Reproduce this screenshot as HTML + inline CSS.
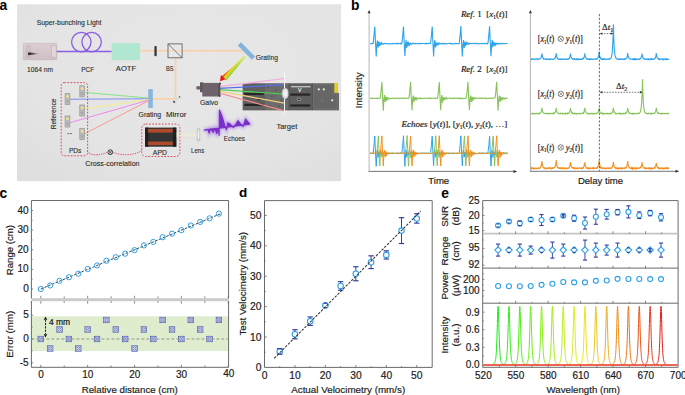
<!DOCTYPE html>
<html><head><meta charset="utf-8"><style>
html,body{margin:0;padding:0;background:#fff;width:685px;height:395px;overflow:hidden}
svg{display:block}
</style></head><body>
<svg width="685" height="395" viewBox="0 0 685 395">
<defs>
<radialGradient id="bgA" cx="0.55" cy="0.35" r="0.75">
<stop offset="0" stop-color="#e7e7e7"/><stop offset="0.7" stop-color="#e4e4e4"/><stop offset="1" stop-color="#dfdfdf"/>
</radialGradient>
<linearGradient id="rainbow" gradientUnits="userSpaceOnUse" x1="236" y1="64" x2="243" y2="71">
<stop offset="0" stop-color="#e81818"/><stop offset="0.3" stop-color="#f57a10"/><stop offset="0.55" stop-color="#f2e020"/><stop offset="0.8" stop-color="#8ed830"/><stop offset="1" stop-color="#d9e68a"/>
</linearGradient>
<linearGradient id="rbfade" gradientUnits="userSpaceOnUse" x1="222" y1="82" x2="246" y2="56">
<stop offset="0" stop-color="#fff" stop-opacity="1"/><stop offset="0.75" stop-color="#fff" stop-opacity="1"/><stop offset="1" stop-color="#fff" stop-opacity="0.2"/>
</linearGradient>
<mask id="rbmask"><rect x="200" y="40" width="60" height="60" fill="url(#rbfade)"/></mask>
<filter id="glow" x="-20%" y="-20%" width="140%" height="140%"><feGaussianBlur stdDeviation="1.4"/></filter>
<filter id="soft" x="-20%" y="-20%" width="140%" height="140%"><feGaussianBlur stdDeviation="0.6"/></filter>
<filter id="shadow" x="-20%" y="-20%" width="140%" height="160%"><feGaussianBlur stdDeviation="1.5"/></filter>
<linearGradient id="laserG" x1="0" y1="0" x2="0" y2="1">
<stop offset="0" stop-color="#dccdd3"/><stop offset="1" stop-color="#cfbfc6"/></linearGradient>
<linearGradient id="streak" x1="0" y1="0" x2="1" y2="0">
<stop offset="0" stop-color="#231a1e"/><stop offset="0.4" stop-color="#3a2e33" stop-opacity="0.8"/><stop offset="1" stop-color="#5a4a52" stop-opacity="0"/></linearGradient>
</defs>
<rect x="17" y="4.3" width="324.1" height="176.8" fill="url(#bgA)"/>
<rect x="23.2" y="43.3" width="33.6" height="16.4" rx="1" fill="url(#laserG)" stroke="#bfaeb6" stroke-width="0.5"/>
<rect x="27" y="46" width="3" height="11.2" fill="none" stroke="#b4a3ab" stroke-width="0.6"/>
<rect x="51.7" y="45.8" width="4.4" height="11.4" fill="#e3d6dc" stroke="#b9a8b0" stroke-width="0.5"/>
<path d="M28.2,52.2 C32,52.6 36,53.2 40.5,53.8 C36,54.2 32,54.8 28.2,55.2 Z" fill="url(#streak)"/>
<text x="27.00" y="71.80" font-size="7.4" text-anchor="start" font-weight="normal" fill="#2c2c2c" font-family='"Liberation Sans", sans-serif' font-style="normal" stroke="#2c2c2c" stroke-width="0.12" textLength="26" lengthAdjust="spacingAndGlyphs">1064 nm</text>
<text x="36.70" y="24.90" font-size="7.4" text-anchor="start" font-weight="normal" fill="#2c2c2c" font-family='"Liberation Sans", sans-serif' font-style="normal" stroke="#2c2c2c" stroke-width="0.12" textLength="64.7" lengthAdjust="spacingAndGlyphs">Super-bunching Light</text>
<line x1="56.80" y1="51.50" x2="111.80" y2="51.50" stroke="#8a5ce6" stroke-width="1.3" />
<circle cx="81.3" cy="42.1" r="9.7" fill="none" stroke="#8a5ce6" stroke-width="1.3"/>
<circle cx="91.6" cy="42.1" r="9.7" fill="none" stroke="#8a5ce6" stroke-width="1.3"/>
<text x="81.30" y="71.90" font-size="7.4" text-anchor="start" font-weight="normal" fill="#2c2c2c" font-family='"Liberation Sans", sans-serif' font-style="normal" stroke="#2c2c2c" stroke-width="0.12" textLength="12.9" lengthAdjust="spacingAndGlyphs">PCF</text>
<rect x="111.6" y="43.1" width="28.5" height="17.1" fill="#b1e6d1"/>
<text x="115.80" y="71.10" font-size="7.4" text-anchor="start" font-weight="normal" fill="#2c2c2c" font-family='"Liberation Sans", sans-serif' font-style="normal" stroke="#2c2c2c" stroke-width="0.12" textLength="20.4" lengthAdjust="spacingAndGlyphs">AOTF</text>
<line x1="140.00" y1="50.70" x2="243.00" y2="50.70" stroke="#fccfa6" stroke-width="1.6" />
<line x1="175.50" y1="57.50" x2="175.50" y2="98.80" stroke="#fccfa6" stroke-width="1.6" />
<line x1="175.50" y1="98.80" x2="152.80" y2="98.80" stroke="#fccfa6" stroke-width="1.6" />
<rect x="154.4" y="46.1" width="2.3" height="10.2" rx="0.8" fill="#3a3a3a"/>
<rect x="168" y="43.9" width="14.1" height="13.9" fill="#e8e8e8" fill-opacity="0.4" stroke="#555" stroke-width="0.8"/>
<line x1="168.00" y1="43.90" x2="182.10" y2="57.80" stroke="#555" stroke-width="0.7" />
<text x="165.90" y="70.50" font-size="7.4" text-anchor="start" font-weight="normal" fill="#2c2c2c" font-family='"Liberation Sans", sans-serif' font-style="normal" stroke="#2c2c2c" stroke-width="0.12" textLength="7.6" lengthAdjust="spacingAndGlyphs">BS</text>
<g transform="translate(246.4 51) rotate(45)"><rect x="-10" y="-2.3" width="20" height="4.6" fill="#86b3dc"/></g>
<text x="255.80" y="60.10" font-size="7.4" text-anchor="start" font-weight="normal" fill="#2c2c2c" font-family='"Liberation Sans", sans-serif' font-style="normal" stroke="#2c2c2c" stroke-width="0.12" textLength="22.2" lengthAdjust="spacingAndGlyphs">Grating</text>
<g transform="translate(244.2 55.8) rotate(130.99)">
<defs><linearGradient id="rbw" gradientUnits="userSpaceOnUse" x1="0" y1="3.6" x2="0" y2="-3.0"><stop offset="0" stop-color="#ee1010"/><stop offset="0.22" stop-color="#f56a10"/><stop offset="0.42" stop-color="#f7d818"/><stop offset="0.62" stop-color="#b4dc2c"/><stop offset="1" stop-color="#8ccf3e"/></linearGradient><linearGradient id="rbw2" gradientUnits="userSpaceOnUse" x1="0" y1="0" x2="14" y2="0"><stop offset="0" stop-color="#e4eaa0" stop-opacity="0.9"/><stop offset="1" stop-color="#e4eaa0" stop-opacity="0"/></linearGradient></defs>
<path d="M0,-2.0 L0,0.2 L16.69,1.4 L30.39,3.6 L30.39,-2.8 Z" fill="url(#rbw)"/>
<path d="M0,-2.3 L0,1.1 L12,2.0 L12,-2.6 Z" fill="url(#rbw2)"/>
<path d="M34.99,1.6 L29.79,5.0 L29.99,-1.4 Z" fill="#ee1212"/>
</g>
<rect x="242.8" y="83.5" width="96.1" height="26.7" fill="#626262"/>
<rect x="242.8" y="83.5" width="22.5" height="26.7" fill="#606060"/>
<rect x="265.3" y="83.5" width="23.7" height="26.7" fill="#6c6c6c"/>
<rect x="289" y="83.5" width="23" height="26.7" fill="#5e5e5e"/>
<rect x="312" y="83.5" width="26.9" height="26.7" fill="#666666"/>
<path d="M313.5,85 L332.8,85 L332.8,93.5 L337.3,93.5 L337.3,108.8 L313.5,108.8 Z" fill="none" stroke="#7a7a7a" stroke-width="0.5"/>
<rect x="334.3" y="82.8" width="3.2" height="10" fill="#e6cf2a"/>
<rect x="337.5" y="83" width="1.6" height="10" fill="#e2e2e2"/>
<rect x="244.3" y="92.9" width="19.5" height="2.2" fill="#262626"/>
<rect x="290.3" y="93.5" width="20" height="2.2" fill="#262626"/>
<rect x="244.3" y="103.8" width="19.5" height="2.2" fill="#262626"/>
<rect x="290.3" y="104.39999999999999" width="20" height="2.2" fill="#262626"/>
<rect x="291" y="86.2" width="19.5" height="1.1" fill="#d8d8d8"/>
<rect x="297.3" y="98.3" width="3.4" height="2.2" rx="0.8" fill="#2a2a2a" stroke="#ddd" stroke-width="0.5"/>
<text x="299.60" y="92.30" font-size="5" text-anchor="middle" font-weight="normal" fill="#eee" font-family='"Liberation Sans", sans-serif' font-style="normal" stroke="#eee" stroke-width="0.18" >V</text>
<circle cx="318.8" cy="89.4" r="1.1" fill="#e8e8e8"/>
<circle cx="323.8" cy="89.4" r="1.1" fill="#e8e8e8"/>
<circle cx="332.2" cy="100.3" r="1.1" fill="#e8e8e8"/>
<rect x="321" y="99.8" width="2.5" height="1.4" fill="#777"/>
<circle cx="268" cy="87" r="0.5" fill="#222"/>
<circle cx="272" cy="96" r="0.5" fill="#222"/>
<circle cx="276" cy="90" r="0.5" fill="#222"/>
<circle cx="281" cy="101" r="0.5" fill="#222"/>
<circle cx="270" cy="106" r="0.5" fill="#222"/>
<circle cx="279" cy="106" r="0.5" fill="#222"/>
<circle cx="287" cy="88" r="0.5" fill="#222"/>
<circle cx="287" cy="99" r="0.5" fill="#222"/>
<rect x="257.5" y="98.6" width="3.2" height="1.6" fill="#222"/>
<line x1="219.00" y1="86.70" x2="284.50" y2="78.50" stroke="#f5a8dc" stroke-width="1.2" />
<line x1="219.00" y1="88.30" x2="284.50" y2="84.80" stroke="#5a6ee6" stroke-width="1.2" />
<line x1="219.00" y1="89.60" x2="284.50" y2="94.10" stroke="#4fcf4f" stroke-width="1.2" />
<line x1="219.00" y1="91.20" x2="284.50" y2="103.20" stroke="#f2d077" stroke-width="1.2" />
<line x1="219.00" y1="93.00" x2="284.50" y2="110.80" stroke="#f58a8a" stroke-width="1.2" />
<line x1="284.50" y1="72.30" x2="284.50" y2="115.20" stroke="#f5f5f5" stroke-width="1.0" />
<ellipse cx="285.3" cy="93.4" rx="3.3" ry="5.4" fill="#dcdcdc" stroke="#b0b0b0" stroke-width="0.6"/>
<ellipse cx="285.3" cy="93.4" rx="1.8" ry="3.2" fill="#f2f2f2"/>
<line x1="289" y1="83.5" x2="289" y2="110.2" stroke="#444" stroke-width="0.6"/>
<line x1="312.5" y1="83.5" x2="312.5" y2="110.2" stroke="#4a4a4a" stroke-width="0.6"/>
<text x="276.40" y="129.40" font-size="7.4" text-anchor="start" font-weight="normal" fill="#2c2c2c" font-family='"Liberation Sans", sans-serif' font-style="normal" stroke="#2c2c2c" stroke-width="0.12" textLength="20.9" lengthAdjust="spacingAndGlyphs">Target</text>
<rect x="200" y="82.3" width="3.4" height="10" rx="0.8" fill="#5f555b"/>
<ellipse cx="198.3" cy="87.8" rx="2.2" ry="1.9" fill="#65595f"/>
<ellipse cx="197.6" cy="87.8" rx="0.9" ry="0.9" fill="#8a7d84"/>
<rect x="202.3" y="82.9" width="15.5" height="13.6" fill="#6f636b"/>
<rect x="217.5" y="83.2" width="2.8" height="13.2" fill="#5c5158"/>
<circle cx="219.9" cy="83.7" r="1.15" fill="#4f454b"/>
<circle cx="219.6" cy="95.8" r="1.15" fill="#4f454b"/>
<text x="200.00" y="105.30" font-size="7.4" text-anchor="start" font-weight="normal" fill="#2c2c2c" font-family='"Liberation Sans", sans-serif' font-style="normal" stroke="#2c2c2c" stroke-width="0.12" textLength="18" lengthAdjust="spacingAndGlyphs">Galvo</text>
<rect x="148.2" y="89.1" width="4.6" height="18.8" fill="#89b4dc"/>
<g transform="translate(177 99.3) rotate(-42)"><rect x="-4.2" y="-0.9" width="8.4" height="1.8" fill="#d8d8d8"/><rect x="-4.6" y="-1" width="1.4" height="2" fill="#222"/><rect x="3.2" y="-0.9" width="1" height="1.8" fill="#555"/></g>
<text x="138.60" y="117.00" font-size="7.4" text-anchor="start" font-weight="normal" fill="#2c2c2c" font-family='"Liberation Sans", sans-serif' font-style="normal" stroke="#2c2c2c" stroke-width="0.12" textLength="22.4" lengthAdjust="spacingAndGlyphs">Grating</text>
<text x="165.90" y="117.00" font-size="7.4" text-anchor="start" font-weight="normal" fill="#2c2c2c" font-family='"Liberation Sans", sans-serif' font-style="normal" stroke="#2c2c2c" stroke-width="0.12" textLength="20.5" lengthAdjust="spacingAndGlyphs">Mirror</text>
<line x1="84.90" y1="92.50" x2="148.30" y2="98.00" stroke="#86e486" stroke-width="1.0" />
<line x1="70.30" y1="99.20" x2="148.30" y2="98.80" stroke="#7d8df0" stroke-width="1.0" />
<line x1="84.90" y1="108.70" x2="148.30" y2="99.50" stroke="#f5ee88" stroke-width="1.0" />
<line x1="70.30" y1="122.60" x2="148.30" y2="100.20" stroke="#ee88ee" stroke-width="1.0" />
<line x1="84.90" y1="133.60" x2="148.30" y2="100.90" stroke="#f69a8e" stroke-width="1.0" />
<rect x="79.3" y="85.2" width="5.6" height="12" rx="0.8" fill="#a2a2a2"/>
<rect x="80.1" y="86.0" width="4" height="10.4" rx="0.5" fill="#bababa"/>
<circle cx="82.1" cy="88.4" r="1.5" fill="#f2e08c"/>
<path d="M80.89999999999999,92.2 L83.3,94.8 M83.3,92.2 L80.89999999999999,94.8" stroke="#8a8a8a" stroke-width="0.5"/>
<rect x="64.7" y="93.0" width="5.6" height="12" rx="0.8" fill="#a2a2a2"/>
<rect x="65.5" y="93.8" width="4" height="10.4" rx="0.5" fill="#bababa"/>
<circle cx="67.5" cy="96.2" r="1.5" fill="#f2e08c"/>
<path d="M66.3,100.0 L68.7,102.6 M68.7,100.0 L66.3,102.6" stroke="#8a8a8a" stroke-width="0.5"/>
<rect x="79.3" y="104.5" width="5.6" height="12" rx="0.8" fill="#a2a2a2"/>
<rect x="80.1" y="105.3" width="4" height="10.4" rx="0.5" fill="#bababa"/>
<circle cx="82.1" cy="107.7" r="1.5" fill="#f2e08c"/>
<path d="M80.89999999999999,111.5 L83.3,114.1 M83.3,111.5 L80.89999999999999,114.1" stroke="#8a8a8a" stroke-width="0.5"/>
<rect x="64.7" y="115.5" width="5.6" height="12" rx="0.8" fill="#a2a2a2"/>
<rect x="65.5" y="116.3" width="4" height="10.4" rx="0.5" fill="#bababa"/>
<circle cx="67.5" cy="118.7" r="1.5" fill="#f2e08c"/>
<path d="M66.3,122.5 L68.7,125.1 M68.7,122.5 L66.3,125.1" stroke="#8a8a8a" stroke-width="0.5"/>
<rect x="79.3" y="127.9" width="5.6" height="12" rx="0.8" fill="#a2a2a2"/>
<rect x="80.1" y="128.70000000000002" width="4" height="10.4" rx="0.5" fill="#bababa"/>
<circle cx="82.1" cy="131.1" r="1.5" fill="#f2e08c"/>
<path d="M80.89999999999999,134.9 L83.3,137.5 M83.3,134.9 L80.89999999999999,137.5" stroke="#8a8a8a" stroke-width="0.5"/>
<line x1="67.40" y1="133.60" x2="69.20" y2="133.60" stroke="#444" stroke-width="0.8" />
<line x1="70.00" y1="133.60" x2="71.80" y2="133.60" stroke="#444" stroke-width="0.8" />
<rect x="61.2" y="82.6" width="26.4" height="73.2" rx="3" fill="none" stroke="#d2425a" stroke-width="0.95" stroke-dasharray="1.7,1.5"/>
<text x="68.90" y="152.60" font-size="7.4" text-anchor="start" font-weight="normal" fill="#2c2c2c" font-family='"Liberation Sans", sans-serif' font-style="normal" stroke="#2c2c2c" stroke-width="0.12" textLength="12.4" lengthAdjust="spacingAndGlyphs">PDs</text>
<text x="56.30" y="113.80" font-size="7.4" text-anchor="middle" font-weight="normal" fill="#2c2c2c" font-family='"Liberation Sans", sans-serif' font-style="normal" stroke="#2c2c2c" stroke-width="0.12" transform="rotate(-90 56.30 113.80)" textLength="30.8" lengthAdjust="spacingAndGlyphs">Reference</text>
<rect x="141.8" y="124" width="38.1" height="32.5" rx="4" fill="none" stroke="#d2425a" stroke-width="0.95" stroke-dasharray="1.7,1.5"/>
<rect x="145.1" y="127.6" width="31.2" height="19.1" fill="#343434"/>
<rect x="145.1" y="127.6" width="3.4" height="19.1" fill="#1f1f1f"/>
<rect x="172.9" y="127.6" width="3.4" height="19.1" fill="#1f1f1f"/>
<rect x="147.9" y="128.9" width="24.9" height="3.7" fill="#b04a2c"/>
<rect x="147.9" y="141.6" width="24.9" height="3.5" fill="#b04a2c"/>
<text x="152.80" y="154.70" font-size="7.4" text-anchor="start" font-weight="normal" fill="#2c2c2c" font-family='"Liberation Sans", sans-serif' font-style="normal" stroke="#2c2c2c" stroke-width="0.12" textLength="14.2" lengthAdjust="spacingAndGlyphs">APD</text>
<path d="M87.6,151.5 C90,156 100,155.5 107.2,152.4 M113.4,152.4 C120,155.5 134,156 141.8,150.5" fill="none" stroke="#d2425a" stroke-width="0.9" stroke-dasharray="1.3,1.1"/>
<circle cx="110.3" cy="152.2" r="2.4" fill="none" stroke="#222" stroke-width="0.8"/>
<line x1="108.60" y1="150.50" x2="112.00" y2="153.90" stroke="#222" stroke-width="0.7" />
<line x1="112.00" y1="150.50" x2="108.60" y2="153.90" stroke="#222" stroke-width="0.7" />
<text x="85.30" y="165.60" font-size="7.4" text-anchor="start" font-weight="normal" fill="#2c2c2c" font-family='"Liberation Sans", sans-serif' font-style="normal" stroke="#2c2c2c" stroke-width="0.12" textLength="54.3" lengthAdjust="spacingAndGlyphs">Cross-correlation</text>
<line x1="176.30" y1="133.50" x2="197.30" y2="130.50" stroke="#d8f0c0" stroke-width="0.6" />
<line x1="176.30" y1="135.00" x2="197.30" y2="135.00" stroke="#f5f0c0" stroke-width="0.6" />
<line x1="176.30" y1="136.50" x2="197.30" y2="139.00" stroke="#f5d0c8" stroke-width="0.6" />
<rect x="197.1" y="128.4" width="2.8" height="12.6" rx="1" fill="#d0d0d0" stroke="#aaa" stroke-width="0.4"/>
<rect x="197.8" y="130.5" width="1.4" height="8" fill="#f4f4f4"/>
<text x="191.10" y="153.20" font-size="7.4" text-anchor="start" font-weight="normal" fill="#2c2c2c" font-family='"Liberation Sans", sans-serif' font-style="normal" stroke="#2c2c2c" stroke-width="0.12" textLength="13.1" lengthAdjust="spacingAndGlyphs">Lens</text>
<path d="M204.1,130.1 L208.1,129.3 L209.1,133.2 L210.7,128.8 L213.2,132.4 L214.7,128.3 L216.7,133.6 L218.3,129.3 L219.1,135.4 L219.5,110.1 L222.3,117.2 L225.2,126.8 L226.4,129.8 L227.9,122.7 L230.9,124.8 L233.5,127.5 L238,120.7 L241.6,125.3 L243.1,126.5 L245.6,119 L249.7,124.1 Z" fill="#a070ee" stroke="#a070ee" stroke-width="3.2" opacity="0.6" filter="url(#glow)"/>
<path d="M204.1,130.1 L208.1,129.3 L209.1,133.2 L210.7,128.8 L213.2,132.4 L214.7,128.3 L216.7,133.6 L218.3,129.3 L219.1,135.4 L219.5,110.1 L222.3,117.2 L225.2,126.8 L226.4,129.8 L227.9,122.7 L230.9,124.8 L233.5,127.5 L238,120.7 L241.6,125.3 L243.1,126.5 L245.6,119 L249.7,124.1 Z" fill="#7a2fc8" stroke="#7a2fc8" stroke-width="1.1" stroke-linejoin="round"/>
<text x="223.80" y="141.00" font-size="7.4" text-anchor="start" font-weight="normal" fill="#2c2c2c" font-family='"Liberation Sans", sans-serif' font-style="normal" stroke="#2c2c2c" stroke-width="0.12" textLength="21" lengthAdjust="spacingAndGlyphs">Echoes</text>
<text x="-0.50" y="9.80" font-size="13.8" text-anchor="start" font-weight="bold" fill="#000" font-family='"Liberation Sans", sans-serif' font-style="normal" >a</text>
<text x="351.10" y="9.70" font-size="13.8" text-anchor="start" font-weight="bold" fill="#000" font-family='"Liberation Sans", sans-serif' font-style="normal" >b</text>
<text x="-0.40" y="197.70" font-size="13.8" text-anchor="start" font-weight="bold" fill="#000" font-family='"Liberation Sans", sans-serif' font-style="normal" >c</text>
<text x="239.10" y="197.30" font-size="13.5" text-anchor="start" font-weight="bold" fill="#000" font-family='"Liberation Sans", sans-serif' font-style="normal" >d</text>
<text x="441.30" y="197.90" font-size="13.8" text-anchor="start" font-weight="bold" fill="#000" font-family='"Liberation Sans", sans-serif' font-style="normal" >e</text>
<line x1="369.10" y1="12.50" x2="369.10" y2="171.40" stroke="#b6b6b6" stroke-width="1.0" />
<line x1="368.60" y1="171.40" x2="514.00" y2="171.40" stroke="#7a7478" stroke-width="1.0" />
<path d="M367.6,13.3 L369.1,9.9 L370.6,13.3 Z" stroke="none" stroke-width="0" fill="#3a3030" />
<path d="M513.5,169.9 L517.2,171.4 L513.5,172.9 Z" stroke="none" stroke-width="0" fill="#3a3030" />
<line x1="530.40" y1="12.50" x2="530.40" y2="171.30" stroke="#b6b6b6" stroke-width="1.0" />
<line x1="529.90" y1="171.30" x2="676.00" y2="171.30" stroke="#7a7478" stroke-width="1.0" />
<path d="M528.9,13.3 L530.4,9.9 L531.9,13.3 Z" stroke="none" stroke-width="0" fill="#3a3030" />
<path d="M675.5,169.8 L679.2,171.3 L675.5,172.8 Z" stroke="none" stroke-width="0" fill="#3a3030" />
<path d="M370.20,43.42 L370.70,43.63 L371.20,43.51 L371.70,43.67 L372.20,43.69 L372.60,43.30 L372.70,43.18 L373.20,43.34 L373.70,38.24 L374.00,35.41 L374.20,33.60 L374.70,27.35 L374.80,26.44 L375.20,36.10 L375.30,38.70 L375.70,46.22 L376.20,56.39 L376.70,47.22 L376.80,45.12 L377.20,42.14 L377.40,40.52 L377.70,43.18 L378.10,47.78 L378.20,46.86 L378.70,42.66 L378.80,41.67 L379.20,44.79 L379.40,45.78 L379.70,44.62 L380.10,42.97 L380.20,43.14 L380.70,44.71 L380.80,44.63 L381.20,44.06 L381.60,42.96 L381.70,43.44 L382.20,44.09 L382.40,43.82 L382.70,43.70 L383.20,43.50 L383.40,43.93 L383.70,43.56 L384.20,43.69 L384.70,43.46 L385.20,43.61 L385.70,43.52 L386.20,43.50 L386.70,43.66 L387.20,43.66 L387.70,43.88 L388.20,43.73 L388.70,43.90 L389.20,43.85 L389.70,43.94 L390.20,43.72 L390.70,43.36 L391.20,43.85 L391.70,43.93 L392.20,43.88 L392.70,43.65 L393.20,43.75 L393.70,43.40 L394.20,43.83 L394.70,43.65 L395.20,43.45 L395.70,43.29 L396.20,43.85 L396.70,43.94 L397.20,43.31 L397.70,43.81 L398.20,43.54 L398.70,43.36 L399.20,43.46 L399.70,43.79 L400.20,43.86 L400.70,43.28 L401.20,43.68 L401.30,43.28 L401.70,43.42 L401.90,42.98 L402.20,40.55 L402.70,35.94 L403.20,29.73 L403.50,26.55 L403.70,31.03 L404.00,38.30 L404.20,42.60 L404.70,52.04 L404.90,56.09 L405.20,50.64 L405.50,45.18 L405.70,43.29 L406.10,40.08 L406.20,41.69 L406.70,46.44 L406.80,47.92 L407.20,44.68 L407.50,41.91 L407.70,43.24 L408.10,45.81 L408.20,45.46 L408.70,43.21 L408.80,42.74 L409.20,43.93 L409.50,45.01 L409.70,44.28 L410.20,43.16 L410.30,43.15 L410.70,43.37 L411.10,43.96 L411.20,44.38 L411.70,43.81 L412.10,43.63 L412.20,43.26 L412.70,43.54 L413.20,43.66 L413.70,43.26 L414.20,43.68 L414.70,43.69 L415.20,43.29 L415.70,43.69 L416.20,43.58 L416.70,43.73 L417.20,43.50 L417.70,43.74 L418.20,43.77 L418.70,43.27 L419.20,43.29 L419.70,43.72 L420.20,43.92 L420.70,43.43 L421.20,43.57 L421.70,43.66 L422.20,43.47 L422.70,43.50 L423.20,43.47 L423.70,43.51 L424.20,43.67 L424.70,43.46 L425.20,43.51 L425.70,43.79 L426.20,43.27 L426.70,43.65 L427.20,43.76 L427.70,43.47 L428.20,43.41 L428.70,43.81 L429.20,43.42 L429.70,43.38 L430.00,43.55 L430.20,43.57 L430.60,42.82 L430.70,42.04 L431.20,37.36 L431.40,35.83 L431.70,32.03 L432.20,26.45 L432.70,38.37 L433.20,48.32 L433.60,56.41 L433.70,54.70 L434.20,45.07 L434.70,40.99 L434.80,40.13 L435.20,44.54 L435.50,47.38 L435.70,46.21 L436.20,42.24 L436.70,44.95 L436.80,45.65 L437.20,44.24 L437.50,42.80 L437.70,43.49 L438.20,44.59 L438.70,43.38 L439.00,42.85 L439.20,43.48 L439.70,43.80 L439.80,43.99 L440.20,43.84 L440.70,43.59 L440.80,43.54 L441.20,43.89 L441.70,43.36 L442.20,43.25 L442.70,43.91 L443.20,43.87 L443.70,43.94 L444.20,43.55 L444.70,43.92 L445.20,43.90 L445.70,43.41 L446.20,43.77 L446.70,43.84 L447.20,43.71 L447.70,43.61 L448.20,43.45 L448.70,43.49 L449.20,43.41 L449.70,43.30 L450.20,43.66 L450.70,43.45 L451.20,43.82 L451.70,43.28 L452.20,43.88 L452.70,43.74 L453.20,43.90 L453.70,43.88 L454.20,43.88 L454.70,43.65 L455.20,43.26 L455.70,43.77 L456.20,43.37 L456.70,43.46 L457.20,43.71 L457.70,43.62 L458.20,43.54 L458.70,43.91 L459.20,43.26 L459.30,42.99 L459.70,39.18 L460.10,35.85 L460.20,34.41 L460.70,28.75 L460.90,26.10 L461.20,33.43 L461.40,38.62 L461.70,44.72 L462.20,54.10 L462.30,56.50 L462.70,49.13 L462.90,45.31 L463.20,42.98 L463.50,40.06 L463.70,42.55 L464.20,47.85 L464.70,43.28 L464.90,41.84 L465.20,43.74 L465.50,45.82 L465.70,44.86 L466.20,42.68 L466.70,44.32 L466.90,44.35 L467.20,43.75 L467.70,42.74 L468.20,43.42 L468.50,43.80 L468.70,44.33 L469.20,44.00 L469.50,43.31 L469.70,43.60 L470.20,43.47 L470.70,43.47 L471.20,43.50 L471.70,43.70 L472.20,43.66 L472.70,43.50 L473.20,43.38 L473.70,43.48 L474.20,43.34 L474.70,43.64 L475.20,43.75 L475.70,43.52 L476.20,43.31 L476.70,43.37 L477.20,43.51 L477.70,43.67 L478.20,43.80 L478.70,43.52 L479.20,43.81 L479.70,43.69 L480.20,43.55 L480.70,43.51 L481.20,43.60 L481.70,43.74 L482.20,43.54 L482.70,43.74 L483.20,43.57 L483.70,43.42 L484.20,43.63 L484.70,43.74 L485.20,43.30 L485.70,43.55 L486.20,43.55 L486.70,43.87 L487.20,43.91 L487.40,43.51 L487.70,43.63 L488.00,43.30 L488.20,41.06 L488.70,36.51 L488.80,35.34 L489.20,31.12 L489.60,26.31 L489.70,28.95 L490.10,38.80 L490.20,40.68 L490.70,50.56 L491.00,56.34 L491.20,52.29 L491.60,45.16 L491.70,43.97 L492.20,40.15 L492.70,45.73 L492.90,47.28 L493.20,44.91 L493.60,41.72 L493.70,42.90 L494.20,45.58 L494.70,43.25 L494.90,42.94 L495.20,43.29 L495.60,44.94 L495.70,44.61 L496.20,43.66 L496.40,43.32 L496.70,43.47 L497.20,44.31 L497.70,43.53 L498.20,43.79 L498.70,43.61 L499.20,43.75 L499.70,43.32 L500.20,43.77 L500.70,43.90 L501.20,43.29 L501.70,43.48 L502.20,43.64 L502.70,43.83 L503.20,43.42 L503.70,43.38 L504.20,43.42 L504.70,43.68 L505.20,43.78 L505.70,43.53 L506.20,43.51 L506.70,43.53 L507.20,43.50 L507.70,43.54" stroke="#2ca3ea" stroke-width="1.1" fill="none" />
<path d="M370.20,98.01 L370.70,98.30 L371.20,98.63 L371.70,98.24 L372.20,98.47 L372.70,98.06 L373.20,98.43 L373.70,98.48 L374.20,98.42 L374.70,98.31 L375.20,98.29 L375.70,98.40 L376.20,98.58 L376.70,98.05 L377.20,98.02 L377.70,98.47 L378.20,98.59 L378.70,98.31 L379.20,98.26 L379.70,98.45 L380.20,97.68 L380.30,97.66 L380.70,94.05 L381.10,90.76 L381.20,89.45 L381.70,83.82 L381.90,81.90 L382.20,89.16 L382.40,93.41 L382.70,99.30 L383.20,108.44 L383.30,110.61 L383.70,103.33 L383.90,99.56 L384.20,97.29 L384.50,94.93 L384.70,97.20 L385.20,102.02 L385.70,98.07 L385.90,96.68 L386.20,98.46 L386.50,100.58 L386.70,99.30 L387.20,97.79 L387.70,98.79 L387.90,99.41 L388.20,98.72 L388.70,97.96 L389.20,98.61 L389.50,98.81 L389.70,98.67 L390.20,98.60 L390.50,98.55 L390.70,98.23 L391.20,98.46 L391.70,98.62 L392.20,98.28 L392.70,98.11 L393.20,98.11 L393.70,98.45 L394.20,98.42 L394.70,98.62 L395.20,98.55 L395.70,98.12 L396.20,98.08 L396.70,98.13 L397.20,98.08 L397.70,98.44 L398.20,98.55 L398.70,98.58 L399.20,98.13 L399.70,98.56 L400.20,98.17 L400.70,98.25 L401.20,98.46 L401.70,98.01 L402.20,98.01 L402.70,98.53 L403.20,98.15 L403.70,98.20 L404.20,98.36 L404.70,98.42 L405.20,97.95 L405.70,98.18 L406.20,98.26 L406.70,98.29 L407.20,98.10 L407.70,98.36 L408.20,98.62 L408.40,98.22 L408.70,98.09 L409.00,97.56 L409.20,95.89 L409.70,91.71 L409.80,90.43 L410.20,86.51 L410.60,82.06 L410.70,83.84 L411.10,93.86 L411.20,95.33 L411.70,104.95 L412.00,110.55 L412.20,106.68 L412.60,99.85 L412.70,99.09 L413.20,95.47 L413.70,99.98 L413.90,102.28 L414.20,100.14 L414.60,96.90 L414.70,97.41 L415.20,100.12 L415.70,98.28 L415.90,97.34 L416.20,98.41 L416.60,99.47 L416.70,99.19 L417.20,97.91 L417.40,97.83 L417.70,98.21 L418.20,98.55 L418.70,98.81 L419.20,98.41 L419.70,98.04 L420.20,98.60 L420.70,98.05 L421.20,98.18 L421.70,98.45 L422.20,98.37 L422.70,98.34 L423.20,98.40 L423.70,98.27 L424.20,98.17 L424.70,98.07 L425.20,98.00 L425.70,98.45 L426.20,98.48 L426.70,98.33 L427.20,98.47 L427.70,98.20 L428.20,98.14 L428.70,98.22 L429.20,98.56 L429.70,97.98 L430.20,98.30 L430.70,98.12 L431.20,98.49 L431.70,98.20 L432.20,98.18 L432.70,98.23 L433.20,98.33 L433.70,98.49 L434.20,98.20 L434.70,98.54 L435.20,98.03 L435.70,98.14 L436.20,98.02 L436.70,98.03 L437.10,98.50 L437.20,98.38 L437.70,97.60 L438.20,93.15 L438.50,90.64 L438.70,88.64 L439.20,83.11 L439.30,81.94 L439.70,91.26 L439.80,93.30 L440.20,100.95 L440.70,110.15 L441.20,101.52 L441.30,99.77 L441.70,96.54 L441.90,95.09 L442.20,98.39 L442.60,101.77 L442.70,101.55 L443.20,97.81 L443.30,97.09 L443.70,99.10 L443.90,100.43 L444.20,99.19 L444.60,97.54 L444.70,98.05 L445.20,99.20 L445.30,99.20 L445.70,98.79 L446.10,97.72 L446.20,97.93 L446.70,98.67 L446.90,98.43 L447.20,98.82 L447.70,98.51 L447.90,98.29 L448.20,98.32 L448.70,98.27 L449.20,98.09 L449.70,98.32 L450.20,97.98 L450.70,98.30 L451.20,98.40 L451.70,98.26 L452.20,98.35 L452.70,98.62 L453.20,98.57 L453.70,98.04 L454.20,98.50 L454.70,98.39 L455.20,97.99 L455.70,98.20 L456.20,98.11 L456.70,98.00 L457.20,98.33 L457.70,98.60 L458.20,98.18 L458.70,98.56 L459.20,98.44 L459.70,98.04 L460.20,98.55 L460.70,98.37 L461.20,98.60 L461.70,98.45 L462.20,98.47 L462.70,98.19 L463.20,98.51 L463.70,98.60 L464.20,98.55 L464.70,98.26 L465.20,98.48 L465.70,98.29 L465.80,98.03 L466.20,97.66 L466.40,97.53 L466.70,94.94 L467.20,90.46 L467.70,85.12 L468.00,81.91 L468.20,86.51 L468.50,93.50 L468.70,97.39 L469.20,106.49 L469.40,110.34 L469.70,105.22 L470.00,99.66 L470.20,98.01 L470.60,95.54 L470.70,96.39 L471.20,101.03 L471.30,102.01 L471.70,99.08 L472.00,96.85 L472.20,97.79 L472.60,100.04 L472.70,99.77 L473.20,98.06 L473.30,97.20 L473.70,98.50 L474.00,99.13 L474.20,98.74 L474.70,97.70 L474.80,97.66 L475.20,98.02 L475.60,98.44 L475.70,98.45 L476.20,98.26 L476.60,98.29 L476.70,97.99 L477.20,97.97 L477.70,98.26 L478.20,98.24 L478.70,98.44 L479.20,97.99 L479.70,98.23 L480.20,98.23 L480.70,97.97 L481.20,98.63 L481.70,98.10 L482.20,98.02 L482.70,98.28 L483.20,98.07 L483.70,98.39 L484.20,98.19 L484.70,98.04 L485.20,97.99 L485.70,98.46 L486.20,98.14 L486.70,98.50 L487.20,98.28 L487.70,98.60 L488.20,98.16 L488.70,98.12 L489.20,98.14 L489.70,98.52 L490.20,98.39 L490.70,98.19 L491.20,98.02 L491.70,98.43 L492.20,98.63 L492.70,98.36 L493.20,97.95 L493.70,97.97 L494.20,98.01 L494.50,98.07 L494.70,97.82 L495.10,97.51 L495.20,97.04 L495.70,92.76 L495.90,90.49 L496.20,87.68 L496.70,81.75 L497.20,93.76 L497.70,103.18 L498.10,110.67 L498.20,108.27 L498.70,99.59 L499.20,96.08 L499.30,95.57 L499.70,98.88 L500.00,101.96 L500.20,100.82 L500.70,96.51 L501.20,99.71 L501.30,100.27 L501.70,98.83 L502.00,97.74 L502.20,97.76 L502.70,99.51 L503.20,98.50 L503.50,97.96 L503.70,98.03 L504.20,98.94 L504.30,98.68 L504.70,98.53 L505.20,98.16 L505.30,98.50 L505.70,98.29 L506.20,98.14 L506.70,98.07 L507.20,98.45 L507.70,98.37" stroke="#88c35a" stroke-width="1.1" fill="none" />
<path d="M370.20,153.45 L370.70,153.22 L371.20,153.29 L371.70,153.06 L372.20,153.45 L372.60,152.97 L372.70,153.19 L373.20,152.98 L373.70,148.24 L374.00,145.02 L374.20,142.77 L374.70,137.32 L374.80,136.00 L375.20,146.08 L375.30,148.56 L375.70,156.13 L376.20,166.28 L376.70,156.83 L376.80,154.68 L377.20,151.58 L377.40,149.80 L377.70,153.12 L378.10,157.62 L378.20,156.22 L378.70,152.55 L378.80,151.43 L379.20,153.94 L379.40,155.60 L379.70,153.99 L380.10,152.08 L380.20,152.44 L380.70,154.22 L380.80,154.46 L381.20,153.21 L381.60,152.51 L381.70,153.16 L382.20,153.33 L382.40,153.84 L382.70,153.59 L383.20,153.60 L383.40,153.37 L383.70,153.50 L384.20,153.32 L384.70,153.08 L385.20,153.07 L385.70,153.01 L386.20,153.53 L386.70,153.03 L387.20,152.97 L387.70,153.63 L388.20,153.09 L388.70,153.58 L389.20,153.01 L389.70,153.28 L390.20,153.11 L390.70,153.53 L391.20,153.38 L391.70,153.40 L392.20,153.48 L392.70,153.56 L393.20,153.19 L393.70,153.37 L394.20,153.26 L394.70,153.03 L395.20,153.53 L395.70,153.37 L396.20,153.52 L396.70,153.09 L397.20,153.33 L397.70,153.27 L398.20,153.46 L398.70,153.00 L399.20,153.19 L399.70,153.29 L400.20,153.00 L400.70,153.34 L401.20,153.46 L401.30,153.25 L401.70,153.07 L401.90,152.87 L402.20,149.79 L402.70,145.20 L403.20,139.77 L403.50,135.78 L403.70,140.81 L404.00,148.01 L404.20,152.04 L404.70,161.83 L404.90,166.30 L405.20,160.56 L405.50,155.06 L405.70,153.57 L406.10,150.18 L406.20,151.43 L406.70,156.30 L406.80,157.24 L407.20,154.41 L407.50,151.98 L407.70,153.28 L408.10,155.49 L408.20,155.25 L408.70,152.78 L408.80,152.75 L409.20,153.84 L409.50,154.25 L409.70,154.28 L410.20,152.69 L410.30,152.42 L410.70,153.41 L411.10,153.66 L411.20,153.76 L411.70,153.60 L412.10,152.98 L412.20,153.47 L412.70,153.14 L413.20,153.25 L413.70,153.19 L414.20,153.47 L414.70,153.47 L415.20,153.15 L415.70,153.02 L416.20,153.16 L416.70,153.24 L417.20,153.00 L417.70,153.06 L418.20,153.48 L418.70,153.44 L419.20,153.63 L419.70,153.64 L420.20,153.56 L420.70,153.21 L421.20,153.06 L421.70,153.17 L422.20,153.27 L422.70,153.32 L423.20,153.33 L423.70,153.20 L424.20,153.55 L424.70,153.15 L425.20,153.27 L425.70,153.57 L426.20,153.51 L426.70,153.16 L427.20,153.12 L427.70,153.51 L428.20,152.96 L428.70,153.04 L429.20,153.32 L429.70,153.33 L430.00,153.07 L430.20,152.82 L430.60,152.59 L430.70,152.05 L431.20,147.15 L431.40,145.64 L431.70,141.97 L432.20,136.24 L432.70,147.97 L433.20,157.91 L433.60,165.66 L433.70,164.09 L434.20,154.69 L434.70,150.57 L434.80,150.13 L435.20,153.93 L435.50,157.17 L435.70,155.52 L436.20,151.91 L436.70,154.81 L436.80,155.33 L437.20,153.41 L437.50,152.35 L437.70,153.06 L438.20,154.52 L438.70,153.63 L439.00,152.92 L439.20,152.80 L439.70,153.41 L439.80,153.98 L440.20,153.80 L440.70,153.36 L440.80,153.53 L441.20,153.34 L441.70,153.15 L442.20,153.07 L442.70,152.96 L443.20,153.40 L443.70,153.58 L444.20,153.58 L444.70,153.28 L445.20,153.42 L445.70,153.60 L446.20,153.52 L446.70,153.37 L447.20,153.24 L447.70,153.31 L448.20,153.07 L448.70,153.08 L449.20,153.43 L449.70,153.64 L450.20,153.33 L450.70,153.24 L451.20,153.20 L451.70,153.27 L452.20,153.51 L452.70,153.27 L453.20,153.62 L453.70,153.06 L454.20,153.17 L454.70,153.32 L455.20,153.24 L455.70,153.55 L456.20,153.53 L456.70,153.60 L457.20,153.38 L457.70,152.97 L458.20,153.35 L458.70,153.33 L459.20,152.87 L459.30,152.65 L459.70,149.20 L460.10,145.59 L460.20,143.85 L460.70,138.37 L460.90,135.81 L461.20,143.35 L461.40,148.58 L461.70,154.52 L462.20,164.13 L462.30,165.79 L462.70,158.83 L462.90,154.58 L463.20,152.37 L463.50,150.33 L463.70,152.03 L464.20,157.14 L464.70,153.61 L464.90,152.01 L465.20,153.47 L465.50,155.42 L465.70,154.46 L466.20,152.14 L466.70,153.65 L466.90,154.74 L467.20,153.47 L467.70,152.51 L468.20,153.18 L468.50,153.51 L468.70,153.72 L469.20,153.62 L469.50,153.54 L469.70,153.39 L470.20,153.52 L470.70,152.95 L471.20,153.15 L471.70,153.62 L472.20,153.00 L472.70,153.14 L473.20,153.29 L473.70,153.14 L474.20,153.33 L474.70,152.98 L475.20,153.12 L475.70,153.62 L476.20,153.05 L476.70,153.58 L477.20,153.07 L477.70,153.64 L478.20,153.42 L478.70,153.40 L479.20,153.05 L479.70,152.99 L480.20,153.48 L480.70,153.07 L481.20,153.08 L481.70,153.53 L482.20,153.56 L482.70,152.98 L483.20,153.62 L483.70,153.32 L484.20,153.22 L484.70,153.02 L485.20,153.22 L485.70,153.64 L486.20,153.15 L486.70,153.04 L487.20,153.05 L487.40,153.04 L487.70,152.95 L488.00,153.09 L488.20,150.63 L488.70,146.02 L488.80,145.61 L489.20,140.95 L489.60,136.24 L489.70,138.20 L490.10,148.20 L490.20,150.58 L490.70,160.09 L491.00,166.14 L491.20,162.14 L491.60,154.46 L491.70,153.91 L492.20,150.27 L492.70,155.44 L492.90,157.35 L493.20,154.87 L493.60,151.73 L493.70,152.29 L494.20,155.52 L494.70,153.52 L494.90,152.19 L495.20,153.32 L495.60,154.70 L495.70,154.43 L496.20,152.90 L496.40,153.02 L496.70,153.35 L497.20,153.57 L497.70,153.39 L498.20,153.09 L498.70,152.99 L499.20,153.63 L499.70,153.24 L500.20,153.56 L500.70,153.03 L501.20,152.96 L501.70,153.56 L502.20,153.51 L502.70,153.64 L503.20,153.43 L503.70,153.32 L504.20,153.49 L504.70,153.01 L505.20,153.33 L505.70,153.26 L506.20,153.05 L506.70,153.37 L507.20,153.18 L507.70,153.30" stroke="#2ca3ea" stroke-width="1.0" fill="none" />
<path d="M370.20,153.21 L370.70,153.17 L371.20,153.20 L371.70,153.37 L372.20,153.64 L372.70,153.61 L373.20,153.55 L373.70,153.53 L374.20,153.15 L374.70,153.63 L375.20,153.14 L375.70,153.04 L376.20,153.30 L376.70,153.05 L376.80,152.69 L377.20,149.15 L377.60,145.15 L377.70,144.45 L378.20,138.22 L378.40,135.88 L378.70,143.36 L378.90,148.56 L379.20,154.54 L379.70,164.05 L379.80,165.96 L380.20,158.62 L380.40,154.50 L380.70,152.40 L381.00,150.34 L381.20,152.35 L381.70,156.99 L382.20,153.55 L382.40,151.62 L382.70,153.94 L383.00,155.41 L383.20,154.41 L383.70,152.43 L384.20,154.10 L384.40,154.35 L384.70,154.02 L385.20,152.85 L385.70,153.29 L386.00,153.66 L386.20,153.70 L386.70,153.38 L387.00,153.21 L387.20,153.41 L387.70,153.56 L388.20,153.36 L388.70,153.05 L389.20,153.10 L389.70,153.21 L390.20,153.38 L390.70,153.05 L391.20,153.01 L391.70,153.17 L392.20,153.15 L392.70,152.97 L393.20,153.33 L393.70,153.59 L394.20,153.32 L394.70,153.47 L395.20,153.53 L395.70,153.54 L396.20,153.59 L396.70,153.26 L397.20,153.43 L397.70,153.03 L398.20,153.57 L398.70,153.21 L399.20,153.28 L399.70,153.57 L400.20,153.15 L400.70,153.08 L401.20,153.53 L401.70,153.37 L402.20,153.01 L402.70,152.97 L403.20,153.20 L403.70,152.96 L404.20,153.53 L404.70,153.08 L404.90,153.14 L405.20,152.97 L405.50,152.81 L405.70,150.88 L406.20,146.33 L406.30,145.41 L406.70,140.56 L407.10,135.62 L407.20,138.72 L407.60,148.43 L407.70,149.98 L408.20,160.06 L408.50,166.18 L408.70,162.61 L409.10,154.50 L409.20,153.67 L409.70,150.09 L410.20,155.19 L410.40,157.58 L410.70,155.13 L411.10,151.58 L411.20,152.28 L411.70,155.56 L412.20,153.55 L412.40,152.19 L412.70,153.18 L413.10,154.11 L413.20,154.29 L413.70,152.79 L413.90,153.00 L414.20,153.13 L414.70,153.85 L415.20,153.26 L415.70,153.11 L416.20,153.28 L416.70,153.55 L417.20,153.33 L417.70,153.15 L418.20,153.64 L418.70,153.41 L419.20,153.32 L419.70,153.09 L420.20,153.16 L420.70,153.58 L421.20,153.04 L421.70,153.32 L422.20,153.38 L422.70,153.20 L423.20,153.49 L423.70,153.59 L424.20,153.55 L424.70,153.47 L425.20,153.09 L425.70,152.99 L426.20,153.25 L426.70,153.17 L427.20,153.09 L427.70,153.56 L428.20,153.10 L428.70,153.53 L429.20,153.61 L429.70,153.03 L430.20,153.59 L430.70,153.23 L431.20,153.10 L431.70,153.08 L432.20,152.98 L432.70,153.30 L433.20,153.22 L433.60,153.55 L433.70,153.45 L434.20,152.49 L434.70,148.04 L435.00,145.22 L435.20,142.72 L435.70,136.90 L435.80,135.73 L436.20,145.96 L436.30,148.19 L436.70,155.89 L437.20,165.80 L437.70,156.63 L437.80,154.85 L438.20,151.49 L438.40,150.24 L438.70,152.99 L439.10,157.42 L439.20,156.58 L439.70,152.27 L439.80,151.88 L440.20,154.16 L440.40,155.53 L440.70,154.24 L441.10,152.49 L441.20,152.65 L441.70,153.80 L441.80,154.60 L442.20,153.80 L442.60,152.69 L442.70,152.89 L443.20,153.36 L443.40,154.08 L443.70,153.78 L444.20,153.21 L444.40,153.52 L444.70,153.64 L445.20,153.19 L445.70,153.65 L446.20,153.29 L446.70,153.08 L447.20,153.45 L447.70,153.19 L448.20,153.46 L448.70,153.36 L449.20,153.03 L449.70,153.32 L450.20,153.55 L450.70,153.28 L451.20,153.33 L451.70,153.55 L452.20,153.26 L452.70,153.29 L453.20,153.36 L453.70,153.53 L454.20,153.09 L454.70,153.02 L455.20,153.48 L455.70,153.34 L456.20,153.16 L456.70,153.57 L457.20,153.57 L457.70,153.33 L458.20,153.64 L458.70,153.54 L459.20,153.47 L459.70,153.15 L460.20,152.96 L460.70,153.43 L461.20,153.46 L461.70,153.20 L462.20,153.29 L462.30,153.35 L462.70,152.79 L462.90,152.94 L463.20,150.03 L463.70,145.22 L464.20,139.15 L464.50,135.94 L464.70,140.73 L465.00,148.46 L465.20,152.00 L465.70,161.99 L465.90,165.79 L466.20,160.34 L466.50,154.85 L466.70,152.96 L467.10,149.79 L467.20,151.12 L467.70,156.06 L467.80,157.30 L468.20,153.87 L468.50,151.42 L468.70,152.99 L469.10,155.80 L469.20,155.32 L469.70,152.85 L469.80,152.33 L470.20,153.24 L470.50,154.24 L470.70,153.84 L471.20,153.22 L471.30,152.43 L471.70,153.56 L472.10,153.78 L472.20,153.70 L472.70,153.33 L473.10,153.62 L473.20,153.08 L473.70,153.35 L474.20,153.31 L474.70,153.09 L475.20,153.11 L475.70,153.64 L476.20,153.50 L476.70,153.46 L477.20,153.58 L477.70,153.02 L478.20,153.44 L478.70,153.48 L479.20,153.11 L479.70,153.27 L480.20,153.63 L480.70,153.18 L481.20,153.48 L481.70,153.07 L482.20,153.42 L482.70,153.14 L483.20,153.31 L483.70,153.21 L484.20,153.56 L484.70,153.47 L485.20,153.30 L485.70,153.43 L486.20,153.25 L486.70,153.51 L487.20,153.13 L487.70,153.33 L488.20,153.36 L488.70,153.22 L489.20,152.98 L489.70,153.07 L490.20,153.40 L490.70,153.10 L491.00,153.48 L491.20,153.14 L491.60,153.12 L491.70,152.11 L492.20,147.33 L492.40,145.21 L492.70,141.46 L493.20,135.94 L493.70,148.47 L494.20,158.43 L494.60,165.79 L494.70,163.89 L495.20,155.14 L495.70,151.05 L495.80,150.09 L496.20,154.38 L496.50,157.05 L496.70,155.73 L497.20,151.82 L497.70,154.94 L497.80,155.26 L498.20,153.47 L498.50,152.49 L498.70,153.24 L499.20,154.15 L499.70,152.99 L500.00,152.41 L500.20,153.17 L500.70,153.59 L500.80,153.77 L501.20,153.95 L501.70,153.43 L501.80,153.13 L502.20,153.44 L502.70,152.95 L503.20,153.15 L503.70,153.44 L504.20,153.07 L504.70,152.97 L505.20,153.31 L505.70,153.18 L506.20,153.63 L506.70,153.02 L507.20,153.51 L507.70,153.22" stroke="#88c35a" stroke-width="1.0" fill="none" />
<path d="M370.20,153.51 L370.70,153.26 L371.20,153.42 L371.70,153.18 L372.20,153.11 L372.70,153.27 L373.20,153.51 L373.70,153.19 L374.20,153.11 L374.70,153.24 L375.20,153.02 L375.70,153.17 L376.20,153.35 L376.70,153.33 L377.20,153.37 L377.70,153.15 L378.20,152.97 L378.70,152.97 L379.20,153.19 L379.70,153.09 L380.20,152.93 L380.30,152.64 L380.70,149.23 L381.10,145.37 L381.20,144.24 L381.70,138.41 L381.90,135.92 L382.20,143.29 L382.40,148.17 L382.70,153.89 L383.20,164.24 L383.30,166.00 L383.70,158.25 L383.90,155.10 L384.20,152.51 L384.50,150.19 L384.70,152.11 L385.20,157.04 L385.70,153.65 L385.90,151.47 L386.20,153.51 L386.50,155.85 L386.70,154.35 L387.20,152.40 L387.70,153.81 L387.90,154.22 L388.20,154.06 L388.70,152.64 L389.20,153.05 L389.50,153.78 L389.70,153.35 L390.20,153.60 L390.50,153.56 L390.70,153.58 L391.20,152.98 L391.70,153.42 L392.20,153.16 L392.70,153.28 L393.20,153.16 L393.70,153.16 L394.20,153.04 L394.70,153.39 L395.20,153.01 L395.70,153.62 L396.20,152.98 L396.70,153.62 L397.20,153.08 L397.70,153.01 L398.20,153.47 L398.70,153.32 L399.20,153.49 L399.70,153.31 L400.20,153.39 L400.70,153.01 L401.20,153.42 L401.70,153.31 L402.20,153.62 L402.70,152.95 L403.20,153.00 L403.70,153.42 L404.20,153.60 L404.70,153.25 L405.20,153.45 L405.70,153.34 L406.20,153.22 L406.70,153.28 L407.20,153.37 L407.70,152.97 L408.20,153.16 L408.40,153.47 L408.70,152.88 L409.00,152.78 L409.20,150.75 L409.70,146.14 L409.80,145.41 L410.20,140.77 L410.60,136.22 L410.70,138.36 L411.10,148.09 L411.20,150.15 L411.70,159.79 L412.00,165.82 L412.20,162.33 L412.60,154.88 L412.70,153.84 L413.20,149.88 L413.70,154.96 L413.90,157.08 L414.20,154.90 L414.60,151.53 L414.70,152.60 L415.20,155.55 L415.70,153.17 L415.90,152.35 L416.20,152.94 L416.60,154.56 L416.70,154.36 L417.20,153.03 L417.40,152.86 L417.70,152.95 L418.20,153.60 L418.70,153.36 L419.20,153.09 L419.70,153.37 L420.20,153.40 L420.70,153.46 L421.20,153.02 L421.70,153.49 L422.20,153.28 L422.70,153.21 L423.20,153.30 L423.70,153.25 L424.20,153.09 L424.70,153.23 L425.20,153.40 L425.70,153.45 L426.20,153.59 L426.70,153.09 L427.20,153.57 L427.70,153.51 L428.20,153.45 L428.70,153.64 L429.20,153.05 L429.70,153.49 L430.20,153.58 L430.70,153.04 L431.20,153.37 L431.70,153.61 L432.20,153.16 L432.70,153.55 L433.20,153.58 L433.70,153.25 L434.20,153.05 L434.70,153.10 L435.20,153.53 L435.70,153.25 L436.20,153.17 L436.70,153.26 L437.10,153.60 L437.20,153.04 L437.70,152.46 L438.20,148.43 L438.50,145.17 L438.70,142.87 L439.20,137.41 L439.30,135.75 L439.70,145.53 L439.80,148.57 L440.20,155.99 L440.70,165.81 L441.20,156.97 L441.30,154.61 L441.70,151.95 L441.90,149.98 L442.20,153.05 L442.60,157.10 L442.70,156.53 L443.20,152.54 L443.30,151.63 L443.70,154.24 L443.90,155.36 L444.20,154.41 L444.60,152.70 L444.70,152.86 L445.20,154.34 L445.30,154.10 L445.70,153.38 L446.10,152.49 L446.20,152.60 L446.70,153.85 L446.90,154.08 L447.20,153.94 L447.70,153.44 L447.90,153.03 L448.20,153.25 L448.70,152.99 L449.20,153.58 L449.70,153.14 L450.20,153.15 L450.70,153.61 L451.20,153.09 L451.70,153.60 L452.20,153.17 L452.70,153.42 L453.20,153.02 L453.70,153.58 L454.20,153.23 L454.70,153.19 L455.20,153.41 L455.70,153.37 L456.20,153.13 L456.70,153.04 L457.20,153.35 L457.70,152.97 L458.20,153.56 L458.70,153.19 L459.20,153.07 L459.70,153.18 L460.20,153.03 L460.70,153.17 L461.20,153.33 L461.70,153.23 L462.20,153.18 L462.70,153.15 L463.20,153.29 L463.70,153.50 L464.20,153.26 L464.70,153.49 L465.20,153.29 L465.70,153.03 L465.80,153.07 L466.20,153.21 L466.40,152.79 L466.70,149.91 L467.20,145.31 L467.70,139.67 L468.00,135.81 L468.20,140.76 L468.50,148.21 L468.70,151.89 L469.20,162.10 L469.40,165.99 L469.70,160.40 L470.00,154.77 L470.20,153.21 L470.60,150.25 L470.70,150.91 L471.20,156.61 L471.30,157.03 L471.70,154.36 L472.00,151.47 L472.20,153.17 L472.60,155.33 L472.70,154.76 L473.20,152.87 L473.30,152.64 L473.70,153.78 L474.00,154.66 L474.20,154.31 L474.70,152.60 L474.80,152.62 L475.20,152.97 L475.60,153.98 L475.70,153.72 L476.20,153.67 L476.60,153.51 L476.70,153.65 L477.20,153.42 L477.70,153.56 L478.20,153.33 L478.70,153.01 L479.20,153.57 L479.70,153.01 L480.20,153.01 L480.70,153.53 L481.20,153.15 L481.70,153.41 L482.20,152.97 L482.70,153.10 L483.20,153.45 L483.70,152.98 L484.20,153.31 L484.70,153.61 L485.20,153.10 L485.70,153.44 L486.20,153.47 L486.70,153.38 L487.20,153.49 L487.70,153.44 L488.20,152.96 L488.70,153.08 L489.20,153.33 L489.70,153.63 L490.20,153.10 L490.70,153.36 L491.20,153.04 L491.70,153.54 L492.20,153.26 L492.70,153.32 L493.20,153.42 L493.70,153.05 L494.20,153.46 L494.50,153.51 L494.70,153.39 L495.10,152.65 L495.20,151.68 L495.70,146.94 L495.90,145.58 L496.20,141.73 L496.70,135.82 L497.20,148.31 L497.70,158.27 L498.10,165.87 L498.20,164.02 L498.70,154.99 L499.20,151.08 L499.30,149.96 L499.70,153.92 L500.00,157.60 L500.20,155.86 L500.70,151.77 L501.20,154.80 L501.30,155.82 L501.70,153.68 L502.00,152.20 L502.20,152.69 L502.70,154.30 L503.20,153.41 L503.50,152.61 L503.70,153.29 L504.20,153.77 L504.30,153.77 L504.70,153.71 L505.20,153.42 L505.30,153.38 L505.70,153.30 L506.20,153.32 L506.70,153.29 L507.20,153.53 L507.70,153.08" stroke="#f68e1e" stroke-width="1.0" fill="none" />
<path d="M531.00,59.37 L531.25,59.08 L531.50,59.41 L531.75,58.94 L532.00,59.19 L532.25,59.17 L532.50,59.33 L532.75,59.02 L533.00,59.06 L533.25,58.98 L533.50,59.24 L533.75,59.25 L534.00,58.90 L534.25,59.01 L534.50,59.02 L534.75,59.47 L535.00,59.17 L535.25,59.24 L535.50,59.07 L535.75,59.29 L536.00,59.39 L536.25,59.30 L536.50,58.90 L536.75,59.16 L537.00,59.19 L537.25,58.92 L537.50,59.36 L537.75,59.08 L538.00,59.05 L538.25,59.24 L538.50,59.21 L538.75,59.13 L539.00,59.32 L539.25,59.08 L539.50,58.92 L539.75,58.67 L540.00,58.85 L540.25,58.57 L540.50,58.44 L540.75,57.99 L541.00,57.30 L541.25,56.63 L541.50,55.72 L541.75,54.28 L541.90,53.61 L542.00,54.22 L542.25,55.53 L542.50,56.87 L542.75,57.56 L543.00,57.73 L543.25,58.51 L543.50,58.45 L543.75,59.09 L544.00,58.70 L544.25,58.87 L544.50,58.91 L544.75,59.32 L545.00,59.32 L545.25,59.20 L545.50,58.96 L545.75,59.13 L546.00,59.30 L546.25,58.92 L546.50,59.44 L546.75,59.40 L547.00,59.46 L547.25,59.32 L547.50,59.27 L547.75,59.48 L548.00,59.06 L548.25,59.08 L548.50,58.97 L548.75,59.01 L549.00,59.38 L549.25,58.96 L549.50,59.35 L549.75,59.14 L550.00,59.43 L550.25,59.35 L550.50,59.31 L550.75,59.40 L551.00,58.92 L551.25,59.05 L551.50,59.11 L551.75,59.15 L552.00,59.29 L552.25,59.41 L552.50,59.31 L552.75,59.42 L553.00,59.26 L553.25,59.03 L553.50,59.08 L553.75,59.17 L554.00,59.14 L554.25,58.76 L554.50,58.60 L554.75,58.54 L555.00,57.99 L555.25,57.94 L555.50,56.77 L555.75,56.24 L556.00,54.83 L556.20,53.22 L556.25,53.84 L556.50,55.41 L556.75,56.83 L557.00,57.58 L557.25,57.96 L557.50,58.52 L557.75,58.80 L558.00,58.56 L558.25,59.09 L558.50,59.18 L558.75,59.34 L559.00,59.25 L559.25,59.06 L559.50,58.97 L559.75,59.26 L560.00,59.00 L560.25,59.34 L560.50,59.23 L560.75,59.39 L561.00,59.11 L561.25,59.08 L561.50,59.44 L561.75,59.30 L562.00,59.13 L562.25,59.24 L562.50,59.16 L562.75,59.29 L563.00,59.21 L563.25,59.07 L563.50,59.49 L563.75,59.43 L564.00,59.35 L564.25,59.07 L564.50,59.02 L564.75,59.34 L565.00,59.39 L565.25,59.29 L565.50,59.02 L565.75,59.33 L566.00,59.20 L566.25,59.11 L566.50,59.23 L566.75,59.14 L567.00,59.25 L567.25,59.30 L567.50,59.41 L567.75,58.85 L568.00,59.08 L568.25,59.23 L568.50,58.96 L568.75,58.77 L569.00,58.73 L569.25,57.95 L569.50,57.99 L569.75,57.29 L570.00,56.41 L570.25,55.03 L570.50,53.47 L570.75,54.92 L571.00,56.38 L571.25,57.07 L571.50,58.07 L571.75,58.41 L572.00,58.50 L572.25,58.88 L572.50,58.80 L572.75,58.98 L573.00,58.83 L573.25,59.30 L573.50,59.28 L573.75,59.30 L574.00,58.91 L574.25,59.36 L574.50,58.89 L574.75,59.23 L575.00,59.18 L575.25,58.93 L575.50,59.15 L575.75,59.43 L576.00,59.27 L576.25,59.09 L576.50,59.39 L576.75,59.11 L577.00,59.44 L577.25,59.14 L577.50,58.95 L577.75,59.48 L578.00,58.94 L578.25,59.05 L578.50,59.36 L578.75,58.97 L579.00,59.22 L579.25,59.41 L579.50,59.25 L579.75,59.10 L580.00,59.35 L580.25,59.39 L580.50,59.24 L580.75,59.26 L581.00,59.07 L581.25,59.11 L581.50,59.44 L581.75,59.41 L582.00,58.79 L582.25,58.87 L582.50,58.82 L582.75,59.07 L583.00,58.58 L583.25,58.37 L583.50,58.45 L583.75,57.71 L584.00,57.64 L584.25,56.53 L584.50,55.66 L584.75,53.99 L584.80,53.22 L585.00,55.01 L585.25,56.10 L585.50,56.90 L585.75,57.43 L586.00,58.28 L586.25,58.51 L586.50,58.57 L586.75,59.04 L587.00,58.77 L587.25,58.99 L587.50,58.83 L587.75,59.02 L588.00,59.37 L588.25,59.16 L588.50,58.96 L588.75,59.02 L589.00,59.27 L589.25,59.06 L589.50,59.43 L589.75,58.93 L590.00,59.42 L590.25,59.27 L590.50,59.39 L590.75,59.11 L591.00,58.94 L591.25,59.00 L591.50,59.28 L591.75,58.92 L592.00,58.97 L592.25,59.37 L592.50,59.43 L592.75,59.41 L593.00,59.40 L593.25,59.23 L593.50,59.42 L593.75,59.31 L594.00,59.23 L594.25,59.15 L594.50,58.90 L594.75,58.94 L595.00,59.03 L595.25,59.15 L595.50,58.93 L595.75,59.42 L596.00,59.16 L596.25,59.22 L596.50,59.25 L596.75,58.77 L597.00,59.06 L597.25,58.94 L597.50,58.30 L597.75,57.89 L598.00,57.82 L598.25,57.21 L598.50,56.20 L598.75,54.60 L599.00,52.76 L599.10,51.47 L599.25,52.99 L599.50,54.92 L599.75,56.38 L600.00,56.88 L600.25,58.01 L600.50,57.90 L600.75,58.77 L601.00,58.55 L601.25,59.04 L601.50,59.15 L601.75,59.30 L602.00,59.06 L602.25,59.24 L602.50,59.02 L602.75,59.36 L603.00,58.94 L603.25,59.41 L603.50,59.24 L603.75,58.93 L604.00,59.46 L604.25,59.08 L604.50,58.94 L604.75,59.05 L605.00,58.91 L605.25,59.07 L605.50,59.32 L605.75,59.49 L606.00,59.28 L606.25,59.41 L606.50,59.39 L606.75,59.32 L607.00,59.12 L607.25,59.04 L607.50,58.98 L607.75,59.21 L608.00,59.00 L608.25,59.31 L608.50,59.04 L608.75,59.18 L609.00,59.13 L609.25,59.14 L609.50,58.80 L609.75,58.78 L610.00,58.94 L610.25,58.50 L610.50,58.57 L610.75,58.46 L611.00,57.71 L611.25,57.49 L611.50,56.49 L611.75,55.59 L612.00,53.80 L612.25,51.80 L612.50,48.77 L612.75,44.30 L613.00,38.68 L613.25,30.59 L613.40,24.18 L613.50,28.66 L613.75,37.50 L614.00,43.65 L614.25,48.12 L614.50,50.91 L614.75,53.54 L615.00,55.13 L615.25,56.49 L615.50,56.77 L615.75,57.48 L616.00,58.39 L616.25,58.34 L616.50,58.76 L616.75,58.85 L617.00,58.85 L617.25,58.96 L617.50,59.09 L617.75,59.39 L618.00,59.14 L618.25,59.32 L618.50,59.04 L618.75,59.30 L619.00,59.24 L619.25,59.33 L619.50,59.42 L619.75,58.94 L620.00,59.47 L620.25,59.26 L620.50,59.05 L620.75,59.18 L621.00,58.96 L621.25,59.04 L621.50,59.40 L621.75,59.32 L622.00,59.42 L622.25,58.99 L622.50,58.96 L622.75,59.12 L623.00,59.19 L623.25,59.32 L623.50,59.06 L623.75,59.32 L624.00,59.22 L624.25,59.03 L624.50,59.31 L624.75,58.86 L625.00,59.13 L625.25,58.84 L625.50,58.68 L625.75,58.83 L626.00,58.70 L626.25,58.54 L626.50,58.08 L626.75,57.96 L627.00,57.24 L627.25,55.94 L627.50,54.54 L627.70,53.68 L627.75,53.75 L628.00,55.18 L628.25,56.36 L628.50,57.47 L628.75,57.71 L629.00,58.22 L629.25,58.67 L629.50,58.67 L629.75,58.98 L630.00,59.25 L630.25,59.22 L630.50,59.17 L630.75,59.20 L631.00,59.03 L631.25,59.25 L631.50,59.26 L631.75,59.23 L632.00,59.18 L632.25,59.34 L632.50,59.02 L632.75,59.32 L633.00,59.48 L633.25,58.92 L633.50,59.05 L633.75,59.49 L634.00,58.95 L634.25,59.39 L634.50,59.25 L634.75,58.94 L635.00,59.28 L635.25,58.90 L635.50,59.41 L635.75,59.08 L636.00,59.45 L636.25,59.44 L636.50,58.98 L636.75,59.14 L637.00,58.99 L637.25,59.35 L637.50,58.95 L637.75,58.93 L638.00,58.95 L638.25,59.39 L638.50,59.01 L638.75,59.04 L639.00,59.09 L639.25,59.12 L639.50,58.98 L639.75,59.24 L640.00,58.77 L640.25,58.71 L640.50,58.74 L640.75,58.07 L641.00,57.61 L641.25,57.42 L641.50,56.25 L641.75,55.38 L642.00,53.59 L642.25,55.07 L642.50,56.26 L642.75,56.97 L643.00,58.03 L643.25,58.19 L643.50,58.42 L643.75,58.53 L644.00,58.70 L644.25,59.19 L644.50,58.82 L644.75,59.12 L645.00,59.19 L645.25,59.16 L645.50,59.16 L645.75,59.11 L646.00,59.00 L646.25,59.38 L646.50,59.43 L646.75,59.23 L647.00,59.05 L647.25,59.44 L647.50,59.02 L647.75,59.00 L648.00,59.27 L648.25,59.40 L648.50,59.24 L648.75,58.97 L649.00,59.49 L649.25,58.99 L649.50,59.11 L649.75,59.49 L650.00,59.37 L650.25,59.35 L650.50,58.94 L650.75,59.41 L651.00,59.14 L651.25,58.90 L651.50,59.37 L651.75,59.45 L652.00,58.92 L652.25,59.15 L652.50,59.42 L652.75,59.06 L653.00,59.03 L653.25,59.29 L653.50,59.06 L653.75,59.35 L654.00,59.20 L654.25,59.10 L654.50,58.88 L654.75,58.38 L655.00,58.41 L655.25,57.95 L655.50,57.34 L655.75,56.60 L656.00,55.30 L656.25,53.62 L656.30,53.65 L656.50,54.76 L656.75,55.91 L657.00,57.35 L657.25,57.71 L657.50,58.26 L657.75,58.37 L658.00,58.48 L658.25,58.74 L658.50,59.15 L658.75,58.89 L659.00,59.32 L659.25,59.00 L659.50,59.38 L659.75,58.97 L660.00,59.14 L660.25,58.96 L660.50,58.97 L660.75,59.20 L661.00,59.11 L661.25,59.22 L661.50,59.03 L661.75,59.08 L662.00,59.09 L662.25,59.44 L662.50,58.95 L662.75,59.15 L663.00,59.41 L663.25,59.24 L663.50,59.05 L663.75,59.50 L664.00,58.96 L664.25,58.98 L664.50,58.91 L664.75,59.16 L665.00,59.42 L665.25,59.07 L665.50,59.07 L665.75,59.38 L666.00,58.95 L666.25,58.91 L666.50,59.30 L666.75,58.95 L667.00,59.22 L667.25,58.99 L667.50,59.26 L667.75,59.41 L668.00,59.17 L668.25,59.06 L668.50,59.27 L668.75,59.32 L669.00,58.93" stroke="#2ca3ea" stroke-width="1.1" fill="none" />
<path d="M531.00,113.44 L531.25,113.53 L531.50,113.60 L531.75,113.46 L532.00,113.69 L532.25,113.45 L532.50,113.84 L532.75,113.51 L533.00,113.43 L533.25,113.35 L533.50,113.38 L533.75,113.43 L534.00,113.83 L534.25,113.55 L534.50,113.57 L534.75,113.88 L535.00,113.88 L535.25,113.76 L535.50,113.44 L535.75,113.50 L536.00,113.60 L536.25,113.45 L536.50,113.51 L536.75,113.42 L537.00,113.44 L537.25,113.74 L537.50,113.65 L537.75,113.55 L538.00,113.56 L538.25,113.64 L538.50,113.67 L538.75,113.25 L539.00,113.71 L539.25,113.45 L539.50,113.32 L539.75,113.61 L540.00,113.37 L540.25,112.96 L540.50,112.53 L540.75,112.44 L541.00,111.96 L541.25,111.23 L541.50,110.08 L541.75,108.96 L541.90,107.65 L542.00,108.73 L542.25,110.10 L542.50,111.01 L542.75,112.07 L543.00,112.36 L543.25,112.51 L543.50,112.88 L543.75,112.92 L544.00,113.27 L544.25,113.64 L544.50,113.72 L544.75,113.59 L545.00,113.32 L545.25,113.40 L545.50,113.39 L545.75,113.50 L546.00,113.67 L546.25,113.30 L546.50,113.59 L546.75,113.55 L547.00,113.69 L547.25,113.79 L547.50,113.54 L547.75,113.66 L548.00,113.46 L548.25,113.57 L548.50,113.68 L548.75,113.33 L549.00,113.61 L549.25,113.60 L549.50,113.41 L549.75,113.45 L550.00,113.79 L550.25,113.51 L550.50,113.41 L550.75,113.47 L551.00,113.61 L551.25,113.53 L551.50,113.50 L551.75,113.48 L552.00,113.42 L552.25,113.58 L552.50,113.63 L552.75,113.31 L553.00,113.59 L553.25,113.40 L553.50,113.76 L553.75,113.69 L554.00,113.13 L554.25,113.36 L554.50,113.00 L554.75,112.64 L555.00,112.78 L555.25,112.35 L555.50,111.64 L555.75,110.63 L556.00,109.53 L556.20,107.83 L556.25,108.31 L556.50,109.91 L556.75,111.17 L557.00,111.96 L557.25,112.19 L557.50,112.52 L557.75,112.99 L558.00,113.21 L558.25,113.20 L558.50,113.60 L558.75,113.66 L559.00,113.61 L559.25,113.55 L559.50,113.67 L559.75,113.38 L560.00,113.76 L560.25,113.36 L560.50,113.83 L560.75,113.67 L561.00,113.46 L561.25,113.41 L561.50,113.66 L561.75,113.58 L562.00,113.72 L562.25,113.36 L562.50,113.82 L562.75,113.56 L563.00,113.56 L563.25,113.74 L563.50,113.66 L563.75,113.57 L564.00,113.48 L564.25,113.58 L564.50,113.32 L564.75,113.45 L565.00,113.79 L565.25,113.37 L565.50,113.35 L565.75,113.80 L566.00,113.51 L566.25,113.60 L566.50,113.63 L566.75,113.70 L567.00,113.45 L567.25,113.71 L567.50,113.22 L567.75,113.69 L568.00,113.32 L568.25,113.44 L568.50,113.15 L568.75,113.27 L569.00,112.85 L569.25,112.69 L569.50,112.10 L569.75,111.81 L570.00,110.93 L570.25,109.36 L570.50,107.95 L570.75,109.81 L571.00,110.60 L571.25,111.43 L571.50,112.47 L571.75,112.91 L572.00,112.70 L572.25,113.29 L572.50,113.52 L572.75,113.22 L573.00,113.61 L573.25,113.36 L573.50,113.69 L573.75,113.55 L574.00,113.54 L574.25,113.35 L574.50,113.67 L574.75,113.71 L575.00,113.47 L575.25,113.32 L575.50,113.35 L575.75,113.45 L576.00,113.90 L576.25,113.74 L576.50,113.84 L576.75,113.75 L577.00,113.38 L577.25,113.53 L577.50,113.87 L577.75,113.81 L578.00,113.89 L578.25,113.79 L578.50,113.73 L578.75,113.76 L579.00,113.85 L579.25,113.56 L579.50,113.32 L579.75,113.48 L580.00,113.30 L580.25,113.45 L580.50,113.64 L580.75,113.45 L581.00,113.42 L581.25,113.32 L581.50,113.46 L581.75,113.54 L582.00,113.55 L582.25,113.71 L582.50,113.13 L582.75,113.14 L583.00,112.90 L583.25,113.22 L583.50,112.77 L583.75,112.40 L584.00,111.94 L584.25,110.66 L584.50,110.06 L584.75,108.10 L584.80,107.88 L585.00,109.18 L585.25,110.70 L585.50,111.35 L585.75,111.97 L586.00,112.41 L586.25,113.00 L586.50,113.06 L586.75,113.04 L587.00,113.26 L587.25,113.47 L587.50,113.40 L587.75,113.57 L588.00,113.75 L588.25,113.64 L588.50,113.75 L588.75,113.46 L589.00,113.81 L589.25,113.85 L589.50,113.61 L589.75,113.31 L590.00,113.35 L590.25,113.75 L590.50,113.82 L590.75,113.73 L591.00,113.60 L591.25,113.62 L591.50,113.37 L591.75,113.66 L592.00,113.90 L592.25,113.42 L592.50,113.67 L592.75,113.81 L593.00,113.69 L593.25,113.51 L593.50,113.44 L593.75,113.74 L594.00,113.85 L594.25,113.82 L594.50,113.53 L594.75,113.74 L595.00,113.77 L595.25,113.50 L595.50,113.72 L595.75,113.48 L596.00,113.35 L596.25,113.20 L596.50,113.59 L596.75,113.55 L597.00,113.04 L597.25,112.92 L597.50,112.90 L597.75,112.58 L598.00,112.53 L598.25,111.69 L598.50,111.19 L598.75,110.11 L599.00,108.48 L599.10,108.01 L599.25,108.88 L599.50,110.33 L599.75,111.41 L600.00,111.94 L600.25,112.29 L600.50,113.09 L600.75,113.20 L601.00,113.24 L601.25,113.33 L601.50,113.48 L601.75,113.35 L602.00,113.25 L602.25,113.56 L602.50,113.79 L602.75,113.33 L603.00,113.87 L603.25,113.51 L603.50,113.89 L603.75,113.75 L604.00,113.46 L604.25,113.42 L604.50,113.83 L604.75,113.89 L605.00,113.78 L605.25,113.65 L605.50,113.63 L605.75,113.77 L606.00,113.79 L606.25,113.80 L606.50,113.47 L606.75,113.80 L607.00,113.87 L607.25,113.64 L607.50,113.30 L607.75,113.41 L608.00,113.69 L608.25,113.55 L608.50,113.85 L608.75,113.68 L609.00,113.71 L609.25,113.38 L609.50,113.59 L609.75,113.69 L610.00,113.80 L610.25,113.78 L610.50,113.37 L610.75,113.47 L611.00,113.70 L611.25,113.09 L611.50,112.96 L611.75,112.86 L612.00,112.95 L612.25,112.37 L612.50,112.12 L612.75,111.50 L613.00,110.51 L613.25,108.64 L613.40,107.91 L613.50,108.75 L613.75,110.20 L614.00,111.36 L614.25,112.07 L614.50,112.46 L614.75,112.98 L615.00,113.04 L615.25,112.95 L615.50,113.18 L615.75,113.66 L616.00,113.36 L616.25,113.48 L616.50,113.75 L616.75,113.66 L617.00,113.74 L617.25,113.56 L617.50,113.59 L617.75,113.33 L618.00,113.41 L618.25,113.39 L618.50,113.62 L618.75,113.61 L619.00,113.34 L619.25,113.68 L619.50,113.36 L619.75,113.53 L620.00,113.32 L620.25,113.58 L620.50,113.39 L620.75,113.86 L621.00,113.52 L621.25,113.80 L621.50,113.56 L621.75,113.50 L622.00,113.80 L622.25,113.46 L622.50,113.61 L622.75,113.68 L623.00,113.89 L623.25,113.71 L623.50,113.32 L623.75,113.55 L624.00,113.84 L624.25,113.77 L624.50,113.46 L624.75,113.29 L625.00,113.34 L625.25,113.58 L625.50,113.16 L625.75,113.48 L626.00,112.95 L626.25,112.98 L626.50,112.67 L626.75,111.95 L627.00,111.48 L627.25,110.63 L627.50,109.10 L627.70,107.82 L627.75,108.28 L628.00,110.10 L628.25,110.83 L628.50,111.55 L628.75,112.31 L629.00,112.75 L629.25,112.96 L629.50,113.40 L629.75,113.11 L630.00,113.39 L630.25,113.43 L630.50,113.31 L630.75,113.50 L631.00,113.52 L631.25,113.49 L631.50,113.74 L631.75,113.87 L632.00,113.87 L632.25,113.42 L632.50,113.52 L632.75,113.87 L633.00,113.35 L633.25,113.35 L633.50,113.34 L633.75,113.87 L634.00,113.60 L634.25,113.56 L634.50,113.36 L634.75,113.83 L635.00,113.89 L635.25,113.71 L635.50,113.84 L635.75,113.64 L636.00,113.48 L636.25,113.40 L636.50,113.47 L636.75,113.37 L637.00,113.50 L637.25,113.30 L637.50,113.28 L637.75,113.78 L638.00,113.72 L638.25,113.67 L638.50,113.34 L638.75,113.34 L639.00,113.30 L639.25,113.32 L639.50,112.85 L639.75,112.73 L640.00,112.40 L640.25,112.09 L640.50,111.11 L640.75,109.96 L641.00,108.87 L641.25,107.31 L641.50,104.31 L641.75,100.98 L642.00,95.67 L642.25,88.74 L642.50,79.17 L642.75,88.64 L643.00,95.86 L643.25,100.96 L643.50,104.44 L643.75,107.24 L644.00,109.14 L644.25,110.12 L644.50,111.36 L644.75,112.04 L645.00,112.43 L645.25,112.77 L645.50,113.01 L645.75,113.29 L646.00,113.39 L646.25,113.23 L646.50,113.52 L646.75,113.61 L647.00,113.49 L647.25,113.78 L647.50,113.44 L647.75,113.60 L648.00,113.62 L648.25,113.65 L648.50,113.40 L648.75,113.69 L649.00,113.36 L649.25,113.62 L649.50,113.57 L649.75,113.71 L650.00,113.81 L650.25,113.89 L650.50,113.44 L650.75,113.84 L651.00,113.58 L651.25,113.60 L651.50,113.32 L651.75,113.81 L652.00,113.42 L652.25,113.45 L652.50,113.46 L652.75,113.40 L653.00,113.42 L653.25,113.40 L653.50,113.51 L653.75,113.36 L654.00,113.54 L654.25,113.55 L654.50,113.42 L654.75,112.89 L655.00,112.80 L655.25,112.45 L655.50,111.89 L655.75,110.90 L656.00,109.64 L656.25,108.35 L656.30,107.89 L656.50,109.15 L656.75,110.65 L657.00,111.21 L657.25,112.28 L657.50,112.79 L657.75,113.15 L658.00,112.86 L658.25,113.36 L658.50,113.52 L658.75,113.21 L659.00,113.54 L659.25,113.33 L659.50,113.37 L659.75,113.27 L660.00,113.44 L660.25,113.79 L660.50,113.64 L660.75,113.77 L661.00,113.88 L661.25,113.39 L661.50,113.80 L661.75,113.84 L662.00,113.69 L662.25,113.50 L662.50,113.40 L662.75,113.56 L663.00,113.52 L663.25,113.46 L663.50,113.70 L663.75,113.68 L664.00,113.45 L664.25,113.40 L664.50,113.60 L664.75,113.73 L665.00,113.70 L665.25,113.68 L665.50,113.84 L665.75,113.75 L666.00,113.57 L666.25,113.75 L666.50,113.70 L666.75,113.50 L667.00,113.40 L667.25,113.53 L667.50,113.73 L667.75,113.75 L668.00,113.48 L668.25,113.62 L668.50,113.34 L668.75,113.66 L669.00,113.57" stroke="#88c35a" stroke-width="1.1" fill="none" />
<path d="M531.00,168.51 L531.25,168.59 L531.50,167.94 L531.75,168.67 L532.00,168.04 L532.25,168.67 L532.50,168.69 L532.75,168.08 L533.00,168.13 L533.25,168.02 L533.50,168.63 L533.75,168.51 L534.00,168.67 L534.25,168.55 L534.50,168.19 L534.75,168.52 L535.00,168.18 L535.25,168.16 L535.50,168.24 L535.75,168.46 L536.00,168.15 L536.25,168.35 L536.50,168.35 L536.75,168.53 L537.00,168.27 L537.25,168.23 L537.50,168.33 L537.75,168.25 L538.00,168.46 L538.25,167.95 L538.50,167.99 L538.75,167.85 L539.00,168.12 L539.25,168.42 L539.50,168.15 L539.75,168.08 L540.00,168.17 L540.25,167.88 L540.50,167.16 L540.75,166.69 L541.00,166.34 L541.25,165.24 L541.50,164.31 L541.75,162.15 L541.90,161.01 L542.00,162.24 L542.25,163.74 L542.50,164.96 L542.75,166.36 L543.00,166.56 L543.25,167.57 L543.50,167.66 L543.75,168.10 L544.00,167.97 L544.25,168.04 L544.50,167.93 L544.75,167.82 L545.00,168.58 L545.25,168.02 L545.50,167.92 L545.75,168.62 L546.00,168.31 L546.25,168.35 L546.50,168.63 L546.75,168.48 L547.00,168.10 L547.25,168.12 L547.50,168.42 L547.75,168.44 L548.00,168.08 L548.25,168.10 L548.50,168.31 L548.75,167.95 L549.00,168.54 L549.25,168.43 L549.50,168.02 L549.75,168.36 L550.00,168.37 L550.25,167.97 L550.50,168.24 L550.75,168.53 L551.00,168.26 L551.25,168.47 L551.50,168.08 L551.75,168.68 L552.00,168.41 L552.25,168.32 L552.50,167.87 L552.75,168.13 L553.00,167.82 L553.25,168.13 L553.50,167.87 L553.75,167.85 L554.00,167.80 L554.25,167.52 L554.50,167.42 L554.75,167.29 L555.00,166.57 L555.25,166.29 L555.50,165.72 L555.75,164.27 L556.00,162.65 L556.20,159.99 L556.25,160.98 L556.50,162.88 L556.75,165.00 L557.00,165.75 L557.25,166.69 L557.50,167.27 L557.75,167.13 L558.00,167.37 L558.25,168.12 L558.50,168.26 L558.75,168.04 L559.00,167.77 L559.25,167.82 L559.50,168.47 L559.75,168.41 L560.00,168.16 L560.25,168.42 L560.50,168.53 L560.75,167.89 L561.00,168.49 L561.25,168.68 L561.50,168.59 L561.75,168.60 L562.00,168.25 L562.25,168.38 L562.50,167.99 L562.75,168.53 L563.00,168.43 L563.25,168.22 L563.50,167.94 L563.75,168.04 L564.00,168.22 L564.25,168.64 L564.50,168.28 L564.75,168.59 L565.00,168.05 L565.25,168.10 L565.50,168.08 L565.75,168.12 L566.00,168.53 L566.25,168.18 L566.50,168.14 L566.75,168.42 L567.00,168.22 L567.25,168.54 L567.50,168.37 L567.75,168.44 L568.00,168.07 L568.25,167.97 L568.50,167.91 L568.75,168.18 L569.00,167.93 L569.25,167.31 L569.50,166.81 L569.75,165.83 L570.00,165.55 L570.25,164.05 L570.50,162.03 L570.75,163.70 L571.00,165.24 L571.25,166.34 L571.50,166.63 L571.75,167.07 L572.00,167.58 L572.25,167.79 L572.50,167.55 L572.75,167.70 L573.00,168.03 L573.25,168.35 L573.50,168.12 L573.75,167.85 L574.00,168.05 L574.25,168.03 L574.50,168.49 L574.75,168.07 L575.00,168.67 L575.25,168.12 L575.50,168.04 L575.75,167.91 L576.00,168.29 L576.25,168.31 L576.50,168.52 L576.75,168.43 L577.00,168.33 L577.25,167.94 L577.50,168.64 L577.75,168.10 L578.00,168.09 L578.25,168.04 L578.50,168.37 L578.75,168.42 L579.00,168.15 L579.25,168.10 L579.50,167.91 L579.75,168.37 L580.00,168.46 L580.25,167.99 L580.50,168.08 L580.75,168.48 L581.00,168.44 L581.25,167.97 L581.50,168.64 L581.75,168.40 L582.00,168.36 L582.25,168.00 L582.50,168.45 L582.75,167.93 L583.00,167.95 L583.25,168.03 L583.50,167.63 L583.75,166.70 L584.00,166.09 L584.25,165.33 L584.50,164.09 L584.75,163.02 L584.80,162.33 L585.00,163.77 L585.25,165.04 L585.50,166.09 L585.75,166.71 L586.00,167.40 L586.25,167.48 L586.50,168.06 L586.75,168.21 L587.00,168.34 L587.25,168.32 L587.50,167.91 L587.75,168.15 L588.00,168.51 L588.25,168.14 L588.50,168.33 L588.75,168.05 L589.00,168.54 L589.25,168.16 L589.50,168.18 L589.75,168.55 L590.00,167.97 L590.25,167.90 L590.50,168.24 L590.75,168.25 L591.00,167.99 L591.25,168.21 L591.50,168.51 L591.75,168.61 L592.00,168.64 L592.25,168.54 L592.50,167.96 L592.75,168.19 L593.00,168.26 L593.25,167.92 L593.50,168.52 L593.75,168.12 L594.00,168.52 L594.25,168.43 L594.50,168.10 L594.75,168.16 L595.00,168.24 L595.25,168.02 L595.50,167.86 L595.75,168.17 L596.00,167.99 L596.25,167.97 L596.50,168.33 L596.75,168.22 L597.00,167.83 L597.25,167.35 L597.50,167.70 L597.75,166.95 L598.00,166.32 L598.25,166.13 L598.50,165.23 L598.75,163.25 L599.00,161.40 L599.10,160.61 L599.25,161.86 L599.50,163.66 L599.75,164.86 L600.00,165.71 L600.25,167.07 L600.50,167.47 L600.75,167.29 L601.00,167.89 L601.25,167.68 L601.50,168.24 L601.75,168.02 L602.00,168.33 L602.25,168.24 L602.50,167.90 L602.75,168.31 L603.00,168.39 L603.25,167.92 L603.50,167.91 L603.75,168.11 L604.00,168.47 L604.25,168.68 L604.50,168.25 L604.75,168.58 L605.00,168.47 L605.25,168.12 L605.50,168.26 L605.75,168.58 L606.00,168.29 L606.25,168.30 L606.50,168.48 L606.75,168.02 L607.00,168.27 L607.25,168.32 L607.50,168.35 L607.75,168.45 L608.00,168.11 L608.25,168.28 L608.50,168.26 L608.75,167.97 L609.00,168.52 L609.25,168.65 L609.50,168.32 L609.75,168.19 L610.00,168.15 L610.25,168.19 L610.50,168.10 L610.75,167.98 L611.00,168.46 L611.25,167.91 L611.50,167.66 L611.75,167.84 L612.00,167.07 L612.25,166.98 L612.50,166.63 L612.75,166.11 L613.00,164.64 L613.25,162.94 L613.40,162.47 L613.50,162.53 L613.75,164.47 L614.00,165.68 L614.25,166.85 L614.50,166.90 L614.75,167.19 L615.00,167.50 L615.25,167.76 L615.50,167.71 L615.75,168.40 L616.00,168.16 L616.25,168.38 L616.50,168.05 L616.75,168.38 L617.00,168.59 L617.25,168.06 L617.50,168.65 L617.75,168.12 L618.00,168.47 L618.25,168.65 L618.50,168.27 L618.75,168.64 L619.00,168.21 L619.25,168.25 L619.50,168.64 L619.75,168.38 L620.00,167.94 L620.25,168.02 L620.50,168.33 L620.75,168.17 L621.00,167.95 L621.25,168.55 L621.50,168.16 L621.75,168.62 L622.00,168.19 L622.25,168.04 L622.50,168.23 L622.75,168.56 L623.00,168.62 L623.25,168.34 L623.50,168.08 L623.75,168.30 L624.00,168.07 L624.25,168.14 L624.50,167.83 L624.75,167.81 L625.00,168.50 L625.25,168.30 L625.50,167.79 L625.75,167.96 L626.00,167.32 L626.25,167.68 L626.50,167.13 L626.75,166.67 L627.00,165.67 L627.25,164.57 L627.50,163.29 L627.70,161.15 L627.75,161.44 L628.00,163.43 L628.25,165.44 L628.50,165.89 L628.75,166.39 L629.00,167.26 L629.25,167.24 L629.50,167.71 L629.75,168.14 L630.00,167.82 L630.25,168.05 L630.50,168.52 L630.75,168.51 L631.00,168.53 L631.25,167.89 L631.50,168.65 L631.75,168.33 L632.00,168.00 L632.25,168.68 L632.50,167.99 L632.75,168.68 L633.00,167.92 L633.25,167.96 L633.50,168.28 L633.75,168.39 L634.00,168.37 L634.25,168.55 L634.50,167.99 L634.75,168.48 L635.00,168.16 L635.25,168.66 L635.50,168.40 L635.75,168.45 L636.00,168.00 L636.25,168.63 L636.50,168.13 L636.75,168.06 L637.00,168.23 L637.25,168.52 L637.50,168.15 L637.75,168.26 L638.00,168.36 L638.25,168.07 L638.50,167.95 L638.75,168.16 L639.00,168.38 L639.25,168.32 L639.50,167.89 L639.75,168.17 L640.00,168.20 L640.25,167.94 L640.50,167.30 L640.75,166.86 L641.00,167.15 L641.25,166.28 L641.50,164.99 L641.75,164.02 L642.00,161.96 L642.25,163.93 L642.50,165.05 L642.75,166.24 L643.00,166.67 L643.25,167.13 L643.50,167.41 L643.75,167.96 L644.00,168.22 L644.25,167.88 L644.50,167.78 L644.75,167.98 L645.00,168.42 L645.25,168.12 L645.50,167.87 L645.75,168.54 L646.00,168.23 L646.25,167.94 L646.50,168.49 L646.75,168.30 L647.00,168.57 L647.25,168.56 L647.50,168.56 L647.75,168.60 L648.00,168.21 L648.25,168.55 L648.50,168.30 L648.75,168.42 L649.00,168.07 L649.25,168.40 L649.50,167.96 L649.75,168.59 L650.00,168.04 L650.25,168.35 L650.50,168.57 L650.75,168.56 L651.00,168.58 L651.25,168.24 L651.50,167.95 L651.75,168.68 L652.00,168.13 L652.25,168.58 L652.50,168.21 L652.75,168.22 L653.00,168.29 L653.25,168.27 L653.50,168.43 L653.75,168.23 L654.00,167.84 L654.25,168.05 L654.50,167.58 L654.75,168.02 L655.00,167.23 L655.25,167.03 L655.50,166.71 L655.75,165.80 L656.00,165.23 L656.25,163.69 L656.30,162.97 L656.50,164.34 L656.75,165.76 L657.00,166.40 L657.25,167.07 L657.50,167.23 L657.75,167.70 L658.00,167.92 L658.25,168.30 L658.50,167.96 L658.75,168.38 L659.00,167.96 L659.25,168.06 L659.50,168.03 L659.75,168.61 L660.00,167.95 L660.25,168.11 L660.50,168.26 L660.75,168.46 L661.00,168.42 L661.25,167.99 L661.50,168.21 L661.75,168.47 L662.00,168.01 L662.25,168.00 L662.50,168.56 L662.75,167.90 L663.00,167.96 L663.25,168.05 L663.50,168.57 L663.75,168.18 L664.00,168.24 L664.25,168.33 L664.50,168.61 L664.75,167.93 L665.00,168.05 L665.25,168.22 L665.50,168.41 L665.75,168.01 L666.00,168.25 L666.25,168.36 L666.50,167.95 L666.75,168.17 L667.00,167.95 L667.25,168.63 L667.50,167.91 L667.75,168.03 L668.00,168.39 L668.25,168.08 L668.50,168.36 L668.75,168.17 L669.00,168.69" stroke="#f68e1e" stroke-width="1.1" fill="none" />
<line x1="599.40" y1="14.00" x2="599.40" y2="171.00" stroke="#444" stroke-width="0.8" stroke-dasharray="2.2,1.6"/>
<line x1="601.00" y1="33.60" x2="612.50" y2="33.60" stroke="#444" stroke-width="0.7" stroke-dasharray="1.6,1.2"/>
<path d="M599.6,33.6 L602.4,32.4 L602.4,34.8 Z" stroke="none" stroke-width="0" fill="#333" />
<path d="M613.4,33.6 L610.6,32.4 L610.6,34.8 Z" stroke="none" stroke-width="0" fill="#333" />
<line x1="601.00" y1="92.30" x2="641.50" y2="92.30" stroke="#444" stroke-width="0.7" stroke-dasharray="1.6,1.2"/>
<path d="M599.6,92.3 L602.4,91.1 L602.4,93.5 Z" stroke="none" stroke-width="0" fill="#333" />
<path d="M642.6,92.3 L639.8,91.1 L639.8,93.5 Z" stroke="none" stroke-width="0" fill="#333" />
<text x="602.00" y="30.00" font-size="8.8" text-anchor="start" font-weight="normal" fill="#1e1e1e" font-family='"Liberation Serif", serif' font-style="normal" stroke="#1e1e1e" stroke-width="0.18" >&#916;<tspan font-style="italic">t</tspan><tspan font-size="6" dy="2">1</tspan></text>
<text x="616.00" y="88.50" font-size="8.8" text-anchor="start" font-weight="normal" fill="#1e1e1e" font-family='"Liberation Serif", serif' font-style="normal" stroke="#1e1e1e" stroke-width="0.18" >&#916;<tspan font-style="italic">t</tspan><tspan font-size="6" dy="2">2</tspan></text>
<text x="537.70" y="41.90" font-size="9.4" text-anchor="start" font-weight="normal" fill="#1e1e1e" font-family='"Liberation Serif", serif' font-style="normal" stroke="#1e1e1e" stroke-width="0.2" textLength="16.6" lengthAdjust="spacingAndGlyphs">[<tspan font-style="italic">x</tspan><tspan font-size="5.8" dy="1.8">1</tspan><tspan dy="-1.8">(</tspan><tspan font-style="italic">t</tspan>)</text>
<circle cx="560.80" cy="38.80" r="2.7" fill="none" stroke="#555" stroke-width="0.7"/>
<path d="M559.00,37.00 L562.60,40.60 M562.60,37.00 L559.00,40.60" stroke="#555" stroke-width="0.6" fill="none" />
<text x="565.70" y="41.90" font-size="9.4" text-anchor="start" font-weight="normal" fill="#1e1e1e" font-family='"Liberation Serif", serif' font-style="normal" stroke="#1e1e1e" stroke-width="0.2" textLength="17.2" lengthAdjust="spacingAndGlyphs"><tspan font-style="italic">y</tspan><tspan font-size="5.8" dy="1.8">1</tspan><tspan dy="-1.8">(</tspan><tspan font-style="italic">t</tspan>)]</text>
<text x="537.70" y="97.00" font-size="9.4" text-anchor="start" font-weight="normal" fill="#1e1e1e" font-family='"Liberation Serif", serif' font-style="normal" stroke="#1e1e1e" stroke-width="0.2" textLength="16.6" lengthAdjust="spacingAndGlyphs">[<tspan font-style="italic">x</tspan><tspan font-size="5.8" dy="1.8">2</tspan><tspan dy="-1.8">(</tspan><tspan font-style="italic">t</tspan>)</text>
<circle cx="560.80" cy="93.90" r="2.7" fill="none" stroke="#555" stroke-width="0.7"/>
<path d="M559.00,92.10 L562.60,95.70 M562.60,92.10 L559.00,95.70" stroke="#555" stroke-width="0.6" fill="none" />
<text x="565.70" y="97.00" font-size="9.4" text-anchor="start" font-weight="normal" fill="#1e1e1e" font-family='"Liberation Serif", serif' font-style="normal" stroke="#1e1e1e" stroke-width="0.2" textLength="17.2" lengthAdjust="spacingAndGlyphs"><tspan font-style="italic">y</tspan><tspan font-size="5.8" dy="1.8">2</tspan><tspan dy="-1.8">(</tspan><tspan font-style="italic">t</tspan>)]</text>
<text x="537.70" y="150.50" font-size="9.4" text-anchor="start" font-weight="normal" fill="#1e1e1e" font-family='"Liberation Serif", serif' font-style="normal" stroke="#1e1e1e" stroke-width="0.2" textLength="16.6" lengthAdjust="spacingAndGlyphs">[<tspan font-style="italic">x</tspan><tspan font-size="5.8" dy="1.8">1</tspan><tspan dy="-1.8">(</tspan><tspan font-style="italic">t</tspan>)</text>
<circle cx="560.80" cy="147.40" r="2.7" fill="none" stroke="#555" stroke-width="0.7"/>
<path d="M559.00,145.60 L562.60,149.20 M562.60,145.60 L559.00,149.20" stroke="#555" stroke-width="0.6" fill="none" />
<text x="565.70" y="150.50" font-size="9.4" text-anchor="start" font-weight="normal" fill="#1e1e1e" font-family='"Liberation Serif", serif' font-style="normal" stroke="#1e1e1e" stroke-width="0.2" textLength="17.2" lengthAdjust="spacingAndGlyphs"><tspan font-style="italic">y</tspan><tspan font-size="5.8" dy="1.8">2</tspan><tspan dy="-1.8">(</tspan><tspan font-style="italic">t</tspan>)]</text>
<text x="460.90" y="17.10" font-size="9.2" text-anchor="start" font-weight="normal" fill="#1e1e1e" font-family='"Liberation Serif", serif' font-style="normal" stroke="#1e1e1e" stroke-width="0.2" textLength="46.5" lengthAdjust="spacingAndGlyphs"><tspan font-style="italic">Ref.</tspan> 1&#160; [<tspan font-style="italic">x</tspan><tspan font-size="5.5" dy="1.8">1</tspan><tspan dy="-1.8">(</tspan><tspan font-style="italic">t</tspan>)]</text>
<text x="460.90" y="72.30" font-size="9.2" text-anchor="start" font-weight="normal" fill="#1e1e1e" font-family='"Liberation Serif", serif' font-style="normal" stroke="#1e1e1e" stroke-width="0.2" textLength="46.5" lengthAdjust="spacingAndGlyphs"><tspan font-style="italic">Ref.</tspan> 2&#160; [<tspan font-style="italic">x</tspan><tspan font-size="5.5" dy="1.8">2</tspan><tspan dy="-1.8">(</tspan><tspan font-style="italic">t</tspan>)]</text>
<text x="401.60" y="126.80" font-size="9.2" text-anchor="start" font-weight="normal" fill="#1e1e1e" font-family='"Liberation Serif", serif' font-style="normal" stroke="#1e1e1e" stroke-width="0.2" textLength="105.6" lengthAdjust="spacingAndGlyphs"><tspan font-style="italic">Echoes</tspan> [<tspan font-style="italic">y</tspan>(<tspan font-style="italic">t</tspan>)], [<tspan font-style="italic">y</tspan><tspan font-size="5.5" dy="1.8">1</tspan><tspan dy="-1.8">(</tspan><tspan font-style="italic">t</tspan>), <tspan font-style="italic">y</tspan><tspan font-size="5.5" dy="1.8">2</tspan><tspan dy="-1.8">(</tspan><tspan font-style="italic">t</tspan>), &#8230;]</text>
<text x="428.30" y="183.90" font-size="9.8" text-anchor="start" font-weight="normal" fill="#1a1a1a" font-family='"Liberation Sans", sans-serif' font-style="normal" stroke="#1a1a1a" stroke-width="0.18" textLength="20.9" lengthAdjust="spacingAndGlyphs">Time</text>
<text x="577.90" y="183.70" font-size="9.7" text-anchor="start" font-weight="normal" fill="#1a1a1a" font-family='"Liberation Sans", sans-serif' font-style="normal" stroke="#1a1a1a" stroke-width="0.18" textLength="45.2" lengthAdjust="spacingAndGlyphs">Delay time</text>
<text x="362.50" y="90.40" font-size="9.6" text-anchor="middle" font-weight="normal" fill="#222" font-family='"Liberation Sans", sans-serif' font-style="normal" stroke="#222" stroke-width="0.18" transform="rotate(-90 362.50 90.40)" >Intensity</text>
<rect x="31.4" y="316.3" width="197.2" height="34.69999999999999" fill="#dfecce"/>
<rect x="31.4" y="298.2" width="197.2" height="3.0" fill="#cbcbcb"/>
<path d="M31.4,298.4 L31.4,200.5 L228.6,200.5 L228.6,298.4" stroke="#6a6a6a" stroke-width="1.0" fill="none" />
<path d="M31.4,301.0 L31.4,367.3 L228.6,367.3 L228.6,301.0" stroke="#6a6a6a" stroke-width="1.0" fill="none" />
<line x1="31.40" y1="289.00" x2="33.20" y2="289.00" stroke="#6a6a6a" stroke-width="0.8" />
<line x1="31.40" y1="279.19" x2="32.60" y2="279.19" stroke="#6a6a6a" stroke-width="0.8" />
<line x1="31.40" y1="269.38" x2="33.20" y2="269.38" stroke="#6a6a6a" stroke-width="0.8" />
<line x1="31.40" y1="259.57" x2="32.60" y2="259.57" stroke="#6a6a6a" stroke-width="0.8" />
<line x1="31.40" y1="249.76" x2="33.20" y2="249.76" stroke="#6a6a6a" stroke-width="0.8" />
<line x1="31.40" y1="239.95" x2="32.60" y2="239.95" stroke="#6a6a6a" stroke-width="0.8" />
<line x1="31.40" y1="230.14" x2="33.20" y2="230.14" stroke="#6a6a6a" stroke-width="0.8" />
<line x1="31.40" y1="220.33" x2="32.60" y2="220.33" stroke="#6a6a6a" stroke-width="0.8" />
<line x1="31.40" y1="210.52" x2="33.20" y2="210.52" stroke="#6a6a6a" stroke-width="0.8" />
<line x1="40.80" y1="298.20" x2="40.80" y2="295.80" stroke="#6a6a6a" stroke-width="0.8" />
<line x1="40.80" y1="301.20" x2="40.80" y2="303.60" stroke="#6a6a6a" stroke-width="0.8" />
<line x1="40.80" y1="367.30" x2="40.80" y2="364.90" stroke="#6a6a6a" stroke-width="0.8" />
<line x1="64.23" y1="298.20" x2="64.23" y2="296.40" stroke="#6a6a6a" stroke-width="0.8" />
<line x1="64.23" y1="301.20" x2="64.23" y2="303.00" stroke="#6a6a6a" stroke-width="0.8" />
<line x1="64.23" y1="367.30" x2="64.23" y2="365.50" stroke="#6a6a6a" stroke-width="0.8" />
<line x1="87.67" y1="298.20" x2="87.67" y2="295.80" stroke="#6a6a6a" stroke-width="0.8" />
<line x1="87.67" y1="301.20" x2="87.67" y2="303.60" stroke="#6a6a6a" stroke-width="0.8" />
<line x1="87.67" y1="367.30" x2="87.67" y2="364.90" stroke="#6a6a6a" stroke-width="0.8" />
<line x1="111.11" y1="298.20" x2="111.11" y2="296.40" stroke="#6a6a6a" stroke-width="0.8" />
<line x1="111.11" y1="301.20" x2="111.11" y2="303.00" stroke="#6a6a6a" stroke-width="0.8" />
<line x1="111.11" y1="367.30" x2="111.11" y2="365.50" stroke="#6a6a6a" stroke-width="0.8" />
<line x1="134.54" y1="298.20" x2="134.54" y2="295.80" stroke="#6a6a6a" stroke-width="0.8" />
<line x1="134.54" y1="301.20" x2="134.54" y2="303.60" stroke="#6a6a6a" stroke-width="0.8" />
<line x1="134.54" y1="367.30" x2="134.54" y2="364.90" stroke="#6a6a6a" stroke-width="0.8" />
<line x1="157.98" y1="298.20" x2="157.98" y2="296.40" stroke="#6a6a6a" stroke-width="0.8" />
<line x1="157.98" y1="301.20" x2="157.98" y2="303.00" stroke="#6a6a6a" stroke-width="0.8" />
<line x1="157.98" y1="367.30" x2="157.98" y2="365.50" stroke="#6a6a6a" stroke-width="0.8" />
<line x1="181.41" y1="298.20" x2="181.41" y2="295.80" stroke="#6a6a6a" stroke-width="0.8" />
<line x1="181.41" y1="301.20" x2="181.41" y2="303.60" stroke="#6a6a6a" stroke-width="0.8" />
<line x1="181.41" y1="367.30" x2="181.41" y2="364.90" stroke="#6a6a6a" stroke-width="0.8" />
<line x1="204.85" y1="298.20" x2="204.85" y2="296.40" stroke="#6a6a6a" stroke-width="0.8" />
<line x1="204.85" y1="301.20" x2="204.85" y2="303.00" stroke="#6a6a6a" stroke-width="0.8" />
<line x1="204.85" y1="367.30" x2="204.85" y2="365.50" stroke="#6a6a6a" stroke-width="0.8" />
<line x1="228.28" y1="298.20" x2="228.28" y2="295.80" stroke="#6a6a6a" stroke-width="0.8" />
<line x1="228.28" y1="301.20" x2="228.28" y2="303.60" stroke="#6a6a6a" stroke-width="0.8" />
<line x1="228.28" y1="367.30" x2="228.28" y2="364.90" stroke="#6a6a6a" stroke-width="0.8" />
<line x1="31.40" y1="362.80" x2="33.20" y2="362.80" stroke="#6a6a6a" stroke-width="0.8" />
<line x1="31.40" y1="350.90" x2="32.60" y2="350.90" stroke="#6a6a6a" stroke-width="0.8" />
<line x1="31.40" y1="339.00" x2="33.20" y2="339.00" stroke="#6a6a6a" stroke-width="0.8" />
<line x1="31.40" y1="327.10" x2="32.60" y2="327.10" stroke="#6a6a6a" stroke-width="0.8" />
<line x1="31.40" y1="315.20" x2="33.20" y2="315.20" stroke="#6a6a6a" stroke-width="0.8" />
<line x1="40.80" y1="289.00" x2="221.25" y2="213.46" stroke="#2a2a2a" stroke-width="0.9" stroke-dasharray="2.6,1.4"/>
<circle cx="40.80" cy="289.00" r="2.6" fill="none" stroke="#2aa0e8" stroke-width="1.0"/>
<circle cx="50.17" cy="285.47" r="2.6" fill="none" stroke="#2aa0e8" stroke-width="1.0"/>
<circle cx="59.55" cy="280.76" r="2.6" fill="none" stroke="#2aa0e8" stroke-width="1.0"/>
<circle cx="68.92" cy="277.23" r="2.6" fill="none" stroke="#2aa0e8" stroke-width="1.0"/>
<circle cx="78.30" cy="273.70" r="2.6" fill="none" stroke="#2aa0e8" stroke-width="1.0"/>
<circle cx="87.67" cy="268.99" r="2.6" fill="none" stroke="#2aa0e8" stroke-width="1.0"/>
<circle cx="97.04" cy="265.46" r="2.6" fill="none" stroke="#2aa0e8" stroke-width="1.0"/>
<circle cx="106.42" cy="260.75" r="2.6" fill="none" stroke="#2aa0e8" stroke-width="1.0"/>
<circle cx="115.79" cy="257.22" r="2.6" fill="none" stroke="#2aa0e8" stroke-width="1.0"/>
<circle cx="125.17" cy="253.68" r="2.6" fill="none" stroke="#2aa0e8" stroke-width="1.0"/>
<circle cx="134.54" cy="250.15" r="2.6" fill="none" stroke="#2aa0e8" stroke-width="1.0"/>
<circle cx="143.91" cy="245.44" r="2.6" fill="none" stroke="#2aa0e8" stroke-width="1.0"/>
<circle cx="153.29" cy="241.91" r="2.6" fill="none" stroke="#2aa0e8" stroke-width="1.0"/>
<circle cx="162.66" cy="237.20" r="2.6" fill="none" stroke="#2aa0e8" stroke-width="1.0"/>
<circle cx="172.04" cy="233.67" r="2.6" fill="none" stroke="#2aa0e8" stroke-width="1.0"/>
<circle cx="181.41" cy="230.14" r="2.6" fill="none" stroke="#2aa0e8" stroke-width="1.0"/>
<circle cx="190.78" cy="225.43" r="2.6" fill="none" stroke="#2aa0e8" stroke-width="1.0"/>
<circle cx="200.16" cy="221.90" r="2.6" fill="none" stroke="#2aa0e8" stroke-width="1.0"/>
<circle cx="209.53" cy="218.37" r="2.6" fill="none" stroke="#2aa0e8" stroke-width="1.0"/>
<circle cx="218.91" cy="213.66" r="2.6" fill="none" stroke="#2aa0e8" stroke-width="1.0"/>
<line x1="31.40" y1="339.00" x2="228.60" y2="339.00" stroke="#8d9c84" stroke-width="1.0" stroke-dasharray="3,2"/>
<rect x="38.05" y="336.25" width="5.5" height="5.5" fill="#f4f5fb" fill-opacity="0.7" stroke="#4654b0" stroke-width="0.65"/>
<circle cx="40.80" cy="339.00" r="1.9" fill="none" stroke="#4654b0" stroke-width="0.5"/>
<path d="M38.05,336.25 L43.55,341.75 M43.55,336.25 L38.05,341.75" stroke="#4654b0" stroke-width="0.55" fill="none" />
<rect x="47.42" y="345.77" width="5.5" height="5.5" fill="#f4f5fb" fill-opacity="0.7" stroke="#4654b0" stroke-width="0.65"/>
<circle cx="50.17" cy="348.52" r="1.9" fill="none" stroke="#4654b0" stroke-width="0.5"/>
<path d="M47.42,345.77 L52.92,351.27 M52.92,345.77 L47.42,351.27" stroke="#4654b0" stroke-width="0.55" fill="none" />
<rect x="56.80" y="326.73" width="5.5" height="5.5" fill="#f4f5fb" fill-opacity="0.7" stroke="#4654b0" stroke-width="0.65"/>
<circle cx="59.55" cy="329.48" r="1.9" fill="none" stroke="#4654b0" stroke-width="0.5"/>
<path d="M56.80,326.73 L62.30,332.23 M62.30,326.73 L56.80,332.23" stroke="#4654b0" stroke-width="0.55" fill="none" />
<rect x="66.17" y="336.25" width="5.5" height="5.5" fill="#f4f5fb" fill-opacity="0.7" stroke="#4654b0" stroke-width="0.65"/>
<circle cx="68.92" cy="339.00" r="1.9" fill="none" stroke="#4654b0" stroke-width="0.5"/>
<path d="M66.17,336.25 L71.67,341.75 M71.67,336.25 L66.17,341.75" stroke="#4654b0" stroke-width="0.55" fill="none" />
<rect x="75.55" y="345.77" width="5.5" height="5.5" fill="#f4f5fb" fill-opacity="0.7" stroke="#4654b0" stroke-width="0.65"/>
<circle cx="78.30" cy="348.52" r="1.9" fill="none" stroke="#4654b0" stroke-width="0.5"/>
<path d="M75.55,345.77 L81.05,351.27 M81.05,345.77 L75.55,351.27" stroke="#4654b0" stroke-width="0.55" fill="none" />
<rect x="84.92" y="326.73" width="5.5" height="5.5" fill="#f4f5fb" fill-opacity="0.7" stroke="#4654b0" stroke-width="0.65"/>
<circle cx="87.67" cy="329.48" r="1.9" fill="none" stroke="#4654b0" stroke-width="0.5"/>
<path d="M84.92,326.73 L90.42,332.23 M90.42,326.73 L84.92,332.23" stroke="#4654b0" stroke-width="0.55" fill="none" />
<rect x="94.29" y="336.25" width="5.5" height="5.5" fill="#f4f5fb" fill-opacity="0.7" stroke="#4654b0" stroke-width="0.65"/>
<circle cx="97.04" cy="339.00" r="1.9" fill="none" stroke="#4654b0" stroke-width="0.5"/>
<path d="M94.29,336.25 L99.79,341.75 M99.79,336.25 L94.29,341.75" stroke="#4654b0" stroke-width="0.55" fill="none" />
<rect x="103.67" y="317.21" width="5.5" height="5.5" fill="#f4f5fb" fill-opacity="0.7" stroke="#4654b0" stroke-width="0.65"/>
<circle cx="106.42" cy="319.96" r="1.9" fill="none" stroke="#4654b0" stroke-width="0.5"/>
<path d="M103.67,317.21 L109.17,322.71 M109.17,317.21 L103.67,322.71" stroke="#4654b0" stroke-width="0.55" fill="none" />
<rect x="113.04" y="326.73" width="5.5" height="5.5" fill="#f4f5fb" fill-opacity="0.7" stroke="#4654b0" stroke-width="0.65"/>
<circle cx="115.79" cy="329.48" r="1.9" fill="none" stroke="#4654b0" stroke-width="0.5"/>
<path d="M113.04,326.73 L118.54,332.23 M118.54,326.73 L113.04,332.23" stroke="#4654b0" stroke-width="0.55" fill="none" />
<rect x="122.42" y="336.25" width="5.5" height="5.5" fill="#f4f5fb" fill-opacity="0.7" stroke="#4654b0" stroke-width="0.65"/>
<circle cx="125.17" cy="339.00" r="1.9" fill="none" stroke="#4654b0" stroke-width="0.5"/>
<path d="M122.42,336.25 L127.92,341.75 M127.92,336.25 L122.42,341.75" stroke="#4654b0" stroke-width="0.55" fill="none" />
<rect x="131.79" y="345.77" width="5.5" height="5.5" fill="#f4f5fb" fill-opacity="0.7" stroke="#4654b0" stroke-width="0.65"/>
<circle cx="134.54" cy="348.52" r="1.9" fill="none" stroke="#4654b0" stroke-width="0.5"/>
<path d="M131.79,345.77 L137.29,351.27 M137.29,345.77 L131.79,351.27" stroke="#4654b0" stroke-width="0.55" fill="none" />
<rect x="141.16" y="326.73" width="5.5" height="5.5" fill="#f4f5fb" fill-opacity="0.7" stroke="#4654b0" stroke-width="0.65"/>
<circle cx="143.91" cy="329.48" r="1.9" fill="none" stroke="#4654b0" stroke-width="0.5"/>
<path d="M141.16,326.73 L146.66,332.23 M146.66,326.73 L141.16,332.23" stroke="#4654b0" stroke-width="0.55" fill="none" />
<rect x="150.54" y="336.25" width="5.5" height="5.5" fill="#f4f5fb" fill-opacity="0.7" stroke="#4654b0" stroke-width="0.65"/>
<circle cx="153.29" cy="339.00" r="1.9" fill="none" stroke="#4654b0" stroke-width="0.5"/>
<path d="M150.54,336.25 L156.04,341.75 M156.04,336.25 L150.54,341.75" stroke="#4654b0" stroke-width="0.55" fill="none" />
<rect x="159.91" y="317.21" width="5.5" height="5.5" fill="#f4f5fb" fill-opacity="0.7" stroke="#4654b0" stroke-width="0.65"/>
<circle cx="162.66" cy="319.96" r="1.9" fill="none" stroke="#4654b0" stroke-width="0.5"/>
<path d="M159.91,317.21 L165.41,322.71 M165.41,317.21 L159.91,322.71" stroke="#4654b0" stroke-width="0.55" fill="none" />
<rect x="169.29" y="326.73" width="5.5" height="5.5" fill="#f4f5fb" fill-opacity="0.7" stroke="#4654b0" stroke-width="0.65"/>
<circle cx="172.04" cy="329.48" r="1.9" fill="none" stroke="#4654b0" stroke-width="0.5"/>
<path d="M169.29,326.73 L174.79,332.23 M174.79,326.73 L169.29,332.23" stroke="#4654b0" stroke-width="0.55" fill="none" />
<rect x="178.66" y="336.25" width="5.5" height="5.5" fill="#f4f5fb" fill-opacity="0.7" stroke="#4654b0" stroke-width="0.65"/>
<circle cx="181.41" cy="339.00" r="1.9" fill="none" stroke="#4654b0" stroke-width="0.5"/>
<path d="M178.66,336.25 L184.16,341.75 M184.16,336.25 L178.66,341.75" stroke="#4654b0" stroke-width="0.55" fill="none" />
<rect x="188.03" y="317.21" width="5.5" height="5.5" fill="#f4f5fb" fill-opacity="0.7" stroke="#4654b0" stroke-width="0.65"/>
<circle cx="190.78" cy="319.96" r="1.9" fill="none" stroke="#4654b0" stroke-width="0.5"/>
<path d="M188.03,317.21 L193.53,322.71 M193.53,317.21 L188.03,322.71" stroke="#4654b0" stroke-width="0.55" fill="none" />
<rect x="197.41" y="326.73" width="5.5" height="5.5" fill="#f4f5fb" fill-opacity="0.7" stroke="#4654b0" stroke-width="0.65"/>
<circle cx="200.16" cy="329.48" r="1.9" fill="none" stroke="#4654b0" stroke-width="0.5"/>
<path d="M197.41,326.73 L202.91,332.23 M202.91,326.73 L197.41,332.23" stroke="#4654b0" stroke-width="0.55" fill="none" />
<rect x="206.78" y="336.25" width="5.5" height="5.5" fill="#f4f5fb" fill-opacity="0.7" stroke="#4654b0" stroke-width="0.65"/>
<circle cx="209.53" cy="339.00" r="1.9" fill="none" stroke="#4654b0" stroke-width="0.5"/>
<path d="M206.78,336.25 L212.28,341.75 M212.28,336.25 L206.78,341.75" stroke="#4654b0" stroke-width="0.55" fill="none" />
<rect x="216.16" y="317.21" width="5.5" height="5.5" fill="#f4f5fb" fill-opacity="0.7" stroke="#4654b0" stroke-width="0.65"/>
<circle cx="218.91" cy="319.96" r="1.9" fill="none" stroke="#4654b0" stroke-width="0.5"/>
<path d="M216.16,317.21 L221.66,322.71 M221.66,317.21 L216.16,322.71" stroke="#4654b0" stroke-width="0.55" fill="none" />
<line x1="45.50" y1="319.50" x2="45.50" y2="334.50" stroke="#111" stroke-width="0.95" stroke-dasharray="2.2,1.2"/>
<path d="M43.6,320.2 L45.5,316.4 L47.4,320.2 L45.5,319.2 Z" stroke="none" stroke-width="0" fill="#111" />
<path d="M43.6,333.8 L45.5,337.6 L47.4,333.8 L45.5,334.8 Z" stroke="none" stroke-width="0" fill="#111" />
<text x="48.90" y="324.60" font-size="9.2" text-anchor="start" font-weight="normal" fill="#111" font-family='"Liberation Sans", sans-serif' font-style="normal" stroke="#111" stroke-width="0.18" textLength="21.2" lengthAdjust="spacingAndGlyphs">4 mm</text>
<text x="28.70" y="291.98" font-size="10.0" text-anchor="end" font-weight="normal" fill="#1a1a1a" font-family='"Liberation Sans", sans-serif' font-style="normal" stroke="#1a1a1a" stroke-width="0.18" >0</text>
<text x="28.70" y="272.36" font-size="10.0" text-anchor="end" font-weight="normal" fill="#1a1a1a" font-family='"Liberation Sans", sans-serif' font-style="normal" stroke="#1a1a1a" stroke-width="0.18" >10</text>
<text x="28.70" y="252.74" font-size="10.0" text-anchor="end" font-weight="normal" fill="#1a1a1a" font-family='"Liberation Sans", sans-serif' font-style="normal" stroke="#1a1a1a" stroke-width="0.18" >20</text>
<text x="28.70" y="233.12" font-size="10.0" text-anchor="end" font-weight="normal" fill="#1a1a1a" font-family='"Liberation Sans", sans-serif' font-style="normal" stroke="#1a1a1a" stroke-width="0.18" >30</text>
<text x="28.70" y="213.50" font-size="10.0" text-anchor="end" font-weight="normal" fill="#1a1a1a" font-family='"Liberation Sans", sans-serif' font-style="normal" stroke="#1a1a1a" stroke-width="0.18" >40</text>
<text x="28.70" y="318.18" font-size="10.0" text-anchor="end" font-weight="normal" fill="#1a1a1a" font-family='"Liberation Sans", sans-serif' font-style="normal" stroke="#1a1a1a" stroke-width="0.18" >5</text>
<text x="28.70" y="341.98" font-size="10.0" text-anchor="end" font-weight="normal" fill="#1a1a1a" font-family='"Liberation Sans", sans-serif' font-style="normal" stroke="#1a1a1a" stroke-width="0.18" >0</text>
<text x="28.70" y="365.78" font-size="10.0" text-anchor="end" font-weight="normal" fill="#1a1a1a" font-family='"Liberation Sans", sans-serif' font-style="normal" stroke="#1a1a1a" stroke-width="0.18" >-5</text>
<text x="41.00" y="378.00" font-size="10.0" text-anchor="middle" font-weight="normal" fill="#1a1a1a" font-family='"Liberation Sans", sans-serif' font-style="normal" stroke="#1a1a1a" stroke-width="0.18" >0</text>
<text x="87.87" y="378.00" font-size="10.0" text-anchor="middle" font-weight="normal" fill="#1a1a1a" font-family='"Liberation Sans", sans-serif' font-style="normal" stroke="#1a1a1a" stroke-width="0.18" >10</text>
<text x="134.74" y="378.00" font-size="10.0" text-anchor="middle" font-weight="normal" fill="#1a1a1a" font-family='"Liberation Sans", sans-serif' font-style="normal" stroke="#1a1a1a" stroke-width="0.18" >20</text>
<text x="181.61" y="378.00" font-size="10.0" text-anchor="middle" font-weight="normal" fill="#1a1a1a" font-family='"Liberation Sans", sans-serif' font-style="normal" stroke="#1a1a1a" stroke-width="0.18" >30</text>
<text x="228.70" y="376.80" font-size="10.0" text-anchor="middle" font-weight="normal" fill="#1a1a1a" font-family='"Liberation Sans", sans-serif' font-style="normal" stroke="#1a1a1a" stroke-width="0.18" >40</text>
<text x="81.70" y="392.60" font-size="9.9" text-anchor="start" font-weight="normal" fill="#1a1a1a" font-family='"Liberation Sans", sans-serif' font-style="normal" stroke="#1a1a1a" stroke-width="0.18" textLength="96.1" lengthAdjust="spacingAndGlyphs">Relative distance (cm)</text>
<text x="13.40" y="250.10" font-size="9.7" text-anchor="middle" font-weight="normal" fill="#1a1a1a" font-family='"Liberation Sans", sans-serif' font-style="normal" stroke="#1a1a1a" stroke-width="0.18" transform="rotate(-90 13.40 250.10)" textLength="50.2" lengthAdjust="spacingAndGlyphs">Range (cm)</text>
<text x="13.40" y="334.20" font-size="9.7" text-anchor="middle" font-weight="normal" fill="#1a1a1a" font-family='"Liberation Sans", sans-serif' font-style="normal" stroke="#1a1a1a" stroke-width="0.18" transform="rotate(-90 13.40 334.20)" textLength="47" lengthAdjust="spacingAndGlyphs">Error (mm)</text>
<path d="M264.5,200.6 L432.2,200.6 L432.2,367.4 L264.5,367.4 Z" stroke="#6a6a6a" stroke-width="1.0" fill="none" />
<line x1="279.73" y1="367.40" x2="279.73" y2="366.10" stroke="#6a6a6a" stroke-width="0.8" />
<line x1="264.50" y1="352.20" x2="265.80" y2="352.20" stroke="#6a6a6a" stroke-width="0.8" />
<line x1="294.95" y1="367.40" x2="294.95" y2="365.00" stroke="#6a6a6a" stroke-width="0.8" />
<line x1="264.50" y1="337.00" x2="266.90" y2="337.00" stroke="#6a6a6a" stroke-width="0.8" />
<line x1="310.18" y1="367.40" x2="310.18" y2="366.10" stroke="#6a6a6a" stroke-width="0.8" />
<line x1="264.50" y1="321.80" x2="265.80" y2="321.80" stroke="#6a6a6a" stroke-width="0.8" />
<line x1="325.40" y1="367.40" x2="325.40" y2="365.00" stroke="#6a6a6a" stroke-width="0.8" />
<line x1="264.50" y1="306.60" x2="266.90" y2="306.60" stroke="#6a6a6a" stroke-width="0.8" />
<line x1="340.62" y1="367.40" x2="340.62" y2="366.10" stroke="#6a6a6a" stroke-width="0.8" />
<line x1="264.50" y1="291.40" x2="265.80" y2="291.40" stroke="#6a6a6a" stroke-width="0.8" />
<line x1="355.85" y1="367.40" x2="355.85" y2="365.00" stroke="#6a6a6a" stroke-width="0.8" />
<line x1="264.50" y1="276.20" x2="266.90" y2="276.20" stroke="#6a6a6a" stroke-width="0.8" />
<line x1="371.07" y1="367.40" x2="371.07" y2="366.10" stroke="#6a6a6a" stroke-width="0.8" />
<line x1="264.50" y1="261.00" x2="265.80" y2="261.00" stroke="#6a6a6a" stroke-width="0.8" />
<line x1="386.30" y1="367.40" x2="386.30" y2="365.00" stroke="#6a6a6a" stroke-width="0.8" />
<line x1="264.50" y1="245.80" x2="266.90" y2="245.80" stroke="#6a6a6a" stroke-width="0.8" />
<line x1="401.52" y1="367.40" x2="401.52" y2="366.10" stroke="#6a6a6a" stroke-width="0.8" />
<line x1="264.50" y1="230.60" x2="265.80" y2="230.60" stroke="#6a6a6a" stroke-width="0.8" />
<line x1="416.75" y1="367.40" x2="416.75" y2="365.00" stroke="#6a6a6a" stroke-width="0.8" />
<line x1="264.50" y1="215.40" x2="266.90" y2="215.40" stroke="#6a6a6a" stroke-width="0.8" />
<circle cx="279.73" cy="351.41" r="2.75" fill="none" stroke="#2aa0e8" stroke-width="1.1"/>
<line x1="277.03" y1="348.67" x2="282.43" y2="348.67" stroke="#2f3c9e" stroke-width="1.15" />
<line x1="277.03" y1="354.15" x2="282.43" y2="354.15" stroke="#2f3c9e" stroke-width="1.15" />
<circle cx="294.95" cy="334.26" r="2.75" fill="none" stroke="#2aa0e8" stroke-width="1.1"/>
<line x1="294.95" y1="329.70" x2="294.95" y2="331.36" stroke="#2f3c9e" stroke-width="0.9774999999999999" />
<line x1="294.95" y1="337.16" x2="294.95" y2="338.82" stroke="#2f3c9e" stroke-width="0.9774999999999999" />
<line x1="292.25" y1="329.70" x2="297.65" y2="329.70" stroke="#2f3c9e" stroke-width="1.15" />
<line x1="292.25" y1="338.82" x2="297.65" y2="338.82" stroke="#2f3c9e" stroke-width="1.15" />
<circle cx="310.18" cy="321.19" r="2.75" fill="none" stroke="#2aa0e8" stroke-width="1.1"/>
<line x1="310.18" y1="316.94" x2="310.18" y2="318.29" stroke="#2f3c9e" stroke-width="0.9774999999999999" />
<line x1="310.18" y1="324.09" x2="310.18" y2="325.45" stroke="#2f3c9e" stroke-width="0.9774999999999999" />
<line x1="307.48" y1="316.94" x2="312.88" y2="316.94" stroke="#2f3c9e" stroke-width="1.15" />
<line x1="307.48" y1="325.45" x2="312.88" y2="325.45" stroke="#2f3c9e" stroke-width="1.15" />
<circle cx="325.40" cy="305.38" r="2.75" fill="none" stroke="#2aa0e8" stroke-width="1.1"/>
<line x1="324.00" y1="303.26" x2="326.80" y2="303.26" stroke="#2f3c9e" stroke-width="1.15" />
<line x1="324.00" y1="307.51" x2="326.80" y2="307.51" stroke="#2f3c9e" stroke-width="1.15" />
<circle cx="340.62" cy="285.93" r="2.75" fill="none" stroke="#2aa0e8" stroke-width="1.1"/>
<line x1="340.62" y1="281.67" x2="340.62" y2="283.03" stroke="#2f3c9e" stroke-width="0.9774999999999999" />
<line x1="340.62" y1="288.83" x2="340.62" y2="290.18" stroke="#2f3c9e" stroke-width="0.9774999999999999" />
<line x1="337.93" y1="281.67" x2="343.32" y2="281.67" stroke="#2f3c9e" stroke-width="1.15" />
<line x1="337.93" y1="290.18" x2="343.32" y2="290.18" stroke="#2f3c9e" stroke-width="1.15" />
<circle cx="355.85" cy="273.77" r="2.75" fill="none" stroke="#2aa0e8" stroke-width="1.1"/>
<line x1="355.85" y1="266.78" x2="355.85" y2="270.87" stroke="#2f3c9e" stroke-width="0.9774999999999999" />
<line x1="355.85" y1="276.67" x2="355.85" y2="280.76" stroke="#2f3c9e" stroke-width="0.9774999999999999" />
<line x1="353.15" y1="266.78" x2="358.55" y2="266.78" stroke="#2f3c9e" stroke-width="1.15" />
<line x1="353.15" y1="280.76" x2="358.55" y2="280.76" stroke="#2f3c9e" stroke-width="1.15" />
<circle cx="371.07" cy="262.22" r="2.75" fill="none" stroke="#2aa0e8" stroke-width="1.1"/>
<line x1="371.07" y1="255.83" x2="371.07" y2="259.32" stroke="#2f3c9e" stroke-width="0.9774999999999999" />
<line x1="371.07" y1="265.12" x2="371.07" y2="268.60" stroke="#2f3c9e" stroke-width="0.9774999999999999" />
<line x1="368.38" y1="255.83" x2="373.77" y2="255.83" stroke="#2f3c9e" stroke-width="1.15" />
<line x1="368.38" y1="268.60" x2="373.77" y2="268.60" stroke="#2f3c9e" stroke-width="1.15" />
<circle cx="386.30" cy="254.92" r="2.75" fill="none" stroke="#2aa0e8" stroke-width="1.1"/>
<line x1="386.30" y1="250.82" x2="386.30" y2="252.02" stroke="#2f3c9e" stroke-width="0.9774999999999999" />
<line x1="386.30" y1="257.82" x2="386.30" y2="259.02" stroke="#2f3c9e" stroke-width="0.9774999999999999" />
<line x1="383.60" y1="250.82" x2="389.00" y2="250.82" stroke="#2f3c9e" stroke-width="1.15" />
<line x1="383.60" y1="259.02" x2="389.00" y2="259.02" stroke="#2f3c9e" stroke-width="1.15" />
<circle cx="401.52" cy="230.60" r="2.75" fill="none" stroke="#2aa0e8" stroke-width="1.1"/>
<line x1="401.52" y1="217.68" x2="401.52" y2="227.70" stroke="#2f3c9e" stroke-width="0.9774999999999999" />
<line x1="401.52" y1="233.50" x2="401.52" y2="243.52" stroke="#2f3c9e" stroke-width="0.9774999999999999" />
<line x1="398.82" y1="217.68" x2="404.22" y2="217.68" stroke="#2f3c9e" stroke-width="1.15" />
<line x1="398.82" y1="243.52" x2="404.22" y2="243.52" stroke="#2f3c9e" stroke-width="1.15" />
<circle cx="416.75" cy="218.44" r="2.75" fill="none" stroke="#2aa0e8" stroke-width="1.1"/>
<line x1="416.75" y1="213.73" x2="416.75" y2="215.54" stroke="#2f3c9e" stroke-width="0.9774999999999999" />
<line x1="416.75" y1="221.34" x2="416.75" y2="223.15" stroke="#2f3c9e" stroke-width="0.9774999999999999" />
<line x1="414.05" y1="213.73" x2="419.45" y2="213.73" stroke="#2f3c9e" stroke-width="1.15" />
<line x1="414.05" y1="223.15" x2="419.45" y2="223.15" stroke="#2f3c9e" stroke-width="1.15" />
<line x1="274.24" y1="358.28" x2="420.71" y2="211.14" stroke="#363636" stroke-width="1.05" stroke-dasharray="2.6,1.3"/>
<text x="261.50" y="371.09" font-size="10.3" text-anchor="end" font-weight="normal" fill="#1a1a1a" font-family='"Liberation Sans", sans-serif' font-style="normal" stroke="#1a1a1a" stroke-width="0.18" >0</text>
<text x="264.60" y="379.00" font-size="10.3" text-anchor="middle" font-weight="normal" fill="#1a1a1a" font-family='"Liberation Sans", sans-serif' font-style="normal" stroke="#1a1a1a" stroke-width="0.18" >0</text>
<text x="261.50" y="340.69" font-size="10.3" text-anchor="end" font-weight="normal" fill="#1a1a1a" font-family='"Liberation Sans", sans-serif' font-style="normal" stroke="#1a1a1a" stroke-width="0.18" >10</text>
<text x="295.05" y="379.00" font-size="10.3" text-anchor="middle" font-weight="normal" fill="#1a1a1a" font-family='"Liberation Sans", sans-serif' font-style="normal" stroke="#1a1a1a" stroke-width="0.18" >10</text>
<text x="261.50" y="310.29" font-size="10.3" text-anchor="end" font-weight="normal" fill="#1a1a1a" font-family='"Liberation Sans", sans-serif' font-style="normal" stroke="#1a1a1a" stroke-width="0.18" >20</text>
<text x="325.50" y="379.00" font-size="10.3" text-anchor="middle" font-weight="normal" fill="#1a1a1a" font-family='"Liberation Sans", sans-serif' font-style="normal" stroke="#1a1a1a" stroke-width="0.18" >20</text>
<text x="261.50" y="279.89" font-size="10.3" text-anchor="end" font-weight="normal" fill="#1a1a1a" font-family='"Liberation Sans", sans-serif' font-style="normal" stroke="#1a1a1a" stroke-width="0.18" >30</text>
<text x="355.95" y="379.00" font-size="10.3" text-anchor="middle" font-weight="normal" fill="#1a1a1a" font-family='"Liberation Sans", sans-serif' font-style="normal" stroke="#1a1a1a" stroke-width="0.18" >30</text>
<text x="261.50" y="249.49" font-size="10.3" text-anchor="end" font-weight="normal" fill="#1a1a1a" font-family='"Liberation Sans", sans-serif' font-style="normal" stroke="#1a1a1a" stroke-width="0.18" >40</text>
<text x="386.40" y="379.00" font-size="10.3" text-anchor="middle" font-weight="normal" fill="#1a1a1a" font-family='"Liberation Sans", sans-serif' font-style="normal" stroke="#1a1a1a" stroke-width="0.18" >40</text>
<text x="261.50" y="219.09" font-size="10.3" text-anchor="end" font-weight="normal" fill="#1a1a1a" font-family='"Liberation Sans", sans-serif' font-style="normal" stroke="#1a1a1a" stroke-width="0.18" >50</text>
<text x="416.85" y="379.00" font-size="10.3" text-anchor="middle" font-weight="normal" fill="#1a1a1a" font-family='"Liberation Sans", sans-serif' font-style="normal" stroke="#1a1a1a" stroke-width="0.18" >50</text>
<text x="291.20" y="392.70" font-size="9.9" text-anchor="start" font-weight="normal" fill="#1a1a1a" font-family='"Liberation Sans", sans-serif' font-style="normal" stroke="#1a1a1a" stroke-width="0.18" textLength="114" lengthAdjust="spacingAndGlyphs">Actual Velocimetry (mm/s)</text>
<text x="246.30" y="335.60" font-size="9.9" text-anchor="start" font-weight="normal" fill="#1a1a1a" font-family='"Liberation Sans", sans-serif' font-style="normal" stroke="#1a1a1a" stroke-width="0.18" transform="rotate(-90 246.30 335.60)" textLength="103.6" lengthAdjust="spacingAndGlyphs">Test Velocimetry (mm/s)</text>
<path d="M482.7,200.6 L678.1,200.6 L678.1,367.3 L482.7,367.3 Z" stroke="#6a6a6a" stroke-width="1.0" fill="none" />
<line x1="483.20" y1="233.60" x2="677.60" y2="233.60" stroke="#c4c4c4" stroke-width="1.9" />
<line x1="482.70" y1="268.10" x2="678.10" y2="268.10" stroke="#6a6a6a" stroke-width="1.0" />
<line x1="482.70" y1="303.20" x2="678.10" y2="303.20" stroke="#6a6a6a" stroke-width="1.0" />
<line x1="499.43" y1="233.70" x2="499.43" y2="232.40" stroke="#6a6a6a" stroke-width="0.8" />
<line x1="499.43" y1="268.10" x2="499.43" y2="266.80" stroke="#6a6a6a" stroke-width="0.8" />
<line x1="499.43" y1="303.20" x2="499.43" y2="301.90" stroke="#6a6a6a" stroke-width="0.8" />
<line x1="499.43" y1="367.30" x2="499.43" y2="366.00" stroke="#6a6a6a" stroke-width="0.8" />
<line x1="515.67" y1="233.70" x2="515.67" y2="231.30" stroke="#6a6a6a" stroke-width="0.8" />
<line x1="515.67" y1="268.10" x2="515.67" y2="265.70" stroke="#6a6a6a" stroke-width="0.8" />
<line x1="515.67" y1="303.20" x2="515.67" y2="300.80" stroke="#6a6a6a" stroke-width="0.8" />
<line x1="515.67" y1="367.30" x2="515.67" y2="364.90" stroke="#6a6a6a" stroke-width="0.8" />
<line x1="531.90" y1="233.70" x2="531.90" y2="232.40" stroke="#6a6a6a" stroke-width="0.8" />
<line x1="531.90" y1="268.10" x2="531.90" y2="266.80" stroke="#6a6a6a" stroke-width="0.8" />
<line x1="531.90" y1="303.20" x2="531.90" y2="301.90" stroke="#6a6a6a" stroke-width="0.8" />
<line x1="531.90" y1="367.30" x2="531.90" y2="366.00" stroke="#6a6a6a" stroke-width="0.8" />
<line x1="548.13" y1="233.70" x2="548.13" y2="231.30" stroke="#6a6a6a" stroke-width="0.8" />
<line x1="548.13" y1="268.10" x2="548.13" y2="265.70" stroke="#6a6a6a" stroke-width="0.8" />
<line x1="548.13" y1="303.20" x2="548.13" y2="300.80" stroke="#6a6a6a" stroke-width="0.8" />
<line x1="548.13" y1="367.30" x2="548.13" y2="364.90" stroke="#6a6a6a" stroke-width="0.8" />
<line x1="564.37" y1="233.70" x2="564.37" y2="232.40" stroke="#6a6a6a" stroke-width="0.8" />
<line x1="564.37" y1="268.10" x2="564.37" y2="266.80" stroke="#6a6a6a" stroke-width="0.8" />
<line x1="564.37" y1="303.20" x2="564.37" y2="301.90" stroke="#6a6a6a" stroke-width="0.8" />
<line x1="564.37" y1="367.30" x2="564.37" y2="366.00" stroke="#6a6a6a" stroke-width="0.8" />
<line x1="580.60" y1="233.70" x2="580.60" y2="231.30" stroke="#6a6a6a" stroke-width="0.8" />
<line x1="580.60" y1="268.10" x2="580.60" y2="265.70" stroke="#6a6a6a" stroke-width="0.8" />
<line x1="580.60" y1="303.20" x2="580.60" y2="300.80" stroke="#6a6a6a" stroke-width="0.8" />
<line x1="580.60" y1="367.30" x2="580.60" y2="364.90" stroke="#6a6a6a" stroke-width="0.8" />
<line x1="596.83" y1="233.70" x2="596.83" y2="232.40" stroke="#6a6a6a" stroke-width="0.8" />
<line x1="596.83" y1="268.10" x2="596.83" y2="266.80" stroke="#6a6a6a" stroke-width="0.8" />
<line x1="596.83" y1="303.20" x2="596.83" y2="301.90" stroke="#6a6a6a" stroke-width="0.8" />
<line x1="596.83" y1="367.30" x2="596.83" y2="366.00" stroke="#6a6a6a" stroke-width="0.8" />
<line x1="613.06" y1="233.70" x2="613.06" y2="231.30" stroke="#6a6a6a" stroke-width="0.8" />
<line x1="613.06" y1="268.10" x2="613.06" y2="265.70" stroke="#6a6a6a" stroke-width="0.8" />
<line x1="613.06" y1="303.20" x2="613.06" y2="300.80" stroke="#6a6a6a" stroke-width="0.8" />
<line x1="613.06" y1="367.30" x2="613.06" y2="364.90" stroke="#6a6a6a" stroke-width="0.8" />
<line x1="629.30" y1="233.70" x2="629.30" y2="232.40" stroke="#6a6a6a" stroke-width="0.8" />
<line x1="629.30" y1="268.10" x2="629.30" y2="266.80" stroke="#6a6a6a" stroke-width="0.8" />
<line x1="629.30" y1="303.20" x2="629.30" y2="301.90" stroke="#6a6a6a" stroke-width="0.8" />
<line x1="629.30" y1="367.30" x2="629.30" y2="366.00" stroke="#6a6a6a" stroke-width="0.8" />
<line x1="645.53" y1="233.70" x2="645.53" y2="231.30" stroke="#6a6a6a" stroke-width="0.8" />
<line x1="645.53" y1="268.10" x2="645.53" y2="265.70" stroke="#6a6a6a" stroke-width="0.8" />
<line x1="645.53" y1="303.20" x2="645.53" y2="300.80" stroke="#6a6a6a" stroke-width="0.8" />
<line x1="645.53" y1="367.30" x2="645.53" y2="364.90" stroke="#6a6a6a" stroke-width="0.8" />
<line x1="661.76" y1="233.70" x2="661.76" y2="232.40" stroke="#6a6a6a" stroke-width="0.8" />
<line x1="661.76" y1="268.10" x2="661.76" y2="266.80" stroke="#6a6a6a" stroke-width="0.8" />
<line x1="661.76" y1="303.20" x2="661.76" y2="301.90" stroke="#6a6a6a" stroke-width="0.8" />
<line x1="661.76" y1="367.30" x2="661.76" y2="366.00" stroke="#6a6a6a" stroke-width="0.8" />
<line x1="482.70" y1="230.60" x2="484.50" y2="230.60" stroke="#6a6a6a" stroke-width="0.8" />
<line x1="482.70" y1="215.50" x2="484.50" y2="215.50" stroke="#6a6a6a" stroke-width="0.8" />
<line x1="482.70" y1="223.05" x2="483.90" y2="223.05" stroke="#6a6a6a" stroke-width="0.8" />
<line x1="482.70" y1="207.95" x2="483.90" y2="207.95" stroke="#6a6a6a" stroke-width="0.8" />
<circle cx="498.10" cy="225.47" r="2.5" fill="none" stroke="#2aa0e8" stroke-width="1.1"/>
<line x1="496.70" y1="223.96" x2="499.50" y2="223.96" stroke="#2f3c9e" stroke-width="1.1" />
<line x1="496.70" y1="226.98" x2="499.50" y2="226.98" stroke="#2f3c9e" stroke-width="1.1" />
<circle cx="508.96" cy="221.54" r="2.5" fill="none" stroke="#2aa0e8" stroke-width="1.1"/>
<line x1="507.56" y1="220.03" x2="510.36" y2="220.03" stroke="#2f3c9e" stroke-width="1.1" />
<line x1="507.56" y1="223.05" x2="510.36" y2="223.05" stroke="#2f3c9e" stroke-width="1.1" />
<circle cx="519.82" cy="223.35" r="2.5" fill="none" stroke="#2aa0e8" stroke-width="1.1"/>
<line x1="517.72" y1="220.94" x2="521.92" y2="220.94" stroke="#2f3c9e" stroke-width="1.1" />
<line x1="517.72" y1="225.77" x2="521.92" y2="225.77" stroke="#2f3c9e" stroke-width="1.1" />
<circle cx="530.68" cy="219.43" r="2.5" fill="none" stroke="#2aa0e8" stroke-width="1.1"/>
<line x1="529.28" y1="217.61" x2="532.08" y2="217.61" stroke="#2f3c9e" stroke-width="1.1" />
<line x1="529.28" y1="221.24" x2="532.08" y2="221.24" stroke="#2f3c9e" stroke-width="1.1" />
<circle cx="541.54" cy="220.03" r="2.5" fill="none" stroke="#2aa0e8" stroke-width="1.1"/>
<line x1="541.54" y1="214.59" x2="541.54" y2="217.13" stroke="#2f3c9e" stroke-width="0.935" />
<line x1="541.54" y1="222.93" x2="541.54" y2="225.47" stroke="#2f3c9e" stroke-width="0.935" />
<line x1="539.44" y1="214.59" x2="543.64" y2="214.59" stroke="#2f3c9e" stroke-width="1.1" />
<line x1="539.44" y1="225.47" x2="543.64" y2="225.47" stroke="#2f3c9e" stroke-width="1.1" />
<circle cx="552.40" cy="219.43" r="2.5" fill="none" stroke="#2aa0e8" stroke-width="1.1"/>
<line x1="551.00" y1="217.61" x2="553.80" y2="217.61" stroke="#2f3c9e" stroke-width="1.1" />
<line x1="551.00" y1="221.24" x2="553.80" y2="221.24" stroke="#2f3c9e" stroke-width="1.1" />
<circle cx="563.26" cy="215.80" r="2.5" fill="none" stroke="#2aa0e8" stroke-width="1.1"/>
<line x1="563.26" y1="214.44" x2="563.26" y2="217.16" stroke="#2f3c9e" stroke-width="0.9900000000000001" />
<line x1="561.90" y1="215.80" x2="564.62" y2="215.80" stroke="#2f3c9e" stroke-width="0.9900000000000001" />
<line x1="561.86" y1="214.44" x2="564.66" y2="214.44" stroke="#2f3c9e" stroke-width="1.1" />
<line x1="561.86" y1="217.16" x2="564.66" y2="217.16" stroke="#2f3c9e" stroke-width="1.1" />
<circle cx="574.12" cy="218.22" r="2.5" fill="none" stroke="#2aa0e8" stroke-width="1.1"/>
<line x1="574.12" y1="215.20" x2="574.12" y2="215.32" stroke="#2f3c9e" stroke-width="0.935" />
<line x1="574.12" y1="221.12" x2="574.12" y2="221.24" stroke="#2f3c9e" stroke-width="0.935" />
<line x1="572.02" y1="215.20" x2="576.22" y2="215.20" stroke="#2f3c9e" stroke-width="1.1" />
<line x1="572.02" y1="221.24" x2="576.22" y2="221.24" stroke="#2f3c9e" stroke-width="1.1" />
<circle cx="584.98" cy="223.05" r="2.5" fill="none" stroke="#2aa0e8" stroke-width="1.1"/>
<line x1="584.98" y1="217.01" x2="584.98" y2="220.15" stroke="#2f3c9e" stroke-width="0.935" />
<line x1="584.98" y1="225.95" x2="584.98" y2="229.09" stroke="#2f3c9e" stroke-width="0.935" />
<line x1="582.88" y1="217.01" x2="587.08" y2="217.01" stroke="#2f3c9e" stroke-width="1.1" />
<line x1="582.88" y1="229.09" x2="587.08" y2="229.09" stroke="#2f3c9e" stroke-width="1.1" />
<circle cx="595.84" cy="216.71" r="2.5" fill="none" stroke="#2aa0e8" stroke-width="1.1"/>
<line x1="595.84" y1="209.16" x2="595.84" y2="213.81" stroke="#2f3c9e" stroke-width="0.935" />
<line x1="595.84" y1="219.61" x2="595.84" y2="224.26" stroke="#2f3c9e" stroke-width="0.935" />
<line x1="593.74" y1="209.16" x2="597.94" y2="209.16" stroke="#2f3c9e" stroke-width="1.1" />
<line x1="593.74" y1="224.26" x2="597.94" y2="224.26" stroke="#2f3c9e" stroke-width="1.1" />
<circle cx="606.70" cy="214.29" r="2.5" fill="none" stroke="#2aa0e8" stroke-width="1.1"/>
<line x1="606.70" y1="209.46" x2="606.70" y2="211.39" stroke="#2f3c9e" stroke-width="0.935" />
<line x1="606.70" y1="217.19" x2="606.70" y2="219.12" stroke="#2f3c9e" stroke-width="0.935" />
<line x1="604.60" y1="209.46" x2="608.80" y2="209.46" stroke="#2f3c9e" stroke-width="1.1" />
<line x1="604.60" y1="219.12" x2="608.80" y2="219.12" stroke="#2f3c9e" stroke-width="1.1" />
<circle cx="617.56" cy="212.18" r="2.5" fill="none" stroke="#2aa0e8" stroke-width="1.1"/>
<line x1="615.46" y1="209.46" x2="619.66" y2="209.46" stroke="#2f3c9e" stroke-width="1.1" />
<line x1="615.46" y1="214.90" x2="619.66" y2="214.90" stroke="#2f3c9e" stroke-width="1.1" />
<circle cx="628.42" cy="211.88" r="2.5" fill="none" stroke="#2aa0e8" stroke-width="1.1"/>
<line x1="628.42" y1="205.84" x2="628.42" y2="208.98" stroke="#2f3c9e" stroke-width="0.935" />
<line x1="628.42" y1="214.78" x2="628.42" y2="217.92" stroke="#2f3c9e" stroke-width="0.935" />
<line x1="626.32" y1="205.84" x2="630.52" y2="205.84" stroke="#2f3c9e" stroke-width="1.1" />
<line x1="626.32" y1="217.92" x2="630.52" y2="217.92" stroke="#2f3c9e" stroke-width="1.1" />
<circle cx="639.28" cy="215.20" r="2.5" fill="none" stroke="#2aa0e8" stroke-width="1.1"/>
<line x1="639.28" y1="211.88" x2="639.28" y2="212.30" stroke="#2f3c9e" stroke-width="0.935" />
<line x1="639.28" y1="218.10" x2="639.28" y2="218.52" stroke="#2f3c9e" stroke-width="0.935" />
<line x1="637.18" y1="211.88" x2="641.38" y2="211.88" stroke="#2f3c9e" stroke-width="1.1" />
<line x1="637.18" y1="218.52" x2="641.38" y2="218.52" stroke="#2f3c9e" stroke-width="1.1" />
<circle cx="650.14" cy="213.08" r="2.5" fill="none" stroke="#2aa0e8" stroke-width="1.1"/>
<line x1="648.04" y1="210.37" x2="652.24" y2="210.37" stroke="#2f3c9e" stroke-width="1.1" />
<line x1="648.04" y1="215.80" x2="652.24" y2="215.80" stroke="#2f3c9e" stroke-width="1.1" />
<circle cx="661.00" cy="217.31" r="2.5" fill="none" stroke="#2aa0e8" stroke-width="1.1"/>
<line x1="661.00" y1="213.69" x2="661.00" y2="214.41" stroke="#2f3c9e" stroke-width="0.935" />
<line x1="661.00" y1="220.21" x2="661.00" y2="220.94" stroke="#2f3c9e" stroke-width="0.935" />
<line x1="658.90" y1="213.69" x2="663.10" y2="213.69" stroke="#2f3c9e" stroke-width="1.1" />
<line x1="658.90" y1="220.94" x2="663.10" y2="220.94" stroke="#2f3c9e" stroke-width="1.1" />
<line x1="482.70" y1="265.11" x2="484.50" y2="265.11" stroke="#6a6a6a" stroke-width="0.8" />
<line x1="482.70" y1="248.40" x2="484.50" y2="248.40" stroke="#6a6a6a" stroke-width="0.8" />
<line x1="482.70" y1="256.75" x2="483.90" y2="256.75" stroke="#6a6a6a" stroke-width="0.8" />
<line x1="482.70" y1="240.05" x2="483.90" y2="240.05" stroke="#6a6a6a" stroke-width="0.8" />
<path d="M498.10,246.90 L501.30,250.10 L498.10,253.30 L494.90,250.10 Z" fill="none" stroke="#2aa0e8" stroke-width="1.1"/>
<line x1="498.10" y1="244.10" x2="498.10" y2="246.90" stroke="#2f3c9e" stroke-width="0.935" />
<line x1="498.10" y1="253.30" x2="498.10" y2="256.10" stroke="#2f3c9e" stroke-width="0.935" />
<line x1="496.00" y1="244.10" x2="500.20" y2="244.10" stroke="#2f3c9e" stroke-width="1.1" />
<line x1="496.00" y1="256.10" x2="500.20" y2="256.10" stroke="#2f3c9e" stroke-width="1.1" />
<path d="M508.96,246.90 L512.16,250.10 L508.96,253.30 L505.76,250.10 Z" fill="none" stroke="#2aa0e8" stroke-width="1.1"/>
<line x1="507.56" y1="247.90" x2="510.36" y2="247.90" stroke="#2f3c9e" stroke-width="1.1" />
<line x1="507.56" y1="252.30" x2="510.36" y2="252.30" stroke="#2f3c9e" stroke-width="1.1" />
<path d="M519.82,246.90 L523.02,250.10 L519.82,253.30 L516.62,250.10 Z" fill="none" stroke="#2aa0e8" stroke-width="1.1"/>
<line x1="519.82" y1="244.10" x2="519.82" y2="246.90" stroke="#2f3c9e" stroke-width="0.935" />
<line x1="519.82" y1="253.30" x2="519.82" y2="256.10" stroke="#2f3c9e" stroke-width="0.935" />
<line x1="517.72" y1="244.10" x2="521.92" y2="244.10" stroke="#2f3c9e" stroke-width="1.1" />
<line x1="517.72" y1="256.10" x2="521.92" y2="256.10" stroke="#2f3c9e" stroke-width="1.1" />
<path d="M530.68,246.90 L533.88,250.10 L530.68,253.30 L527.48,250.10 Z" fill="none" stroke="#2aa0e8" stroke-width="1.1"/>
<line x1="530.68" y1="246.10" x2="530.68" y2="246.90" stroke="#2f3c9e" stroke-width="0.935" />
<line x1="530.68" y1="253.30" x2="530.68" y2="254.10" stroke="#2f3c9e" stroke-width="0.935" />
<line x1="528.58" y1="246.10" x2="532.78" y2="246.10" stroke="#2f3c9e" stroke-width="1.1" />
<line x1="528.58" y1="254.10" x2="532.78" y2="254.10" stroke="#2f3c9e" stroke-width="1.1" />
<path d="M541.54,246.90 L544.74,250.10 L541.54,253.30 L538.34,250.10 Z" fill="none" stroke="#2aa0e8" stroke-width="1.1"/>
<line x1="540.14" y1="247.90" x2="542.94" y2="247.90" stroke="#2f3c9e" stroke-width="1.1" />
<line x1="540.14" y1="252.30" x2="542.94" y2="252.30" stroke="#2f3c9e" stroke-width="1.1" />
<path d="M552.40,246.90 L555.60,250.10 L552.40,253.30 L549.20,250.10 Z" fill="none" stroke="#2aa0e8" stroke-width="1.1"/>
<line x1="552.40" y1="242.10" x2="552.40" y2="246.90" stroke="#2f3c9e" stroke-width="0.935" />
<line x1="552.40" y1="253.30" x2="552.40" y2="258.10" stroke="#2f3c9e" stroke-width="0.935" />
<line x1="550.30" y1="242.10" x2="554.50" y2="242.10" stroke="#2f3c9e" stroke-width="1.1" />
<line x1="550.30" y1="258.10" x2="554.50" y2="258.10" stroke="#2f3c9e" stroke-width="1.1" />
<path d="M563.26,246.90 L566.46,250.10 L563.26,253.30 L560.06,250.10 Z" fill="none" stroke="#2aa0e8" stroke-width="1.1"/>
<line x1="563.26" y1="244.10" x2="563.26" y2="246.90" stroke="#2f3c9e" stroke-width="0.935" />
<line x1="563.26" y1="253.30" x2="563.26" y2="256.10" stroke="#2f3c9e" stroke-width="0.935" />
<line x1="561.16" y1="244.10" x2="565.36" y2="244.10" stroke="#2f3c9e" stroke-width="1.1" />
<line x1="561.16" y1="256.10" x2="565.36" y2="256.10" stroke="#2f3c9e" stroke-width="1.1" />
<path d="M574.12,246.90 L577.32,250.10 L574.12,253.30 L570.92,250.10 Z" fill="none" stroke="#2aa0e8" stroke-width="1.1"/>
<line x1="572.72" y1="247.90" x2="575.52" y2="247.90" stroke="#2f3c9e" stroke-width="1.1" />
<line x1="572.72" y1="252.30" x2="575.52" y2="252.30" stroke="#2f3c9e" stroke-width="1.1" />
<path d="M584.98,246.90 L588.18,250.10 L584.98,253.30 L581.78,250.10 Z" fill="none" stroke="#2aa0e8" stroke-width="1.1"/>
<line x1="584.98" y1="240.10" x2="584.98" y2="246.90" stroke="#2f3c9e" stroke-width="0.935" />
<line x1="584.98" y1="253.30" x2="584.98" y2="260.10" stroke="#2f3c9e" stroke-width="0.935" />
<line x1="582.88" y1="240.10" x2="587.08" y2="240.10" stroke="#2f3c9e" stroke-width="1.1" />
<line x1="582.88" y1="260.10" x2="587.08" y2="260.10" stroke="#2f3c9e" stroke-width="1.1" />
<path d="M595.84,246.90 L599.04,250.10 L595.84,253.30 L592.64,250.10 Z" fill="none" stroke="#2aa0e8" stroke-width="1.1"/>
<line x1="595.84" y1="243.10" x2="595.84" y2="246.90" stroke="#2f3c9e" stroke-width="0.935" />
<line x1="595.84" y1="253.30" x2="595.84" y2="257.10" stroke="#2f3c9e" stroke-width="0.935" />
<line x1="593.74" y1="243.10" x2="597.94" y2="243.10" stroke="#2f3c9e" stroke-width="1.1" />
<line x1="593.74" y1="257.10" x2="597.94" y2="257.10" stroke="#2f3c9e" stroke-width="1.1" />
<path d="M606.70,246.90 L609.90,250.10 L606.70,253.30 L603.50,250.10 Z" fill="none" stroke="#2aa0e8" stroke-width="1.1"/>
<line x1="606.70" y1="245.10" x2="606.70" y2="246.90" stroke="#2f3c9e" stroke-width="0.935" />
<line x1="606.70" y1="253.30" x2="606.70" y2="255.10" stroke="#2f3c9e" stroke-width="0.935" />
<line x1="604.60" y1="245.10" x2="608.80" y2="245.10" stroke="#2f3c9e" stroke-width="1.1" />
<line x1="604.60" y1="255.10" x2="608.80" y2="255.10" stroke="#2f3c9e" stroke-width="1.1" />
<path d="M617.56,246.90 L620.76,250.10 L617.56,253.30 L614.36,250.10 Z" fill="none" stroke="#2aa0e8" stroke-width="1.1"/>
<line x1="617.56" y1="243.10" x2="617.56" y2="246.90" stroke="#2f3c9e" stroke-width="0.935" />
<line x1="617.56" y1="253.30" x2="617.56" y2="257.10" stroke="#2f3c9e" stroke-width="0.935" />
<line x1="615.46" y1="243.10" x2="619.66" y2="243.10" stroke="#2f3c9e" stroke-width="1.1" />
<line x1="615.46" y1="257.10" x2="619.66" y2="257.10" stroke="#2f3c9e" stroke-width="1.1" />
<path d="M628.42,246.90 L631.62,250.10 L628.42,253.30 L625.22,250.10 Z" fill="none" stroke="#2aa0e8" stroke-width="1.1"/>
<line x1="627.02" y1="247.90" x2="629.82" y2="247.90" stroke="#2f3c9e" stroke-width="1.1" />
<line x1="627.02" y1="252.30" x2="629.82" y2="252.30" stroke="#2f3c9e" stroke-width="1.1" />
<path d="M639.28,246.90 L642.48,250.10 L639.28,253.30 L636.08,250.10 Z" fill="none" stroke="#2aa0e8" stroke-width="1.1"/>
<line x1="637.88" y1="248.10" x2="640.68" y2="248.10" stroke="#2f3c9e" stroke-width="1.1" />
<line x1="637.88" y1="252.10" x2="640.68" y2="252.10" stroke="#2f3c9e" stroke-width="1.1" />
<path d="M650.14,246.90 L653.34,250.10 L650.14,253.30 L646.94,250.10 Z" fill="none" stroke="#2aa0e8" stroke-width="1.1"/>
<line x1="650.14" y1="248.60" x2="650.14" y2="251.60" stroke="#2f3c9e" stroke-width="0.9900000000000001" />
<line x1="648.64" y1="250.10" x2="651.64" y2="250.10" stroke="#2f3c9e" stroke-width="0.9900000000000001" />
<line x1="648.74" y1="248.60" x2="651.54" y2="248.60" stroke="#2f3c9e" stroke-width="1.1" />
<line x1="648.74" y1="251.60" x2="651.54" y2="251.60" stroke="#2f3c9e" stroke-width="1.1" />
<path d="M661.00,246.90 L664.20,250.10 L661.00,253.30 L657.80,250.10 Z" fill="none" stroke="#2aa0e8" stroke-width="1.1"/>
<line x1="661.00" y1="243.10" x2="661.00" y2="246.90" stroke="#2f3c9e" stroke-width="0.935" />
<line x1="661.00" y1="253.30" x2="661.00" y2="257.10" stroke="#2f3c9e" stroke-width="0.935" />
<line x1="658.90" y1="243.10" x2="663.10" y2="243.10" stroke="#2f3c9e" stroke-width="1.1" />
<line x1="658.90" y1="257.10" x2="663.10" y2="257.10" stroke="#2f3c9e" stroke-width="1.1" />
<line x1="482.70" y1="290.40" x2="484.50" y2="290.40" stroke="#6a6a6a" stroke-width="0.8" />
<line x1="482.70" y1="279.30" x2="484.50" y2="279.30" stroke="#6a6a6a" stroke-width="0.8" />
<line x1="482.70" y1="295.95" x2="483.90" y2="295.95" stroke="#6a6a6a" stroke-width="0.8" />
<line x1="482.70" y1="284.85" x2="483.90" y2="284.85" stroke="#6a6a6a" stroke-width="0.8" />
<line x1="482.70" y1="273.75" x2="483.90" y2="273.75" stroke="#6a6a6a" stroke-width="0.8" />
<circle cx="498.10" cy="285.96" r="2.5" fill="none" stroke="#2aa0e8" stroke-width="1.1"/>
<circle cx="508.96" cy="286.29" r="2.5" fill="none" stroke="#2aa0e8" stroke-width="1.1"/>
<circle cx="519.82" cy="286.29" r="2.5" fill="none" stroke="#2aa0e8" stroke-width="1.1"/>
<circle cx="530.68" cy="285.96" r="2.5" fill="none" stroke="#2aa0e8" stroke-width="1.1"/>
<circle cx="541.54" cy="284.85" r="2.5" fill="none" stroke="#2aa0e8" stroke-width="1.1"/>
<circle cx="552.40" cy="283.74" r="2.5" fill="none" stroke="#2aa0e8" stroke-width="1.1"/>
<circle cx="563.26" cy="282.07" r="2.5" fill="none" stroke="#2aa0e8" stroke-width="1.1"/>
<circle cx="574.12" cy="282.41" r="2.5" fill="none" stroke="#2aa0e8" stroke-width="1.1"/>
<circle cx="584.98" cy="282.41" r="2.5" fill="none" stroke="#2aa0e8" stroke-width="1.1"/>
<circle cx="595.84" cy="280.85" r="2.5" fill="none" stroke="#2aa0e8" stroke-width="1.1"/>
<circle cx="606.70" cy="280.52" r="2.5" fill="none" stroke="#2aa0e8" stroke-width="1.1"/>
<circle cx="617.56" cy="278.86" r="2.5" fill="none" stroke="#2aa0e8" stroke-width="1.1"/>
<circle cx="628.42" cy="278.97" r="2.5" fill="none" stroke="#2aa0e8" stroke-width="1.1"/>
<circle cx="639.28" cy="278.97" r="2.5" fill="none" stroke="#2aa0e8" stroke-width="1.1"/>
<circle cx="650.14" cy="279.08" r="2.5" fill="none" stroke="#2aa0e8" stroke-width="1.1"/>
<circle cx="661.00" cy="279.08" r="2.5" fill="none" stroke="#2aa0e8" stroke-width="1.1"/>
<line x1="482.70" y1="347.25" x2="484.50" y2="347.25" stroke="#6a6a6a" stroke-width="0.8" />
<line x1="482.70" y1="329.70" x2="484.50" y2="329.70" stroke="#6a6a6a" stroke-width="0.8" />
<line x1="482.70" y1="312.15" x2="484.50" y2="312.15" stroke="#6a6a6a" stroke-width="0.8" />
<line x1="482.70" y1="356.03" x2="483.90" y2="356.03" stroke="#6a6a6a" stroke-width="0.8" />
<line x1="482.70" y1="338.48" x2="483.90" y2="338.48" stroke="#6a6a6a" stroke-width="0.8" />
<line x1="482.70" y1="320.93" x2="483.90" y2="320.93" stroke="#6a6a6a" stroke-width="0.8" />
<path d="M493.30,364.15 L493.42,364.08 L493.54,364.02 L493.66,363.94 L493.78,363.85 L493.90,363.75 L494.02,363.64 L494.14,363.52 L494.26,363.38 L494.38,363.22 L494.50,363.04 L494.62,362.83 L494.74,362.59 L494.86,362.32 L494.98,362.01 L495.10,361.64 L495.22,361.23 L495.34,360.74 L495.46,360.18 L495.58,359.53 L495.70,358.77 L495.82,357.89 L495.94,356.86 L496.06,355.65 L496.18,354.24 L496.30,352.60 L496.42,350.70 L496.54,348.49 L496.66,345.95 L496.78,343.05 L496.90,339.77 L497.02,336.13 L497.14,332.15 L497.26,327.90 L497.38,323.52 L497.50,319.17 L497.62,315.07 L497.74,311.50 L497.86,308.70 L497.98,306.91 L498.10,306.30 L498.22,306.91 L498.34,308.70 L498.46,311.50 L498.58,315.07 L498.70,319.17 L498.82,323.52 L498.94,327.90 L499.06,332.15 L499.18,336.13 L499.30,339.77 L499.42,343.05 L499.54,345.95 L499.66,348.49 L499.78,350.70 L499.90,352.60 L500.02,354.24 L500.14,355.65 L500.26,356.86 L500.38,357.89 L500.50,358.77 L500.62,359.53 L500.74,360.18 L500.86,360.74 L500.98,361.23 L501.10,361.64 L501.22,362.01 L501.34,362.32 L501.46,362.59 L501.58,362.83 L501.70,363.04 L501.82,363.22 L501.94,363.38 L502.06,363.52 L502.18,363.64 L502.30,363.75 L502.42,363.85 L502.54,363.94 L502.66,364.02 L502.78,364.08 L502.90,364.15" stroke="hsl(120.0,85%,50%)" stroke-width="1.0" fill="none" />
<path d="M504.16,364.15 L504.28,364.08 L504.40,364.02 L504.52,363.94 L504.64,363.85 L504.76,363.75 L504.88,363.64 L505.00,363.52 L505.12,363.38 L505.24,363.22 L505.36,363.04 L505.48,362.83 L505.60,362.59 L505.72,362.32 L505.84,362.01 L505.96,361.64 L506.08,361.23 L506.20,360.74 L506.32,360.18 L506.44,359.53 L506.56,358.77 L506.68,357.89 L506.80,356.86 L506.92,355.65 L507.04,354.24 L507.16,352.60 L507.28,350.70 L507.40,348.49 L507.52,345.95 L507.64,343.05 L507.76,339.77 L507.88,336.13 L508.00,332.15 L508.12,327.90 L508.24,323.52 L508.36,319.17 L508.48,315.07 L508.60,311.50 L508.72,308.70 L508.84,306.91 L508.96,306.30 L509.08,306.91 L509.20,308.70 L509.32,311.50 L509.44,315.07 L509.56,319.17 L509.68,323.52 L509.80,327.90 L509.92,332.15 L510.04,336.13 L510.16,339.77 L510.28,343.05 L510.40,345.95 L510.52,348.49 L510.64,350.70 L510.76,352.60 L510.88,354.24 L511.00,355.65 L511.12,356.86 L511.24,357.89 L511.36,358.77 L511.48,359.53 L511.60,360.18 L511.72,360.74 L511.84,361.23 L511.96,361.64 L512.08,362.01 L512.20,362.32 L512.32,362.59 L512.44,362.83 L512.56,363.04 L512.68,363.22 L512.80,363.38 L512.92,363.52 L513.04,363.64 L513.16,363.75 L513.28,363.85 L513.40,363.94 L513.52,364.02 L513.64,364.08 L513.76,364.15" stroke="hsl(112.1,85%,50%)" stroke-width="1.0" fill="none" />
<path d="M515.02,364.15 L515.14,364.08 L515.26,364.02 L515.38,363.94 L515.50,363.85 L515.62,363.75 L515.74,363.64 L515.86,363.52 L515.98,363.38 L516.10,363.22 L516.22,363.04 L516.34,362.83 L516.46,362.59 L516.58,362.32 L516.70,362.01 L516.82,361.64 L516.94,361.23 L517.06,360.74 L517.18,360.18 L517.30,359.53 L517.42,358.77 L517.54,357.89 L517.66,356.86 L517.78,355.65 L517.90,354.24 L518.02,352.60 L518.14,350.70 L518.26,348.49 L518.38,345.95 L518.50,343.05 L518.62,339.77 L518.74,336.13 L518.86,332.15 L518.98,327.90 L519.10,323.52 L519.22,319.17 L519.34,315.07 L519.46,311.50 L519.58,308.70 L519.70,306.91 L519.82,306.30 L519.94,306.91 L520.06,308.70 L520.18,311.50 L520.30,315.07 L520.42,319.17 L520.54,323.52 L520.66,327.90 L520.78,332.15 L520.90,336.13 L521.02,339.77 L521.14,343.05 L521.26,345.95 L521.38,348.49 L521.50,350.70 L521.62,352.60 L521.74,354.24 L521.86,355.65 L521.98,356.86 L522.10,357.89 L522.22,358.77 L522.34,359.53 L522.46,360.18 L522.58,360.74 L522.70,361.23 L522.82,361.64 L522.94,362.01 L523.06,362.32 L523.18,362.59 L523.30,362.83 L523.42,363.04 L523.54,363.22 L523.66,363.38 L523.78,363.52 L523.90,363.64 L524.02,363.75 L524.14,363.85 L524.26,363.94 L524.38,364.02 L524.50,364.08 L524.62,364.15" stroke="hsl(104.3,85%,50%)" stroke-width="1.0" fill="none" />
<path d="M525.88,364.15 L526.00,364.08 L526.12,364.02 L526.24,363.94 L526.36,363.85 L526.48,363.75 L526.60,363.64 L526.72,363.52 L526.84,363.38 L526.96,363.22 L527.08,363.04 L527.20,362.83 L527.32,362.59 L527.44,362.32 L527.56,362.01 L527.68,361.64 L527.80,361.23 L527.92,360.74 L528.04,360.18 L528.16,359.53 L528.28,358.77 L528.40,357.89 L528.52,356.86 L528.64,355.65 L528.76,354.24 L528.88,352.60 L529.00,350.70 L529.12,348.49 L529.24,345.95 L529.36,343.05 L529.48,339.77 L529.60,336.13 L529.72,332.15 L529.84,327.90 L529.96,323.52 L530.08,319.17 L530.20,315.07 L530.32,311.50 L530.44,308.70 L530.56,306.91 L530.68,306.30 L530.80,306.91 L530.92,308.70 L531.04,311.50 L531.16,315.07 L531.28,319.17 L531.40,323.52 L531.52,327.90 L531.64,332.15 L531.76,336.13 L531.88,339.77 L532.00,343.05 L532.12,345.95 L532.24,348.49 L532.36,350.70 L532.48,352.60 L532.60,354.24 L532.72,355.65 L532.84,356.86 L532.96,357.89 L533.08,358.77 L533.20,359.53 L533.32,360.18 L533.44,360.74 L533.56,361.23 L533.68,361.64 L533.80,362.01 L533.92,362.32 L534.04,362.59 L534.16,362.83 L534.28,363.04 L534.40,363.22 L534.52,363.38 L534.64,363.52 L534.76,363.64 L534.88,363.75 L535.00,363.85 L535.12,363.94 L535.24,364.02 L535.36,364.08 L535.48,364.15" stroke="hsl(96.4,85%,50%)" stroke-width="1.0" fill="none" />
<path d="M536.74,364.15 L536.86,364.08 L536.98,364.02 L537.10,363.94 L537.22,363.85 L537.34,363.75 L537.46,363.64 L537.58,363.52 L537.70,363.38 L537.82,363.22 L537.94,363.04 L538.06,362.83 L538.18,362.59 L538.30,362.32 L538.42,362.01 L538.54,361.64 L538.66,361.23 L538.78,360.74 L538.90,360.18 L539.02,359.53 L539.14,358.77 L539.26,357.89 L539.38,356.86 L539.50,355.65 L539.62,354.24 L539.74,352.60 L539.86,350.70 L539.98,348.49 L540.10,345.95 L540.22,343.05 L540.34,339.77 L540.46,336.13 L540.58,332.15 L540.70,327.90 L540.82,323.52 L540.94,319.17 L541.06,315.07 L541.18,311.50 L541.30,308.70 L541.42,306.91 L541.54,306.30 L541.66,306.91 L541.78,308.70 L541.90,311.50 L542.02,315.07 L542.14,319.17 L542.26,323.52 L542.38,327.90 L542.50,332.15 L542.62,336.13 L542.74,339.77 L542.86,343.05 L542.98,345.95 L543.10,348.49 L543.22,350.70 L543.34,352.60 L543.46,354.24 L543.58,355.65 L543.70,356.86 L543.82,357.89 L543.94,358.77 L544.06,359.53 L544.18,360.18 L544.30,360.74 L544.42,361.23 L544.54,361.64 L544.66,362.01 L544.78,362.32 L544.90,362.59 L545.02,362.83 L545.14,363.04 L545.26,363.22 L545.38,363.38 L545.50,363.52 L545.62,363.64 L545.74,363.75 L545.86,363.85 L545.98,363.94 L546.10,364.02 L546.22,364.08 L546.34,364.15" stroke="hsl(88.5,85%,50%)" stroke-width="1.0" fill="none" />
<path d="M547.60,364.15 L547.72,364.08 L547.84,364.02 L547.96,363.94 L548.08,363.85 L548.20,363.75 L548.32,363.64 L548.44,363.52 L548.56,363.38 L548.68,363.22 L548.80,363.04 L548.92,362.83 L549.04,362.59 L549.16,362.32 L549.28,362.01 L549.40,361.64 L549.52,361.23 L549.64,360.74 L549.76,360.18 L549.88,359.53 L550.00,358.77 L550.12,357.89 L550.24,356.86 L550.36,355.65 L550.48,354.24 L550.60,352.60 L550.72,350.70 L550.84,348.49 L550.96,345.95 L551.08,343.05 L551.20,339.77 L551.32,336.13 L551.44,332.15 L551.56,327.90 L551.68,323.52 L551.80,319.17 L551.92,315.07 L552.04,311.50 L552.16,308.70 L552.28,306.91 L552.40,306.30 L552.52,306.91 L552.64,308.70 L552.76,311.50 L552.88,315.07 L553.00,319.17 L553.12,323.52 L553.24,327.90 L553.36,332.15 L553.48,336.13 L553.60,339.77 L553.72,343.05 L553.84,345.95 L553.96,348.49 L554.08,350.70 L554.20,352.60 L554.32,354.24 L554.44,355.65 L554.56,356.86 L554.68,357.89 L554.80,358.77 L554.92,359.53 L555.04,360.18 L555.16,360.74 L555.28,361.23 L555.40,361.64 L555.52,362.01 L555.64,362.32 L555.76,362.59 L555.88,362.83 L556.00,363.04 L556.12,363.22 L556.24,363.38 L556.36,363.52 L556.48,363.64 L556.60,363.75 L556.72,363.85 L556.84,363.94 L556.96,364.02 L557.08,364.08 L557.20,364.15" stroke="hsl(80.7,85%,50%)" stroke-width="1.0" fill="none" />
<path d="M558.46,364.15 L558.58,364.08 L558.70,364.02 L558.82,363.94 L558.94,363.85 L559.06,363.75 L559.18,363.64 L559.30,363.52 L559.42,363.38 L559.54,363.22 L559.66,363.04 L559.78,362.83 L559.90,362.59 L560.02,362.32 L560.14,362.01 L560.26,361.64 L560.38,361.23 L560.50,360.74 L560.62,360.18 L560.74,359.53 L560.86,358.77 L560.98,357.89 L561.10,356.86 L561.22,355.65 L561.34,354.24 L561.46,352.60 L561.58,350.70 L561.70,348.49 L561.82,345.95 L561.94,343.05 L562.06,339.77 L562.18,336.13 L562.30,332.15 L562.42,327.90 L562.54,323.52 L562.66,319.17 L562.78,315.07 L562.90,311.50 L563.02,308.70 L563.14,306.91 L563.26,306.30 L563.38,306.91 L563.50,308.70 L563.62,311.50 L563.74,315.07 L563.86,319.17 L563.98,323.52 L564.10,327.90 L564.22,332.15 L564.34,336.13 L564.46,339.77 L564.58,343.05 L564.70,345.95 L564.82,348.49 L564.94,350.70 L565.06,352.60 L565.18,354.24 L565.30,355.65 L565.42,356.86 L565.54,357.89 L565.66,358.77 L565.78,359.53 L565.90,360.18 L566.02,360.74 L566.14,361.23 L566.26,361.64 L566.38,362.01 L566.50,362.32 L566.62,362.59 L566.74,362.83 L566.86,363.04 L566.98,363.22 L567.10,363.38 L567.22,363.52 L567.34,363.64 L567.46,363.75 L567.58,363.85 L567.70,363.94 L567.82,364.02 L567.94,364.08 L568.06,364.15" stroke="hsl(72.8,85%,52%)" stroke-width="1.0" fill="none" />
<path d="M569.32,364.15 L569.44,364.08 L569.56,364.02 L569.68,363.94 L569.80,363.85 L569.92,363.75 L570.04,363.64 L570.16,363.52 L570.28,363.38 L570.40,363.22 L570.52,363.04 L570.64,362.83 L570.76,362.59 L570.88,362.32 L571.00,362.01 L571.12,361.64 L571.24,361.23 L571.36,360.74 L571.48,360.18 L571.60,359.53 L571.72,358.77 L571.84,357.89 L571.96,356.86 L572.08,355.65 L572.20,354.24 L572.32,352.60 L572.44,350.70 L572.56,348.49 L572.68,345.95 L572.80,343.05 L572.92,339.77 L573.04,336.13 L573.16,332.15 L573.28,327.90 L573.40,323.52 L573.52,319.17 L573.64,315.07 L573.76,311.50 L573.88,308.70 L574.00,306.91 L574.12,306.30 L574.24,306.91 L574.36,308.70 L574.48,311.50 L574.60,315.07 L574.72,319.17 L574.84,323.52 L574.96,327.90 L575.08,332.15 L575.20,336.13 L575.32,339.77 L575.44,343.05 L575.56,345.95 L575.68,348.49 L575.80,350.70 L575.92,352.60 L576.04,354.24 L576.16,355.65 L576.28,356.86 L576.40,357.89 L576.52,358.77 L576.64,359.53 L576.76,360.18 L576.88,360.74 L577.00,361.23 L577.12,361.64 L577.24,362.01 L577.36,362.32 L577.48,362.59 L577.60,362.83 L577.72,363.04 L577.84,363.22 L577.96,363.38 L578.08,363.52 L578.20,363.64 L578.32,363.75 L578.44,363.85 L578.56,363.94 L578.68,364.02 L578.80,364.08 L578.92,364.15" stroke="hsl(64.9,85%,52%)" stroke-width="1.0" fill="none" />
<path d="M580.18,364.15 L580.30,364.08 L580.42,364.02 L580.54,363.94 L580.66,363.85 L580.78,363.75 L580.90,363.64 L581.02,363.52 L581.14,363.38 L581.26,363.22 L581.38,363.04 L581.50,362.83 L581.62,362.59 L581.74,362.32 L581.86,362.01 L581.98,361.64 L582.10,361.23 L582.22,360.74 L582.34,360.18 L582.46,359.53 L582.58,358.77 L582.70,357.89 L582.82,356.86 L582.94,355.65 L583.06,354.24 L583.18,352.60 L583.30,350.70 L583.42,348.49 L583.54,345.95 L583.66,343.05 L583.78,339.77 L583.90,336.13 L584.02,332.15 L584.14,327.90 L584.26,323.52 L584.38,319.17 L584.50,315.07 L584.62,311.50 L584.74,308.70 L584.86,306.91 L584.98,306.30 L585.10,306.91 L585.22,308.70 L585.34,311.50 L585.46,315.07 L585.58,319.17 L585.70,323.52 L585.82,327.90 L585.94,332.15 L586.06,336.13 L586.18,339.77 L586.30,343.05 L586.42,345.95 L586.54,348.49 L586.66,350.70 L586.78,352.60 L586.90,354.24 L587.02,355.65 L587.14,356.86 L587.26,357.89 L587.38,358.77 L587.50,359.53 L587.62,360.18 L587.74,360.74 L587.86,361.23 L587.98,361.64 L588.10,362.01 L588.22,362.32 L588.34,362.59 L588.46,362.83 L588.58,363.04 L588.70,363.22 L588.82,363.38 L588.94,363.52 L589.06,363.64 L589.18,363.75 L589.30,363.85 L589.42,363.94 L589.54,364.02 L589.66,364.08 L589.78,364.15" stroke="hsl(57.1,85%,52%)" stroke-width="1.0" fill="none" />
<path d="M591.04,364.15 L591.16,364.08 L591.28,364.02 L591.40,363.94 L591.52,363.85 L591.64,363.75 L591.76,363.64 L591.88,363.52 L592.00,363.38 L592.12,363.22 L592.24,363.04 L592.36,362.83 L592.48,362.59 L592.60,362.32 L592.72,362.01 L592.84,361.64 L592.96,361.23 L593.08,360.74 L593.20,360.18 L593.32,359.53 L593.44,358.77 L593.56,357.89 L593.68,356.86 L593.80,355.65 L593.92,354.24 L594.04,352.60 L594.16,350.70 L594.28,348.49 L594.40,345.95 L594.52,343.05 L594.64,339.77 L594.76,336.13 L594.88,332.15 L595.00,327.90 L595.12,323.52 L595.24,319.17 L595.36,315.07 L595.48,311.50 L595.60,308.70 L595.72,306.91 L595.84,306.30 L595.96,306.91 L596.08,308.70 L596.20,311.50 L596.32,315.07 L596.44,319.17 L596.56,323.52 L596.68,327.90 L596.80,332.15 L596.92,336.13 L597.04,339.77 L597.16,343.05 L597.28,345.95 L597.40,348.49 L597.52,350.70 L597.64,352.60 L597.76,354.24 L597.88,355.65 L598.00,356.86 L598.12,357.89 L598.24,358.77 L598.36,359.53 L598.48,360.18 L598.60,360.74 L598.72,361.23 L598.84,361.64 L598.96,362.01 L599.08,362.32 L599.20,362.59 L599.32,362.83 L599.44,363.04 L599.56,363.22 L599.68,363.38 L599.80,363.52 L599.92,363.64 L600.04,363.75 L600.16,363.85 L600.28,363.94 L600.40,364.02 L600.52,364.08 L600.64,364.15" stroke="hsl(49.2,85%,52%)" stroke-width="1.0" fill="none" />
<path d="M601.90,364.15 L602.02,364.08 L602.14,364.02 L602.26,363.94 L602.38,363.85 L602.50,363.75 L602.62,363.64 L602.74,363.52 L602.86,363.38 L602.98,363.22 L603.10,363.04 L603.22,362.83 L603.34,362.59 L603.46,362.32 L603.58,362.01 L603.70,361.64 L603.82,361.23 L603.94,360.74 L604.06,360.18 L604.18,359.53 L604.30,358.77 L604.42,357.89 L604.54,356.86 L604.66,355.65 L604.78,354.24 L604.90,352.60 L605.02,350.70 L605.14,348.49 L605.26,345.95 L605.38,343.05 L605.50,339.77 L605.62,336.13 L605.74,332.15 L605.86,327.90 L605.98,323.52 L606.10,319.17 L606.22,315.07 L606.34,311.50 L606.46,308.70 L606.58,306.91 L606.70,306.30 L606.82,306.91 L606.94,308.70 L607.06,311.50 L607.18,315.07 L607.30,319.17 L607.42,323.52 L607.54,327.90 L607.66,332.15 L607.78,336.13 L607.90,339.77 L608.02,343.05 L608.14,345.95 L608.26,348.49 L608.38,350.70 L608.50,352.60 L608.62,354.24 L608.74,355.65 L608.86,356.86 L608.98,357.89 L609.10,358.77 L609.22,359.53 L609.34,360.18 L609.46,360.74 L609.58,361.23 L609.70,361.64 L609.82,362.01 L609.94,362.32 L610.06,362.59 L610.18,362.83 L610.30,363.04 L610.42,363.22 L610.54,363.38 L610.66,363.52 L610.78,363.64 L610.90,363.75 L611.02,363.85 L611.14,363.94 L611.26,364.02 L611.38,364.08 L611.50,364.15" stroke="hsl(41.3,85%,52%)" stroke-width="1.0" fill="none" />
<path d="M612.76,364.15 L612.88,364.08 L613.00,364.02 L613.12,363.94 L613.24,363.85 L613.36,363.75 L613.48,363.64 L613.60,363.52 L613.72,363.38 L613.84,363.22 L613.96,363.04 L614.08,362.83 L614.20,362.59 L614.32,362.32 L614.44,362.01 L614.56,361.64 L614.68,361.23 L614.80,360.74 L614.92,360.18 L615.04,359.53 L615.16,358.77 L615.28,357.89 L615.40,356.86 L615.52,355.65 L615.64,354.24 L615.76,352.60 L615.88,350.70 L616.00,348.49 L616.12,345.95 L616.24,343.05 L616.36,339.77 L616.48,336.13 L616.60,332.15 L616.72,327.90 L616.84,323.52 L616.96,319.17 L617.08,315.07 L617.20,311.50 L617.32,308.70 L617.44,306.91 L617.56,306.30 L617.68,306.91 L617.80,308.70 L617.92,311.50 L618.04,315.07 L618.16,319.17 L618.28,323.52 L618.40,327.90 L618.52,332.15 L618.64,336.13 L618.76,339.77 L618.88,343.05 L619.00,345.95 L619.12,348.49 L619.24,350.70 L619.36,352.60 L619.48,354.24 L619.60,355.65 L619.72,356.86 L619.84,357.89 L619.96,358.77 L620.08,359.53 L620.20,360.18 L620.32,360.74 L620.44,361.23 L620.56,361.64 L620.68,362.01 L620.80,362.32 L620.92,362.59 L621.04,362.83 L621.16,363.04 L621.28,363.22 L621.40,363.38 L621.52,363.52 L621.64,363.64 L621.76,363.75 L621.88,363.85 L622.00,363.94 L622.12,364.02 L622.24,364.08 L622.36,364.15" stroke="hsl(33.5,85%,50%)" stroke-width="1.0" fill="none" />
<path d="M623.62,364.15 L623.74,364.08 L623.86,364.02 L623.98,363.94 L624.10,363.85 L624.22,363.75 L624.34,363.64 L624.46,363.52 L624.58,363.38 L624.70,363.22 L624.82,363.04 L624.94,362.83 L625.06,362.59 L625.18,362.32 L625.30,362.01 L625.42,361.64 L625.54,361.23 L625.66,360.74 L625.78,360.18 L625.90,359.53 L626.02,358.77 L626.14,357.89 L626.26,356.86 L626.38,355.65 L626.50,354.24 L626.62,352.60 L626.74,350.70 L626.86,348.49 L626.98,345.95 L627.10,343.05 L627.22,339.77 L627.34,336.13 L627.46,332.15 L627.58,327.90 L627.70,323.52 L627.82,319.17 L627.94,315.07 L628.06,311.50 L628.18,308.70 L628.30,306.91 L628.42,306.30 L628.54,306.91 L628.66,308.70 L628.78,311.50 L628.90,315.07 L629.02,319.17 L629.14,323.52 L629.26,327.90 L629.38,332.15 L629.50,336.13 L629.62,339.77 L629.74,343.05 L629.86,345.95 L629.98,348.49 L630.10,350.70 L630.22,352.60 L630.34,354.24 L630.46,355.65 L630.58,356.86 L630.70,357.89 L630.82,358.77 L630.94,359.53 L631.06,360.18 L631.18,360.74 L631.30,361.23 L631.42,361.64 L631.54,362.01 L631.66,362.32 L631.78,362.59 L631.90,362.83 L632.02,363.04 L632.14,363.22 L632.26,363.38 L632.38,363.52 L632.50,363.64 L632.62,363.75 L632.74,363.85 L632.86,363.94 L632.98,364.02 L633.10,364.08 L633.22,364.15" stroke="hsl(25.6,85%,50%)" stroke-width="1.0" fill="none" />
<path d="M634.48,364.15 L634.60,364.08 L634.72,364.02 L634.84,363.94 L634.96,363.85 L635.08,363.75 L635.20,363.64 L635.32,363.52 L635.44,363.38 L635.56,363.22 L635.68,363.04 L635.80,362.83 L635.92,362.59 L636.04,362.32 L636.16,362.01 L636.28,361.64 L636.40,361.23 L636.52,360.74 L636.64,360.18 L636.76,359.53 L636.88,358.77 L637.00,357.89 L637.12,356.86 L637.24,355.65 L637.36,354.24 L637.48,352.60 L637.60,350.70 L637.72,348.49 L637.84,345.95 L637.96,343.05 L638.08,339.77 L638.20,336.13 L638.32,332.15 L638.44,327.90 L638.56,323.52 L638.68,319.17 L638.80,315.07 L638.92,311.50 L639.04,308.70 L639.16,306.91 L639.28,306.30 L639.40,306.91 L639.52,308.70 L639.64,311.50 L639.76,315.07 L639.88,319.17 L640.00,323.52 L640.12,327.90 L640.24,332.15 L640.36,336.13 L640.48,339.77 L640.60,343.05 L640.72,345.95 L640.84,348.49 L640.96,350.70 L641.08,352.60 L641.20,354.24 L641.32,355.65 L641.44,356.86 L641.56,357.89 L641.68,358.77 L641.80,359.53 L641.92,360.18 L642.04,360.74 L642.16,361.23 L642.28,361.64 L642.40,362.01 L642.52,362.32 L642.64,362.59 L642.76,362.83 L642.88,363.04 L643.00,363.22 L643.12,363.38 L643.24,363.52 L643.36,363.64 L643.48,363.75 L643.60,363.85 L643.72,363.94 L643.84,364.02 L643.96,364.08 L644.08,364.15" stroke="hsl(17.7,85%,50%)" stroke-width="1.0" fill="none" />
<path d="M645.34,364.15 L645.46,364.08 L645.58,364.02 L645.70,363.94 L645.82,363.85 L645.94,363.75 L646.06,363.64 L646.18,363.52 L646.30,363.38 L646.42,363.22 L646.54,363.04 L646.66,362.83 L646.78,362.59 L646.90,362.32 L647.02,362.01 L647.14,361.64 L647.26,361.23 L647.38,360.74 L647.50,360.18 L647.62,359.53 L647.74,358.77 L647.86,357.89 L647.98,356.86 L648.10,355.65 L648.22,354.24 L648.34,352.60 L648.46,350.70 L648.58,348.49 L648.70,345.95 L648.82,343.05 L648.94,339.77 L649.06,336.13 L649.18,332.15 L649.30,327.90 L649.42,323.52 L649.54,319.17 L649.66,315.07 L649.78,311.50 L649.90,308.70 L650.02,306.91 L650.14,306.30 L650.26,306.91 L650.38,308.70 L650.50,311.50 L650.62,315.07 L650.74,319.17 L650.86,323.52 L650.98,327.90 L651.10,332.15 L651.22,336.13 L651.34,339.77 L651.46,343.05 L651.58,345.95 L651.70,348.49 L651.82,350.70 L651.94,352.60 L652.06,354.24 L652.18,355.65 L652.30,356.86 L652.42,357.89 L652.54,358.77 L652.66,359.53 L652.78,360.18 L652.90,360.74 L653.02,361.23 L653.14,361.64 L653.26,362.01 L653.38,362.32 L653.50,362.59 L653.62,362.83 L653.74,363.04 L653.86,363.22 L653.98,363.38 L654.10,363.52 L654.22,363.64 L654.34,363.75 L654.46,363.85 L654.58,363.94 L654.70,364.02 L654.82,364.08 L654.94,364.15" stroke="hsl(9.9,85%,50%)" stroke-width="1.0" fill="none" />
<path d="M656.20,364.15 L656.32,364.08 L656.44,364.02 L656.56,363.94 L656.68,363.85 L656.80,363.75 L656.92,363.64 L657.04,363.52 L657.16,363.38 L657.28,363.22 L657.40,363.04 L657.52,362.83 L657.64,362.59 L657.76,362.32 L657.88,362.01 L658.00,361.64 L658.12,361.23 L658.24,360.74 L658.36,360.18 L658.48,359.53 L658.60,358.77 L658.72,357.89 L658.84,356.86 L658.96,355.65 L659.08,354.24 L659.20,352.60 L659.32,350.70 L659.44,348.49 L659.56,345.95 L659.68,343.05 L659.80,339.77 L659.92,336.13 L660.04,332.15 L660.16,327.90 L660.28,323.52 L660.40,319.17 L660.52,315.07 L660.64,311.50 L660.76,308.70 L660.88,306.91 L661.00,306.30 L661.12,306.91 L661.24,308.70 L661.36,311.50 L661.48,315.07 L661.60,319.17 L661.72,323.52 L661.84,327.90 L661.96,332.15 L662.08,336.13 L662.20,339.77 L662.32,343.05 L662.44,345.95 L662.56,348.49 L662.68,350.70 L662.80,352.60 L662.92,354.24 L663.04,355.65 L663.16,356.86 L663.28,357.89 L663.40,358.77 L663.52,359.53 L663.64,360.18 L663.76,360.74 L663.88,361.23 L664.00,361.64 L664.12,362.01 L664.24,362.32 L664.36,362.59 L664.48,362.83 L664.60,363.04 L664.72,363.22 L664.84,363.38 L664.96,363.52 L665.08,363.64 L665.20,363.75 L665.32,363.85 L665.44,363.94 L665.56,364.02 L665.68,364.08 L665.80,364.15" stroke="hsl(2.0,85%,50%)" stroke-width="1.0" fill="none" />
<line x1="483.30" y1="365.00" x2="677.50" y2="365.00" stroke="#e8301c" stroke-width="1.4" />
<text x="479.60" y="368.38" font-size="10.0" text-anchor="end" font-weight="normal" fill="#1a1a1a" font-family='"Liberation Sans", sans-serif' font-style="normal" stroke="#1a1a1a" stroke-width="0.18" >0.0</text>
<text x="479.60" y="350.83" font-size="10.0" text-anchor="end" font-weight="normal" fill="#1a1a1a" font-family='"Liberation Sans", sans-serif' font-style="normal" stroke="#1a1a1a" stroke-width="0.18" >0.3</text>
<text x="479.60" y="333.28" font-size="10.0" text-anchor="end" font-weight="normal" fill="#1a1a1a" font-family='"Liberation Sans", sans-serif' font-style="normal" stroke="#1a1a1a" stroke-width="0.18" >0.6</text>
<text x="479.60" y="315.73" font-size="10.0" text-anchor="end" font-weight="normal" fill="#1a1a1a" font-family='"Liberation Sans", sans-serif' font-style="normal" stroke="#1a1a1a" stroke-width="0.18" >0.9</text>
<text x="483.40" y="379.00" font-size="10.0" text-anchor="middle" font-weight="normal" fill="#1a1a1a" font-family='"Liberation Sans", sans-serif' font-style="normal" stroke="#1a1a1a" stroke-width="0.18" >520</text>
<text x="515.87" y="379.00" font-size="10.0" text-anchor="middle" font-weight="normal" fill="#1a1a1a" font-family='"Liberation Sans", sans-serif' font-style="normal" stroke="#1a1a1a" stroke-width="0.18" >550</text>
<text x="548.33" y="379.00" font-size="10.0" text-anchor="middle" font-weight="normal" fill="#1a1a1a" font-family='"Liberation Sans", sans-serif' font-style="normal" stroke="#1a1a1a" stroke-width="0.18" >580</text>
<text x="580.80" y="379.00" font-size="10.0" text-anchor="middle" font-weight="normal" fill="#1a1a1a" font-family='"Liberation Sans", sans-serif' font-style="normal" stroke="#1a1a1a" stroke-width="0.18" >610</text>
<text x="613.26" y="379.00" font-size="10.0" text-anchor="middle" font-weight="normal" fill="#1a1a1a" font-family='"Liberation Sans", sans-serif' font-style="normal" stroke="#1a1a1a" stroke-width="0.18" >640</text>
<text x="645.73" y="379.00" font-size="10.0" text-anchor="middle" font-weight="normal" fill="#1a1a1a" font-family='"Liberation Sans", sans-serif' font-style="normal" stroke="#1a1a1a" stroke-width="0.18" >670</text>
<text x="678.20" y="379.00" font-size="10.0" text-anchor="middle" font-weight="normal" fill="#1a1a1a" font-family='"Liberation Sans", sans-serif' font-style="normal" stroke="#1a1a1a" stroke-width="0.18" >700</text>
<text x="546.60" y="392.50" font-size="9.9" text-anchor="start" font-weight="normal" fill="#1a1a1a" font-family='"Liberation Sans", sans-serif' font-style="normal" stroke="#1a1a1a" stroke-width="0.18" textLength="73.3" lengthAdjust="spacingAndGlyphs">Wavelength (nm)</text>
<text x="479.60" y="203.73" font-size="10.0" text-anchor="end" font-weight="normal" fill="#1a1a1a" font-family='"Liberation Sans", sans-serif' font-style="normal" stroke="#1a1a1a" stroke-width="0.18" >25</text>
<text x="479.60" y="219.08" font-size="10.0" text-anchor="end" font-weight="normal" fill="#1a1a1a" font-family='"Liberation Sans", sans-serif' font-style="normal" stroke="#1a1a1a" stroke-width="0.18" >20</text>
<text x="479.60" y="234.18" font-size="10.0" text-anchor="end" font-weight="normal" fill="#1a1a1a" font-family='"Liberation Sans", sans-serif' font-style="normal" stroke="#1a1a1a" stroke-width="0.18" >15</text>
<text x="479.60" y="250.88" font-size="10.0" text-anchor="end" font-weight="normal" fill="#1a1a1a" font-family='"Liberation Sans", sans-serif' font-style="normal" stroke="#1a1a1a" stroke-width="0.18" >95</text>
<text x="479.60" y="268.48" font-size="10.0" text-anchor="end" font-weight="normal" fill="#1a1a1a" font-family='"Liberation Sans", sans-serif' font-style="normal" stroke="#1a1a1a" stroke-width="0.18" >92</text>
<text x="479.60" y="282.88" font-size="10.0" text-anchor="end" font-weight="normal" fill="#1a1a1a" font-family='"Liberation Sans", sans-serif' font-style="normal" stroke="#1a1a1a" stroke-width="0.18" >200</text>
<text x="479.60" y="293.98" font-size="10.0" text-anchor="end" font-weight="normal" fill="#1a1a1a" font-family='"Liberation Sans", sans-serif' font-style="normal" stroke="#1a1a1a" stroke-width="0.18" >100</text>
<text x="448.00" y="216.40" font-size="9.9" text-anchor="middle" font-weight="normal" fill="#1a1a1a" font-family='"Liberation Sans", sans-serif' font-style="normal" stroke="#1a1a1a" stroke-width="0.18" transform="rotate(-90 448.00 216.40)" >SNR</text>
<text x="458.80" y="216.20" font-size="9.9" text-anchor="middle" font-weight="normal" fill="#1a1a1a" font-family='"Liberation Sans", sans-serif' font-style="normal" stroke="#1a1a1a" stroke-width="0.18" transform="rotate(-90 458.80 216.20)" >(dB)</text>
<text x="448.00" y="251.00" font-size="9.9" text-anchor="middle" font-weight="normal" fill="#1a1a1a" font-family='"Liberation Sans", sans-serif' font-style="normal" stroke="#1a1a1a" stroke-width="0.18" transform="rotate(-90 448.00 251.00)" >Range</text>
<text x="458.80" y="251.00" font-size="9.9" text-anchor="middle" font-weight="normal" fill="#1a1a1a" font-family='"Liberation Sans", sans-serif' font-style="normal" stroke="#1a1a1a" stroke-width="0.18" transform="rotate(-90 458.80 251.00)" >(cm)</text>
<text x="448.00" y="285.50" font-size="9.9" text-anchor="middle" font-weight="normal" fill="#1a1a1a" font-family='"Liberation Sans", sans-serif' font-style="normal" stroke="#1a1a1a" stroke-width="0.18" transform="rotate(-90 448.00 285.50)" >Power</text>
<text x="458.80" y="285.50" font-size="9.9" text-anchor="middle" font-weight="normal" fill="#1a1a1a" font-family='"Liberation Sans", sans-serif' font-style="normal" stroke="#1a1a1a" stroke-width="0.18" transform="rotate(-90 458.80 285.50)" >(µW)</text>
<text x="448.00" y="335.00" font-size="9.9" text-anchor="middle" font-weight="normal" fill="#1a1a1a" font-family='"Liberation Sans", sans-serif' font-style="normal" stroke="#1a1a1a" stroke-width="0.18" transform="rotate(-90 448.00 335.00)" >Intensity</text>
<text x="458.80" y="335.00" font-size="9.9" text-anchor="middle" font-weight="normal" fill="#1a1a1a" font-family='"Liberation Sans", sans-serif' font-style="normal" stroke="#1a1a1a" stroke-width="0.18" transform="rotate(-90 458.80 335.00)" >(a.u.)</text>
</svg>
</body></html>
